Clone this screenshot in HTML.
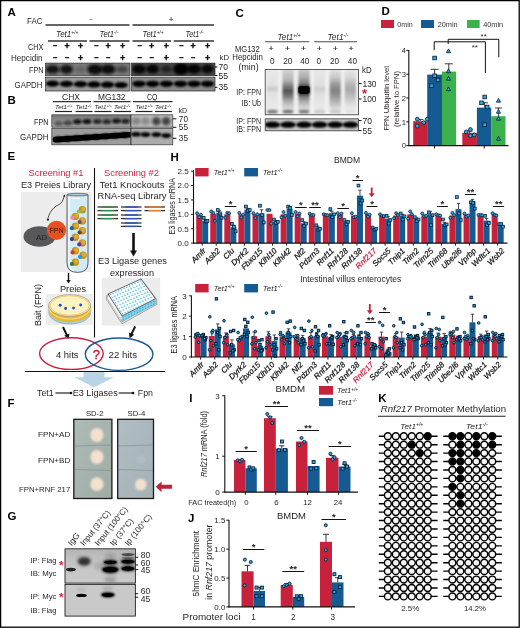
<!DOCTYPE html>
<html lang="en"><head><meta charset="utf-8"><title>Figure</title>
<style>
html,body{margin:0;padding:0;background:#fff;}
body{width:520px;height:628px;overflow:hidden;font-family:"Liberation Sans",sans-serif;}
svg{display:block;font-family:"Liberation Sans",sans-serif;fill:#231f20;}
</style></head><body>
<svg width="520" height="628" viewBox="0 0 520 628">
<defs>
<filter id="bl1" x="-30%" y="-60%" width="160%" height="220%"><feGaussianBlur stdDeviation="0.6"/></filter>
<filter id="bl15" x="-40%" y="-80%" width="180%" height="260%"><feGaussianBlur stdDeviation="1.0"/></filter>
<filter id="bl2" x="-40%" y="-80%" width="180%" height="260%"><feGaussianBlur stdDeviation="1.4"/></filter>
<filter id="bl3" x="-50%" y="-80%" width="200%" height="260%"><feGaussianBlur stdDeviation="2.4"/></filter>
<filter id="bl4" x="-50%" y="-50%" width="200%" height="200%"><feGaussianBlur stdDeviation="3.5"/></filter>
</defs>
<rect x="0" y="0" width="520" height="628" fill="#fff"/>
<text x="7.50" y="16.30" font-size="11.5" font-weight="bold" fill="#000">A</text>
<text x="27.00" y="23.60" font-size="8.4" textLength="15.50" lengthAdjust="spacingAndGlyphs">FAC</text>
<text x="91.00" y="21.84" font-size="6.4" text-anchor="middle" fill="#333" stroke="#333" stroke-width="0.15">−</text>
<text x="171.00" y="21.80" font-size="8" text-anchor="middle" fill="#333" stroke="#333" stroke-width="0.15">+</text>
<line x1="45.50" y1="25.00" x2="129.50" y2="25.00" stroke="#333" stroke-width="1.3" />
<line x1="132.50" y1="25.00" x2="214.00" y2="25.00" stroke="#333" stroke-width="1.3" />
<text x="56.00" y="37.00" font-size="8.2" font-style="italic" textLength="22.50" lengthAdjust="spacingAndGlyphs">Tet1<tspan font-size="5.08" dy="-2.95">+/+</tspan></text>
<text x="99.50" y="37.00" font-size="8.2" font-style="italic" textLength="19.00" lengthAdjust="spacingAndGlyphs">Tet1<tspan font-size="5.08" dy="-2.95">-/-</tspan></text>
<text x="142.50" y="37.00" font-size="8.2" font-style="italic" textLength="21.00" lengthAdjust="spacingAndGlyphs">Tet1<tspan font-size="5.08" dy="-2.95">+/+</tspan></text>
<text x="185.50" y="37.00" font-size="8.2" font-style="italic" textLength="18.00" lengthAdjust="spacingAndGlyphs">Tet1<tspan font-size="5.08" dy="-2.95">-/-</tspan></text>
<line x1="48.00" y1="41.00" x2="87.00" y2="41.00" stroke="#333" stroke-width="1.3" />
<line x1="89.50" y1="41.00" x2="129.50" y2="41.00" stroke="#333" stroke-width="1.3" />
<line x1="132.50" y1="41.00" x2="171.00" y2="41.00" stroke="#333" stroke-width="1.3" />
<line x1="173.80" y1="41.00" x2="214.00" y2="41.00" stroke="#333" stroke-width="1.3" />
<text x="28.00" y="49.60" font-size="8.4" textLength="15.50" lengthAdjust="spacingAndGlyphs">CHX</text>
<text x="11.00" y="61.00" font-size="8.4" textLength="31.50" lengthAdjust="spacingAndGlyphs">Hepcidin</text>
<text x="55.00" y="48.25" font-size="7" text-anchor="middle" font-weight="bold" fill="#111" stroke="#111" stroke-width="0.5">−</text>
<text x="55.00" y="60.45" font-size="7" text-anchor="middle" font-weight="bold" fill="#111" stroke="#111" stroke-width="0.5">−</text>
<text x="67.00" y="48.88" font-size="8.8" text-anchor="middle" font-weight="bold" fill="#111" stroke="#111" stroke-width="0.4">+</text>
<text x="67.00" y="60.45" font-size="7" text-anchor="middle" font-weight="bold" fill="#111" stroke="#111" stroke-width="0.5">−</text>
<text x="80.50" y="48.88" font-size="8.8" text-anchor="middle" font-weight="bold" fill="#111" stroke="#111" stroke-width="0.4">+</text>
<text x="80.50" y="61.08" font-size="8.8" text-anchor="middle" font-weight="bold" fill="#111" stroke="#111" stroke-width="0.4">+</text>
<text x="96.20" y="48.25" font-size="7" text-anchor="middle" font-weight="bold" fill="#111" stroke="#111" stroke-width="0.5">−</text>
<text x="96.20" y="60.45" font-size="7" text-anchor="middle" font-weight="bold" fill="#111" stroke="#111" stroke-width="0.5">−</text>
<text x="108.00" y="48.88" font-size="8.8" text-anchor="middle" font-weight="bold" fill="#111" stroke="#111" stroke-width="0.4">+</text>
<text x="108.00" y="60.45" font-size="7" text-anchor="middle" font-weight="bold" fill="#111" stroke="#111" stroke-width="0.5">−</text>
<text x="122.50" y="48.88" font-size="8.8" text-anchor="middle" font-weight="bold" fill="#111" stroke="#111" stroke-width="0.4">+</text>
<text x="122.50" y="61.08" font-size="8.8" text-anchor="middle" font-weight="bold" fill="#111" stroke="#111" stroke-width="0.4">+</text>
<text x="139.50" y="48.25" font-size="7" text-anchor="middle" font-weight="bold" fill="#111" stroke="#111" stroke-width="0.5">−</text>
<text x="139.50" y="60.45" font-size="7" text-anchor="middle" font-weight="bold" fill="#111" stroke="#111" stroke-width="0.5">−</text>
<text x="151.50" y="48.88" font-size="8.8" text-anchor="middle" font-weight="bold" fill="#111" stroke="#111" stroke-width="0.4">+</text>
<text x="151.50" y="60.45" font-size="7" text-anchor="middle" font-weight="bold" fill="#111" stroke="#111" stroke-width="0.5">−</text>
<text x="166.20" y="48.88" font-size="8.8" text-anchor="middle" font-weight="bold" fill="#111" stroke="#111" stroke-width="0.4">+</text>
<text x="166.20" y="61.08" font-size="8.8" text-anchor="middle" font-weight="bold" fill="#111" stroke="#111" stroke-width="0.4">+</text>
<text x="181.20" y="48.25" font-size="7" text-anchor="middle" font-weight="bold" fill="#111" stroke="#111" stroke-width="0.5">−</text>
<text x="181.20" y="60.45" font-size="7" text-anchor="middle" font-weight="bold" fill="#111" stroke="#111" stroke-width="0.5">−</text>
<text x="193.00" y="48.88" font-size="8.8" text-anchor="middle" font-weight="bold" fill="#111" stroke="#111" stroke-width="0.4">+</text>
<text x="193.00" y="60.45" font-size="7" text-anchor="middle" font-weight="bold" fill="#111" stroke="#111" stroke-width="0.5">−</text>
<text x="207.50" y="48.88" font-size="8.8" text-anchor="middle" font-weight="bold" fill="#111" stroke="#111" stroke-width="0.4">+</text>
<text x="207.50" y="61.08" font-size="8.8" text-anchor="middle" font-weight="bold" fill="#111" stroke="#111" stroke-width="0.4">+</text>
<text x="29.00" y="73.00" font-size="8.4" textLength="14.50" lengthAdjust="spacingAndGlyphs">FPN</text>
<text x="14.60" y="88.00" font-size="8.4" textLength="27.80" lengthAdjust="spacingAndGlyphs">GAPDH</text>
<clipPath id="cp1"><rect x="45.40" y="63.10" width="84.60" height="12.80"/></clipPath>
<g clip-path="url(#cp1)">
<rect x="45.40" y="63.10" width="84.60" height="12.80" fill="#7b7b7b" />
<ellipse cx="52.50" cy="69.30" rx="7.00" ry="4.40" fill="#0c0c0c" opacity="0.95" filter="url(#bl2)"/>
<ellipse cx="66.50" cy="69.30" rx="6.50" ry="4.60" fill="#0c0c0c" opacity="0.95" filter="url(#bl2)"/>
<ellipse cx="80.00" cy="69.30" rx="5.00" ry="3.00" fill="#0c0c0c" opacity="0.2" filter="url(#bl2)"/>
<ellipse cx="95.00" cy="69.30" rx="8.00" ry="5.40" fill="#0c0c0c" opacity="1" filter="url(#bl2)"/>
<ellipse cx="108.00" cy="69.30" rx="7.40" ry="5.00" fill="#0c0c0c" opacity="1" filter="url(#bl2)"/>
<ellipse cx="122.00" cy="69.30" rx="6.00" ry="3.60" fill="#0c0c0c" opacity="0.5" filter="url(#bl2)"/>
</g>
<rect x="45.40" y="63.10" width="84.60" height="12.80" fill="none" stroke="#2a2a2a" stroke-width="0.7" />
<clipPath id="cp2"><rect x="45.40" y="77.60" width="84.60" height="13.40"/></clipPath>
<g clip-path="url(#cp2)">
<rect x="45.40" y="77.60" width="84.60" height="13.40" fill="#9a9a9a" />
<ellipse cx="52.50" cy="83.61" rx="6.80" ry="3.10" fill="#000" opacity="1" filter="url(#bl15)"/>
<ellipse cx="66.50" cy="83.89" rx="6.80" ry="3.10" fill="#000" opacity="1" filter="url(#bl15)"/>
<ellipse cx="80.50" cy="84.17" rx="6.80" ry="3.10" fill="#000" opacity="1" filter="url(#bl15)"/>
<ellipse cx="94.00" cy="84.44" rx="6.80" ry="3.10" fill="#000" opacity="1" filter="url(#bl15)"/>
<ellipse cx="107.50" cy="84.71" rx="6.80" ry="3.10" fill="#000" opacity="1" filter="url(#bl15)"/>
<ellipse cx="121.00" cy="84.98" rx="6.80" ry="3.10" fill="#000" opacity="1" filter="url(#bl15)"/>
</g>
<rect x="45.40" y="77.60" width="84.60" height="13.40" fill="none" stroke="#2a2a2a" stroke-width="0.7" />
<clipPath id="cp3"><rect x="131.40" y="63.10" width="83.60" height="12.80"/></clipPath>
<g clip-path="url(#cp3)">
<rect x="131.40" y="63.10" width="83.60" height="12.80" fill="#4a4a4a" />
<ellipse cx="139.00" cy="69.00" rx="7.00" ry="4.60" fill="#050505" opacity="0.95" filter="url(#bl2)"/>
<ellipse cx="152.50" cy="69.00" rx="6.50" ry="4.40" fill="#050505" opacity="0.95" filter="url(#bl2)"/>
<ellipse cx="166.50" cy="69.00" rx="5.50" ry="3.60" fill="#050505" opacity="0.55" filter="url(#bl2)"/>
<ellipse cx="181.00" cy="69.00" rx="8.00" ry="6.00" fill="#050505" opacity="1" filter="url(#bl2)"/>
<ellipse cx="194.00" cy="69.00" rx="7.00" ry="5.00" fill="#050505" opacity="0.95" filter="url(#bl2)"/>
<ellipse cx="207.50" cy="69.00" rx="6.50" ry="4.40" fill="#050505" opacity="0.9" filter="url(#bl2)"/>
</g>
<rect x="131.40" y="63.10" width="83.60" height="12.80" fill="none" stroke="#2a2a2a" stroke-width="0.7" />
<clipPath id="cp4"><rect x="131.40" y="77.60" width="83.60" height="13.40"/></clipPath>
<g clip-path="url(#cp4)">
<rect x="131.40" y="77.60" width="83.60" height="13.40" fill="#888" />
<ellipse cx="139.00" cy="83.80" rx="6.80" ry="3.10" fill="#000" opacity="1" filter="url(#bl15)"/>
<ellipse cx="152.50" cy="83.80" rx="6.80" ry="3.10" fill="#000" opacity="1" filter="url(#bl15)"/>
<ellipse cx="166.50" cy="83.80" rx="6.80" ry="3.10" fill="#000" opacity="1" filter="url(#bl15)"/>
<ellipse cx="180.50" cy="83.80" rx="6.80" ry="3.10" fill="#000" opacity="1" filter="url(#bl15)"/>
<ellipse cx="194.00" cy="83.80" rx="6.80" ry="3.10" fill="#000" opacity="1" filter="url(#bl15)"/>
<ellipse cx="207.50" cy="83.80" rx="6.80" ry="3.10" fill="#000" opacity="1" filter="url(#bl15)"/>
</g>
<rect x="131.40" y="77.60" width="83.60" height="13.40" fill="none" stroke="#2a2a2a" stroke-width="0.7" />
<text x="219.50" y="60.30" font-size="8" textLength="9.50" lengthAdjust="spacingAndGlyphs">kD</text>
<line x1="215.00" y1="67.00" x2="217.50" y2="67.00" stroke="#111" stroke-width="1" />
<text x="218.50" y="70.00" font-size="8.4" textLength="9.50" lengthAdjust="spacingAndGlyphs">70</text>
<line x1="215.00" y1="75.50" x2="217.50" y2="75.50" stroke="#111" stroke-width="1" />
<text x="218.50" y="78.50" font-size="8.4" textLength="9.50" lengthAdjust="spacingAndGlyphs">55</text>
<line x1="215.00" y1="87.30" x2="217.50" y2="87.30" stroke="#111" stroke-width="1" />
<text x="218.50" y="90.30" font-size="8.4" textLength="9.50" lengthAdjust="spacingAndGlyphs">35</text>
<text x="7.50" y="104.30" font-size="11.5" font-weight="bold" fill="#000">B</text>
<text x="62.00" y="99.60" font-size="8.6" textLength="18.00" lengthAdjust="spacingAndGlyphs">CHX</text>
<text x="98.00" y="99.60" font-size="8.6" textLength="27.50" lengthAdjust="spacingAndGlyphs">MG132</text>
<text x="147.00" y="99.60" font-size="8.6" textLength="10.50" lengthAdjust="spacingAndGlyphs">CQ</text>
<line x1="53.00" y1="101.60" x2="91.00" y2="101.60" stroke="#333" stroke-width="1.3" />
<line x1="93.50" y1="101.60" x2="130.50" y2="101.60" stroke="#333" stroke-width="1.3" />
<line x1="133.00" y1="101.60" x2="172.50" y2="101.60" stroke="#333" stroke-width="1.3" />
<text x="55.00" y="109.20" font-size="5.8" font-style="italic" textLength="17.50" lengthAdjust="spacingAndGlyphs">Tet1<tspan font-size="3.60" dy="-2.09">+/+</tspan></text>
<line x1="55.00" y1="111.50" x2="72.00" y2="111.50" stroke="#222" stroke-width="1.2" />
<text x="75.50" y="109.20" font-size="5.8" font-style="italic" textLength="16.00" lengthAdjust="spacingAndGlyphs">Tet1<tspan font-size="3.60" dy="-2.09">-/-</tspan></text>
<line x1="75.50" y1="111.50" x2="92.50" y2="111.50" stroke="#222" stroke-width="1.2" />
<text x="94.50" y="109.20" font-size="5.8" font-style="italic" textLength="17.50" lengthAdjust="spacingAndGlyphs">Tet1<tspan font-size="3.60" dy="-2.09">+/+</tspan></text>
<line x1="94.50" y1="111.50" x2="111.50" y2="111.50" stroke="#222" stroke-width="1.2" />
<text x="114.00" y="109.20" font-size="5.8" font-style="italic" textLength="16.00" lengthAdjust="spacingAndGlyphs">Tet1<tspan font-size="3.60" dy="-2.09">-/-</tspan></text>
<line x1="114.00" y1="111.50" x2="131.00" y2="111.50" stroke="#222" stroke-width="1.2" />
<text x="135.50" y="109.20" font-size="5.8" font-style="italic" textLength="17.50" lengthAdjust="spacingAndGlyphs">Tet1<tspan font-size="3.60" dy="-2.09">+/+</tspan></text>
<line x1="135.50" y1="111.50" x2="152.50" y2="111.50" stroke="#222" stroke-width="1.2" />
<text x="155.00" y="109.20" font-size="5.8" font-style="italic" textLength="16.00" lengthAdjust="spacingAndGlyphs">Tet1<tspan font-size="3.60" dy="-2.09">-/-</tspan></text>
<line x1="155.00" y1="111.50" x2="172.00" y2="111.50" stroke="#222" stroke-width="1.2" />
<text x="34.00" y="125.00" font-size="8.4" textLength="14.50" lengthAdjust="spacingAndGlyphs">FPN</text>
<text x="20.00" y="140.00" font-size="8.4" textLength="28.50" lengthAdjust="spacingAndGlyphs">GAPDH</text>
<linearGradient id="bfg" x1="0" y1="0" x2="0" y2="1"><stop offset="0" stop-color="#747474"/><stop offset="0.5" stop-color="#8e8e8e"/><stop offset="1" stop-color="#a0a0a0"/></linearGradient>
<clipPath id="cp5"><rect x="51.80" y="114.80" width="79.20" height="12.40"/></clipPath>
<g clip-path="url(#cp5)">
<rect x="51.80" y="114.80" width="79.20" height="12.40" fill="url(#bfg)" />
<ellipse cx="58.70" cy="123.50" rx="4.40" ry="2.50" fill="#0a0a0a" opacity="0.45" filter="url(#bl15)"/>
<ellipse cx="67.90" cy="123.00" rx="4.40" ry="2.50" fill="#0a0a0a" opacity="0.6" filter="url(#bl15)"/>
<ellipse cx="77.40" cy="121.80" rx="4.40" ry="2.50" fill="#0a0a0a" opacity="0.95" filter="url(#bl15)"/>
<ellipse cx="87.00" cy="121.50" rx="4.40" ry="2.50" fill="#0a0a0a" opacity="1" filter="url(#bl15)"/>
<ellipse cx="97.30" cy="121.60" rx="4.40" ry="2.50" fill="#0a0a0a" opacity="0.8" filter="url(#bl15)"/>
<ellipse cx="106.80" cy="121.80" rx="4.40" ry="2.50" fill="#0a0a0a" opacity="0.8" filter="url(#bl15)"/>
<ellipse cx="116.40" cy="121.10" rx="4.40" ry="2.50" fill="#0a0a0a" opacity="0.95" filter="url(#bl15)"/>
<ellipse cx="125.40" cy="121.30" rx="4.40" ry="2.50" fill="#0a0a0a" opacity="0.85" filter="url(#bl15)"/>
</g>
<rect x="51.80" y="114.80" width="79.20" height="12.40" fill="none" stroke="#2a2a2a" stroke-width="0.7" />
<clipPath id="cp6"><rect x="131.00" y="114.80" width="41.80" height="12.40"/></clipPath>
<g clip-path="url(#cp6)">
<rect x="131.00" y="114.80" width="41.80" height="12.40" fill="#bcbcbc" />
<ellipse cx="136.00" cy="121.20" rx="4.30" ry="4.00" fill="#222" opacity="0.35" filter="url(#bl2)"/>
<ellipse cx="145.50" cy="121.20" rx="4.30" ry="4.00" fill="#222" opacity="0.3" filter="url(#bl2)"/>
<ellipse cx="156.40" cy="121.20" rx="4.30" ry="4.20" fill="#222" opacity="0.8" filter="url(#bl2)"/>
<ellipse cx="166.20" cy="121.20" rx="4.30" ry="4.20" fill="#222" opacity="0.8" filter="url(#bl2)"/>
</g>
<rect x="131.00" y="114.80" width="41.80" height="12.40" fill="none" stroke="#2a2a2a" stroke-width="0.7" />
<clipPath id="cp7"><rect x="51.80" y="128.40" width="79.20" height="16.40"/></clipPath>
<g clip-path="url(#cp7)">
<rect x="51.80" y="128.40" width="79.20" height="16.40" fill="#9c9c9c" />
<polyline points="55.5,139.6 129.5,134.8" fill="none" stroke="#000" stroke-width="5.6" stroke-linecap="round" filter="url(#bl1)"/>
<ellipse cx="58.50" cy="139.31" rx="5.20" ry="2.90" fill="#000" opacity="1" filter="url(#bl15)"/>
<ellipse cx="67.50" cy="138.73" rx="5.20" ry="2.90" fill="#000" opacity="1" filter="url(#bl15)"/>
<ellipse cx="77.00" cy="138.12" rx="5.20" ry="2.90" fill="#000" opacity="1" filter="url(#bl15)"/>
<ellipse cx="86.50" cy="137.52" rx="5.20" ry="2.90" fill="#000" opacity="1" filter="url(#bl15)"/>
<ellipse cx="96.00" cy="136.91" rx="5.20" ry="2.90" fill="#000" opacity="1" filter="url(#bl15)"/>
<ellipse cx="105.50" cy="136.30" rx="5.20" ry="2.90" fill="#000" opacity="1" filter="url(#bl15)"/>
<ellipse cx="115.00" cy="135.69" rx="5.20" ry="2.90" fill="#000" opacity="1" filter="url(#bl15)"/>
<ellipse cx="124.50" cy="135.08" rx="5.20" ry="2.90" fill="#000" opacity="1" filter="url(#bl15)"/>
</g>
<rect x="51.80" y="128.40" width="79.20" height="16.40" fill="none" stroke="#2a2a2a" stroke-width="0.7" />
<clipPath id="cp8"><rect x="131.00" y="128.40" width="41.80" height="16.40"/></clipPath>
<g clip-path="url(#cp8)">
<rect x="131.00" y="128.40" width="41.80" height="16.40" fill="#ababab" />
<ellipse cx="136.00" cy="134.20" rx="4.90" ry="2.30" fill="#000" opacity="1" filter="url(#bl15)"/>
<ellipse cx="145.50" cy="134.60" rx="4.90" ry="2.30" fill="#000" opacity="1" filter="url(#bl15)"/>
<ellipse cx="156.40" cy="134.60" rx="4.90" ry="2.30" fill="#000" opacity="1" filter="url(#bl15)"/>
<ellipse cx="166.20" cy="135.60" rx="4.90" ry="2.30" fill="#000" opacity="1" filter="url(#bl15)"/>
</g>
<rect x="131.00" y="128.40" width="41.80" height="16.40" fill="none" stroke="#2a2a2a" stroke-width="0.7" />
<text x="178.40" y="113.00" font-size="8" textLength="8.60" lengthAdjust="spacingAndGlyphs">kD</text>
<line x1="172.80" y1="118.80" x2="176.40" y2="118.80" stroke="#111" stroke-width="1" />
<text x="178.80" y="121.80" font-size="8.4" textLength="9.20" lengthAdjust="spacingAndGlyphs">70</text>
<line x1="172.80" y1="127.30" x2="176.40" y2="127.30" stroke="#111" stroke-width="1" />
<text x="178.80" y="130.30" font-size="8.4" textLength="9.20" lengthAdjust="spacingAndGlyphs">55</text>
<line x1="172.80" y1="138.30" x2="176.40" y2="138.30" stroke="#111" stroke-width="1" />
<text x="178.80" y="141.30" font-size="8.4" textLength="9.20" lengthAdjust="spacingAndGlyphs">35</text>
<text x="235.50" y="16.80" font-size="11.5" font-weight="bold" fill="#000">C</text>
<text x="277.60" y="39.60" font-size="8.2" font-style="italic" textLength="23.00" lengthAdjust="spacingAndGlyphs">Tet1<tspan font-size="5.08" dy="-2.95">+/+</tspan></text>
<text x="327.50" y="39.60" font-size="8.2" font-style="italic" textLength="21.00" lengthAdjust="spacingAndGlyphs">Tet1<tspan font-size="5.08" dy="-2.95">-/-</tspan></text>
<line x1="265.20" y1="41.70" x2="309.30" y2="41.70" stroke="#4a4a4a" stroke-width="1.1" />
<line x1="314.20" y1="41.70" x2="357.00" y2="41.70" stroke="#4a4a4a" stroke-width="1.1" />
<text x="235.00" y="51.80" font-size="8.2" textLength="24.70" lengthAdjust="spacingAndGlyphs">MG132</text>
<text x="232.30" y="60.40" font-size="8.2" textLength="30.50" lengthAdjust="spacingAndGlyphs">Hepcidin</text>
<text x="238.60" y="69.60" font-size="8.2" textLength="20.00" lengthAdjust="spacingAndGlyphs">(min)</text>
<text x="271.20" y="51.20" font-size="8" text-anchor="middle" fill="#222" stroke="#222" stroke-width="0.2">+</text>
<text x="287.70" y="51.20" font-size="8" text-anchor="middle" fill="#222" stroke="#222" stroke-width="0.2">+</text>
<text x="303.50" y="51.20" font-size="8" text-anchor="middle" fill="#222" stroke="#222" stroke-width="0.2">+</text>
<text x="319.40" y="51.20" font-size="8" text-anchor="middle" fill="#222" stroke="#222" stroke-width="0.2">+</text>
<text x="335.30" y="51.20" font-size="8" text-anchor="middle" fill="#222" stroke="#222" stroke-width="0.2">+</text>
<text x="351.00" y="51.20" font-size="8" text-anchor="middle" fill="#222" stroke="#222" stroke-width="0.2">+</text>
<text x="272.40" y="64.40" font-size="8.2" text-anchor="middle">0</text>
<text x="287.70" y="64.40" font-size="8.2" text-anchor="middle">20</text>
<text x="304.80" y="64.40" font-size="8.2" text-anchor="middle">40</text>
<text x="318.80" y="64.40" font-size="8.2" text-anchor="middle">0</text>
<text x="334.60" y="64.40" font-size="8.2" text-anchor="middle">20</text>
<text x="352.40" y="64.40" font-size="8.2" text-anchor="middle">40</text>
<text x="362.00" y="72.60" font-size="8.2" textLength="9.50" lengthAdjust="spacingAndGlyphs">kD</text>
<clipPath id="cp9"><rect x="265.20" y="69.50" width="93.20" height="45.30"/></clipPath>
<g clip-path="url(#cp9)">
<rect x="265.20" y="69.50" width="93.20" height="45.30" fill="#f0f0f0" />
<linearGradient id="lg0" gradientUnits="userSpaceOnUse" x1="0" y1="69.5" x2="0" y2="114.8"><stop offset="0.011" stop-color="#000" stop-opacity="0.03"/><stop offset="0.342" stop-color="#000" stop-opacity="0.06"/><stop offset="0.430" stop-color="#000" stop-opacity="0.17"/><stop offset="0.519" stop-color="#000" stop-opacity="0.06"/><stop offset="0.850" stop-color="#000" stop-opacity="0.03"/></linearGradient><rect x="266.80" y="69" width="11.2" height="44" fill="url(#lg0)" filter="url(#bl15)"/><linearGradient id="lg1" gradientUnits="userSpaceOnUse" x1="0" y1="69.5" x2="0" y2="114.8"><stop offset="0.011" stop-color="#000" stop-opacity="0.13"/><stop offset="0.232" stop-color="#000" stop-opacity="0.24"/><stop offset="0.364" stop-color="#000" stop-opacity="0.48"/><stop offset="0.475" stop-color="#000" stop-opacity="0.66"/><stop offset="0.585" stop-color="#000" stop-opacity="0.5"/><stop offset="0.717" stop-color="#000" stop-opacity="0.25"/><stop offset="0.850" stop-color="#000" stop-opacity="0.1"/></linearGradient><rect x="282.40" y="69" width="11.2" height="44" fill="url(#lg1)" filter="url(#bl15)"/><linearGradient id="lg2" gradientUnits="userSpaceOnUse" x1="0" y1="69.5" x2="0" y2="114.8"><stop offset="0.011" stop-color="#000" stop-opacity="0.16"/><stop offset="0.188" stop-color="#000" stop-opacity="0.3"/><stop offset="0.320" stop-color="#000" stop-opacity="0.5"/><stop offset="0.408" stop-color="#000" stop-opacity="0.62"/><stop offset="0.585" stop-color="#000" stop-opacity="0.55"/><stop offset="0.695" stop-color="#000" stop-opacity="0.3"/><stop offset="0.850" stop-color="#000" stop-opacity="0.1"/></linearGradient><rect x="298.40" y="69" width="11.2" height="44" fill="url(#lg2)" filter="url(#bl15)"/><linearGradient id="lg3" gradientUnits="userSpaceOnUse" x1="0" y1="69.5" x2="0" y2="114.8"><stop offset="0.011" stop-color="#000" stop-opacity="0.04"/><stop offset="0.342" stop-color="#000" stop-opacity="0.07"/><stop offset="0.430" stop-color="#000" stop-opacity="0.15"/><stop offset="0.541" stop-color="#000" stop-opacity="0.07"/><stop offset="0.850" stop-color="#000" stop-opacity="0.03"/></linearGradient><rect x="314.00" y="69" width="11.2" height="44" fill="url(#lg3)" filter="url(#bl15)"/><linearGradient id="lg4" gradientUnits="userSpaceOnUse" x1="0" y1="69.5" x2="0" y2="114.8"><stop offset="0.011" stop-color="#000" stop-opacity="0.06"/><stop offset="0.188" stop-color="#000" stop-opacity="0.18"/><stop offset="0.342" stop-color="#000" stop-opacity="0.38"/><stop offset="0.475" stop-color="#000" stop-opacity="0.46"/><stop offset="0.607" stop-color="#000" stop-opacity="0.36"/><stop offset="0.762" stop-color="#000" stop-opacity="0.2"/><stop offset="0.894" stop-color="#000" stop-opacity="0.05"/></linearGradient><rect x="329.60" y="69" width="11.2" height="44" fill="url(#lg4)" filter="url(#bl15)"/><linearGradient id="lg5" gradientUnits="userSpaceOnUse" x1="0" y1="69.5" x2="0" y2="114.8"><stop offset="0.011" stop-color="#000" stop-opacity="0.04"/><stop offset="0.188" stop-color="#000" stop-opacity="0.12"/><stop offset="0.342" stop-color="#000" stop-opacity="0.25"/><stop offset="0.453" stop-color="#000" stop-opacity="0.3"/><stop offset="0.607" stop-color="#000" stop-opacity="0.2"/><stop offset="0.762" stop-color="#000" stop-opacity="0.08"/><stop offset="0.894" stop-color="#000" stop-opacity="0.02"/></linearGradient><rect x="344.80" y="69" width="11.2" height="44" fill="url(#lg5)" filter="url(#bl15)"/><rect x="298.4" y="86.3" width="11.2" height="7.4" rx="2" fill="#000" filter="url(#bl1)"/><rect x="297.8" y="85.4" width="12.4" height="9.4" rx="2" fill="#000" opacity="0.55" filter="url(#bl15)"/>
<ellipse cx="272.40" cy="111.70" rx="5.40" ry="1.90" fill="#333" opacity="0.6" filter="url(#bl15)"/>
<ellipse cx="288.00" cy="111.70" rx="5.40" ry="1.90" fill="#333" opacity="0.6" filter="url(#bl15)"/>
<ellipse cx="304.00" cy="111.70" rx="5.40" ry="1.90" fill="#333" opacity="0.55" filter="url(#bl15)"/>
<ellipse cx="319.60" cy="111.70" rx="5.40" ry="1.90" fill="#333" opacity="0.16" filter="url(#bl15)"/>
<ellipse cx="335.20" cy="111.70" rx="5.40" ry="1.90" fill="#333" opacity="0.16" filter="url(#bl15)"/>
<ellipse cx="350.40" cy="111.70" rx="5.40" ry="1.90" fill="#333" opacity="0.04" filter="url(#bl15)"/>
</g>
<rect x="265.20" y="69.50" width="93.20" height="45.30" fill="none" stroke="#333" stroke-width="0.8" />
<clipPath id="cp10"><rect x="265.20" y="118.80" width="93.20" height="12.00"/></clipPath>
<g clip-path="url(#cp10)">
<rect x="265.20" y="118.80" width="93.20" height="12.00" fill="#c4c4c4" />
<ellipse cx="272.40" cy="124.70" rx="7.90" ry="3.10" fill="#000" opacity="1" filter="url(#bl15)"/>
<ellipse cx="288.00" cy="124.70" rx="7.90" ry="3.10" fill="#000" opacity="1" filter="url(#bl15)"/>
<ellipse cx="304.00" cy="124.70" rx="7.90" ry="3.10" fill="#000" opacity="1" filter="url(#bl15)"/>
<ellipse cx="319.60" cy="124.70" rx="7.90" ry="3.10" fill="#000" opacity="1" filter="url(#bl15)"/>
<ellipse cx="335.20" cy="124.70" rx="7.90" ry="3.10" fill="#000" opacity="1" filter="url(#bl15)"/>
<ellipse cx="350.40" cy="124.70" rx="7.90" ry="3.10" fill="#000" opacity="1" filter="url(#bl15)"/>
</g>
<rect x="265.20" y="118.80" width="93.20" height="12.00" fill="none" stroke="#333" stroke-width="0.8" />
<text x="236.30" y="94.60" font-size="8.2" textLength="24.70" lengthAdjust="spacingAndGlyphs">IP: FPN</text>
<text x="241.50" y="106.00" font-size="8.2" textLength="19.50" lengthAdjust="spacingAndGlyphs">IB: Ub</text>
<text x="236.30" y="124.30" font-size="8.2" textLength="24.70" lengthAdjust="spacingAndGlyphs">IP: FPN</text>
<text x="236.30" y="131.60" font-size="8.2" textLength="24.70" lengthAdjust="spacingAndGlyphs">IB: FPN</text>
<line x1="358.60" y1="83.60" x2="361.60" y2="83.60" stroke="#111" stroke-width="1" />
<text x="362.50" y="86.60" font-size="8.4" textLength="14.00" lengthAdjust="spacingAndGlyphs">130</text>
<line x1="358.60" y1="99.00" x2="361.60" y2="99.00" stroke="#111" stroke-width="1" />
<text x="362.50" y="102.00" font-size="8.4" textLength="14.00" lengthAdjust="spacingAndGlyphs">100</text>
<line x1="358.60" y1="120.60" x2="361.60" y2="120.60" stroke="#111" stroke-width="1" />
<text x="362.50" y="123.60" font-size="8.4" textLength="9.50" lengthAdjust="spacingAndGlyphs">70</text>
<line x1="358.60" y1="130.60" x2="361.60" y2="130.60" stroke="#111" stroke-width="1" />
<text x="362.50" y="133.60" font-size="8.4" textLength="9.50" lengthAdjust="spacingAndGlyphs">55</text>
<text x="364.60" y="97.50" font-size="13" text-anchor="middle" font-weight="bold" fill="#c8213c">*</text>
<text x="381.50" y="15.20" font-size="11.5" font-weight="bold" fill="#000">D</text>
<rect x="381.00" y="20.00" width="13.00" height="8.00" fill="#c8213c" />
<text x="397.30" y="27.20" font-size="7.6" fill="#333" textLength="15.50" lengthAdjust="spacingAndGlyphs">0min</text>
<rect x="421.00" y="20.00" width="13.00" height="8.00" fill="#165a92" />
<text x="437.70" y="27.20" font-size="7.6" fill="#333" textLength="20.00" lengthAdjust="spacingAndGlyphs">20min</text>
<rect x="467.00" y="20.00" width="12.60" height="8.00" fill="#3cb04a" />
<text x="483.20" y="27.20" font-size="7.6" fill="#333" textLength="20.00" lengthAdjust="spacingAndGlyphs">40min</text>
<rect x="413.20" y="121.20" width="14.00" height="24.40" fill="#c8213c" />
<rect x="427.20" y="74.60" width="14.80" height="71.00" fill="#165a92" />
<rect x="442.00" y="71.60" width="14.10" height="74.00" fill="#3cb04a" />
<rect x="462.30" y="132.80" width="14.60" height="12.80" fill="#c8213c" />
<rect x="476.90" y="107.60" width="14.30" height="38.00" fill="#165a92" />
<rect x="491.20" y="116.20" width="14.30" height="29.40" fill="#3cb04a" />
<line x1="434.60" y1="69.30" x2="434.60" y2="74.60" stroke="#231f20" stroke-width="0.9" />
<line x1="430.60" y1="69.30" x2="438.60" y2="69.30" stroke="#231f20" stroke-width="0.9" />
<line x1="448.80" y1="63.80" x2="448.80" y2="71.60" stroke="#231f20" stroke-width="0.9" />
<line x1="444.80" y1="63.80" x2="452.80" y2="63.80" stroke="#231f20" stroke-width="0.9" />
<line x1="484.40" y1="102.80" x2="484.40" y2="107.60" stroke="#231f20" stroke-width="0.9" />
<line x1="480.90" y1="102.80" x2="487.90" y2="102.80" stroke="#231f20" stroke-width="0.9" />
<line x1="498.40" y1="108.00" x2="498.40" y2="116.20" stroke="#231f20" stroke-width="0.9" />
<line x1="494.90" y1="108.00" x2="501.90" y2="108.00" stroke="#231f20" stroke-width="0.9" />
<line x1="420.30" y1="119.60" x2="420.30" y2="121.20" stroke="#231f20" stroke-width="0.9" />
<line x1="417.30" y1="119.60" x2="423.30" y2="119.60" stroke="#231f20" stroke-width="0.9" />
<line x1="469.60" y1="131.00" x2="469.60" y2="132.80" stroke="#231f20" stroke-width="0.9" />
<line x1="466.60" y1="131.00" x2="472.60" y2="131.00" stroke="#231f20" stroke-width="0.9" />
<line x1="408.80" y1="50.00" x2="408.80" y2="146.10" stroke="#111" stroke-width="1.1" />
<line x1="408.30" y1="145.60" x2="508.50" y2="145.60" stroke="#111" stroke-width="1.1" />
<line x1="406.30" y1="145.60" x2="408.80" y2="145.60" stroke="#111" stroke-width="1" />
<text x="406.00" y="148.40" font-size="7.6" text-anchor="end">0</text>
<line x1="406.30" y1="121.80" x2="408.80" y2="121.80" stroke="#111" stroke-width="1" />
<text x="406.00" y="124.60" font-size="7.6" text-anchor="end">1</text>
<line x1="406.30" y1="98.00" x2="408.80" y2="98.00" stroke="#111" stroke-width="1" />
<text x="406.00" y="100.80" font-size="7.6" text-anchor="end">2</text>
<line x1="406.30" y1="74.20" x2="408.80" y2="74.20" stroke="#111" stroke-width="1" />
<text x="406.00" y="77.00" font-size="7.6" text-anchor="end">3</text>
<line x1="406.30" y1="50.40" x2="408.80" y2="50.40" stroke="#111" stroke-width="1" />
<text x="406.00" y="53.20" font-size="7.6" text-anchor="end">4</text>
<line x1="434.60" y1="145.60" x2="434.60" y2="148.40" stroke="#111" stroke-width="1" />
<line x1="484.20" y1="145.60" x2="484.20" y2="148.40" stroke="#111" stroke-width="1" />
<text x="388.60" y="130.60" font-size="7.6" textLength="64.60" lengthAdjust="spacingAndGlyphs" transform="rotate(-90 388.60 130.60)">FPN Ubiquitin level</text>
<text x="399.30" y="127.00" font-size="7.2" textLength="56.00" lengthAdjust="spacingAndGlyphs" transform="rotate(-90 399.30 127.00)">(relative to FPN)</text>
<circle cx="417.30" cy="119.20" r="1.90" fill="#2aace2" stroke="#071a33" stroke-width="0.8" />
<circle cx="417.30" cy="126.00" r="1.90" fill="#2aace2" stroke="#071a33" stroke-width="0.8" />
<circle cx="423.80" cy="122.60" r="1.90" fill="#2aace2" stroke="#071a33" stroke-width="0.8" />
<circle cx="427.20" cy="119.20" r="1.90" fill="#2aace2" stroke="#071a33" stroke-width="0.8" />
<rect x="432.80" y="56.20" width="3.60" height="3.60" fill="#2aace2" stroke="#071a33" stroke-width="0.8" />
<rect x="432.80" y="74.00" width="3.60" height="3.60" fill="#2aace2" stroke="#071a33" stroke-width="0.8" />
<rect x="436.20" y="78.20" width="3.60" height="3.60" fill="#2aace2" stroke="#071a33" stroke-width="0.8" />
<rect x="429.80" y="83.90" width="3.60" height="3.60" fill="#2aace2" stroke="#071a33" stroke-width="0.8" />
<polygon points="448.50,48.90 446.40,52.68 450.60,52.68" fill="#2aace2" stroke="#071a33" stroke-width="0.8"/>
<polygon points="448.50,68.90 446.40,72.68 450.60,72.68" fill="#2aace2" stroke="#071a33" stroke-width="0.8"/>
<polygon points="448.50,76.40 446.40,80.18 450.60,80.18" fill="#2aace2" stroke="#071a33" stroke-width="0.8"/>
<polygon points="448.50,86.90 446.40,90.68 450.60,90.68" fill="#2aace2" stroke="#071a33" stroke-width="0.8"/>
<circle cx="466.20" cy="131.90" r="1.90" fill="#2aace2" stroke="#071a33" stroke-width="0.8" />
<circle cx="470.40" cy="129.50" r="1.90" fill="#2aace2" stroke="#071a33" stroke-width="0.8" />
<circle cx="470.40" cy="135.80" r="1.90" fill="#2aace2" stroke="#071a33" stroke-width="0.8" />
<circle cx="474.30" cy="135.00" r="1.90" fill="#2aace2" stroke="#071a33" stroke-width="0.8" />
<rect x="482.90" y="95.20" width="3.60" height="3.60" fill="#2aace2" stroke="#071a33" stroke-width="0.8" />
<rect x="479.70" y="101.00" width="3.60" height="3.60" fill="#2aace2" stroke="#071a33" stroke-width="0.8" />
<rect x="485.40" y="105.20" width="3.60" height="3.60" fill="#2aace2" stroke="#071a33" stroke-width="0.8" />
<rect x="482.90" y="122.90" width="3.60" height="3.60" fill="#2aace2" stroke="#071a33" stroke-width="0.8" />
<polygon points="498.50,98.40 496.40,102.18 500.60,102.18" fill="#2aace2" stroke="#071a33" stroke-width="0.8"/>
<polygon points="498.50,109.40 496.40,113.18 500.60,113.18" fill="#2aace2" stroke="#071a33" stroke-width="0.8"/>
<polygon points="498.50,116.40 496.40,120.18 500.60,120.18" fill="#2aace2" stroke="#071a33" stroke-width="0.8"/>
<polygon points="498.50,136.40 496.40,140.18 500.60,140.18" fill="#2aace2" stroke="#071a33" stroke-width="0.8"/>
<polyline points="434.2,50.2 434.2,41.8 485.4,41.8 485.4,73" fill="none" stroke="#111" stroke-width="1"/>
<polyline points="448.2,44 448.2,39.3 498.8,39.3 498.8,57.3" fill="none" stroke="#111" stroke-width="1"/>
<text x="483.70" y="38.60" font-size="8" text-anchor="middle">**</text>
<text x="474.80" y="50.20" font-size="8" text-anchor="middle">**</text>
<text x="7.50" y="160.30" font-size="11.5" font-weight="bold" fill="#000">E</text>
<text x="28.50" y="176.10" font-size="9.2" fill="#c9234b" textLength="55.00" lengthAdjust="spacingAndGlyphs">Screening #1</text>
<text x="21.00" y="187.80" font-size="9.2" textLength="70.00" lengthAdjust="spacingAndGlyphs">E3 Preies Library</text>
<text x="104.00" y="176.10" font-size="9.2" fill="#c9234b" textLength="55.00" lengthAdjust="spacingAndGlyphs">Screening #2</text>
<text x="99.50" y="188.20" font-size="9.2" textLength="65.00" lengthAdjust="spacingAndGlyphs">Tet1 Knockouts</text>
<text x="97.50" y="199.30" font-size="9.2" textLength="69.00" lengthAdjust="spacingAndGlyphs">RNA-seq Library</text>
<line x1="94.50" y1="168.00" x2="94.50" y2="337.50" stroke="#111" stroke-width="1.1" />
<rect x="21.00" y="192.00" width="70.50" height="80.00" fill="#ececec" />
<ellipse cx="39.50" cy="236.50" rx="16.00" ry="10.30" fill="#58585a" />
<circle cx="56.50" cy="230.30" r="9.60" fill="#e8501f" />
<text x="41.50" y="240.00" font-size="8" text-anchor="middle" fill="#222">AD</text>
<text x="56.60" y="233.30" font-size="8" text-anchor="middle" fill="#3a1408" textLength="14.00" lengthAdjust="spacingAndGlyphs">FPN</text>
<path d="M64.3,195.5 C62,207 57,203 52,210 C49,214 48,217 47.8,220" fill="none" stroke="#222" stroke-width="0.8"/>
<polygon points="46.6,218.8 49.2,219 47.9,221.6" fill="#222"/>
<polygon points="63.3,196.6 64.6,194.2 65.4,196.9" fill="#222"/>
<path d="M67,194.6 L67,263 Q67,272.4 77.5,272.4 Q88,272.4 88,263 L88,194.6" fill="#d3ebf5" stroke="#4a4a4a" stroke-width="0.9"/>
<path d="M69,197 L69,262 Q69,269 74,270.5" fill="none" stroke="#eef8fc" stroke-width="1.6"/>
<ellipse cx="77.50" cy="194.60" rx="10.50" ry="1.30" fill="#9fcfe3" stroke="#4a4a4a" stroke-width="0.7"/>
<line x1="72.00" y1="198.20" x2="80.00" y2="198.20" stroke="#fff" stroke-width="1" />
<circle cx="82.40" cy="209.70" r="3.70" fill="#c4931f" />
<circle cx="83.20" cy="209.10" r="2.20" fill="#d9ab3a" />
<circle cx="78.90" cy="211.50" r="2.10" fill="#8cc63f" />
<circle cx="75.40" cy="216.40" r="3.70" fill="#c4931f" />
<circle cx="76.20" cy="215.80" r="2.20" fill="#d9ab3a" />
<circle cx="72.30" cy="217.80" r="2.10" fill="#f08c9a" />
<circle cx="82.40" cy="220.90" r="3.70" fill="#c4931f" />
<circle cx="83.20" cy="220.30" r="2.20" fill="#d9ab3a" />
<circle cx="79.60" cy="222.00" r="2.10" fill="#6a4a6a" />
<circle cx="75.40" cy="226.10" r="3.70" fill="#c4931f" />
<circle cx="76.20" cy="225.50" r="2.20" fill="#d9ab3a" />
<circle cx="71.90" cy="228.20" r="2.10" fill="#1a6a8a" />
<circle cx="82.40" cy="230.70" r="3.70" fill="#c4931f" />
<circle cx="83.20" cy="230.10" r="2.20" fill="#d9ab3a" />
<circle cx="79.60" cy="232.50" r="2.10" fill="#6a3a3a" />
<circle cx="75.40" cy="237.30" r="3.70" fill="#c4931f" />
<circle cx="76.20" cy="236.70" r="2.20" fill="#d9ab3a" />
<circle cx="71.90" cy="239.10" r="2.10" fill="#2a3aaa" />
<circle cx="82.40" cy="242.90" r="3.70" fill="#c4931f" />
<circle cx="83.20" cy="242.30" r="2.20" fill="#d9ab3a" />
<circle cx="79.30" cy="244.40" r="2.10" fill="#7a2a9a" />
<circle cx="75.40" cy="250.70" r="3.70" fill="#c4931f" />
<circle cx="76.20" cy="250.10" r="2.20" fill="#d9ab3a" />
<circle cx="72.60" cy="252.40" r="2.10" fill="#c8401a" />
<circle cx="83.10" cy="255.20" r="3.70" fill="#c4931f" />
<circle cx="83.90" cy="254.60" r="2.20" fill="#d9ab3a" />
<circle cx="80.00" cy="256.90" r="2.10" fill="#1aa0d8" />
<circle cx="75.40" cy="262.20" r="3.70" fill="#c4931f" />
<circle cx="76.20" cy="261.60" r="2.20" fill="#d9ab3a" />
<circle cx="71.90" cy="264.00" r="2.10" fill="#2a7a3a" />
<line x1="68.50" y1="272.80" x2="68.50" y2="281.00" stroke="#111" stroke-width="1.4" />
<polygon points="66.3,280 70.7,280 68.5,283.6" fill="#111"/>
<text x="60.00" y="292.00" font-size="9.2" textLength="26.00" lengthAdjust="spacingAndGlyphs">Preies</text>
<text x="41.20" y="326.00" font-size="9.2" textLength="42.00" lengthAdjust="spacingAndGlyphs" transform="rotate(-90 41.20 326.00)">Bait (FPN)</text>
<rect x="45.80" y="294.00" width="46.70" height="31.20" fill="#ececec" />
<path d="M48.8,306 L48.8,312.5 A20.9,11.6 0 0 0 90.6,312.5 L90.6,306 Z" fill="#9fd0e2" stroke="#7a9aa8" stroke-width="0.5"/>
<path d="M48.8,305.5 L48.8,310.8 A20.9,11.4 0 0 0 90.6,310.8 L90.6,305.5 Z" fill="#e9b935"/>
<path d="M49.2,307.8 A20.5,11.2 0 0 0 90.2,307.8" fill="none" stroke="#f8e08c" stroke-width="1"/>
<ellipse cx="69.70" cy="305.50" rx="20.90" ry="10.90" fill="#fdf3c2" stroke="#8a8a8a" stroke-width="0.7"/>
<ellipse cx="69.70" cy="305.50" rx="19.60" ry="9.80" fill="none" stroke="#ecc45a" stroke-width="0.9"/>
<circle cx="60.20" cy="305.20" r="1.45" fill="#1f4fc0" />
<circle cx="65.60" cy="308.50" r="1.45" fill="#1f4fc0" />
<circle cx="73.50" cy="308.10" r="1.45" fill="#1f4fc0" />
<circle cx="80.70" cy="305.00" r="1.45" fill="#1f4fc0" />
<line x1="63.00" y1="327.00" x2="67.00" y2="335.50" stroke="#111" stroke-width="1.9" />
<polygon points="64.2,335.8 69.4,333.4 68.8,338.8" fill="#111"/>
<line x1="135.20" y1="326.50" x2="131.50" y2="334.00" stroke="#111" stroke-width="1.9" />
<polygon points="128.9,332.4 134.2,334.8 129.6,338.2" fill="#111"/>
<ellipse cx="71.40" cy="353.60" rx="31.80" ry="15.80" fill="none" stroke="#c6203c" stroke-width="1.4"/>
<ellipse cx="119.10" cy="354.20" rx="33.80" ry="16.20" fill="none" stroke="#1c5a9a" stroke-width="1.4"/>
<text x="56.00" y="358.30" font-size="9.2" textLength="22.50" lengthAdjust="spacingAndGlyphs">4 hits</text>
<text x="108.50" y="358.30" font-size="9.2" textLength="28.50" lengthAdjust="spacingAndGlyphs">22 hits</text>
<text x="96.40" y="358.80" font-size="13" text-anchor="middle" fill="#c41230" stroke="#c41230" stroke-width="0.3">?</text>
<line x1="25.00" y1="371.50" x2="165.00" y2="371.50" stroke="#111" stroke-width="1.1" />
<line x1="97.50" y1="207.00" x2="118.00" y2="207.00" stroke="#333" stroke-width="1.3" />
<line x1="101.50" y1="207.00" x2="114.00" y2="207.00" stroke="#2f8f4a" stroke-width="1.3" />
<line x1="97.50" y1="210.60" x2="118.00" y2="210.60" stroke="#333" stroke-width="1.3" />
<line x1="101.50" y1="210.60" x2="114.00" y2="210.60" stroke="#2f8f4a" stroke-width="1.3" />
<line x1="97.50" y1="215.00" x2="118.00" y2="215.00" stroke="#333" stroke-width="1.3" />
<line x1="101.50" y1="215.00" x2="114.00" y2="215.00" stroke="#2f8f4a" stroke-width="1.3" />
<line x1="97.50" y1="218.60" x2="118.00" y2="218.60" stroke="#333" stroke-width="1.3" />
<line x1="101.50" y1="218.60" x2="114.00" y2="218.60" stroke="#2f8f4a" stroke-width="1.3" />
<line x1="121.00" y1="207.00" x2="141.50" y2="207.00" stroke="#333" stroke-width="1.3" />
<line x1="125.00" y1="207.00" x2="137.50" y2="207.00" stroke="#2b4fc0" stroke-width="1.3" />
<line x1="121.00" y1="210.60" x2="141.50" y2="210.60" stroke="#333" stroke-width="1.3" />
<line x1="125.00" y1="210.60" x2="137.50" y2="210.60" stroke="#2b4fc0" stroke-width="1.3" />
<line x1="121.00" y1="215.00" x2="141.50" y2="215.00" stroke="#333" stroke-width="1.3" />
<line x1="125.00" y1="215.00" x2="137.50" y2="215.00" stroke="#2b4fc0" stroke-width="1.3" />
<line x1="121.00" y1="218.60" x2="141.50" y2="218.60" stroke="#333" stroke-width="1.3" />
<line x1="125.00" y1="218.60" x2="137.50" y2="218.60" stroke="#2b4fc0" stroke-width="1.3" />
<line x1="121.00" y1="223.00" x2="141.50" y2="223.00" stroke="#333" stroke-width="1.3" />
<line x1="125.00" y1="223.00" x2="137.50" y2="223.00" stroke="#2b4fc0" stroke-width="1.3" />
<line x1="121.00" y1="226.40" x2="141.50" y2="226.40" stroke="#333" stroke-width="1.3" />
<line x1="125.00" y1="226.40" x2="137.50" y2="226.40" stroke="#2b4fc0" stroke-width="1.3" />
<line x1="144.50" y1="207.00" x2="165.00" y2="207.00" stroke="#333" stroke-width="1.3" />
<line x1="148.50" y1="207.00" x2="161.00" y2="207.00" stroke="#f08428" stroke-width="1.3" />
<line x1="144.50" y1="210.60" x2="165.00" y2="210.60" stroke="#333" stroke-width="1.3" />
<line x1="148.50" y1="210.60" x2="161.00" y2="210.60" stroke="#f08428" stroke-width="1.3" />
<line x1="133.50" y1="233.00" x2="133.50" y2="252.00" stroke="#111" stroke-width="2.6" />
<polygon points="130,250.5 137,250.5 133.5,256.5" fill="#111"/>
<text x="98.00" y="264.20" font-size="9.2" textLength="69.00" lengthAdjust="spacingAndGlyphs">E3 Ligase genes</text>
<text x="110.00" y="275.60" font-size="9.2" textLength="44.00" lengthAdjust="spacingAndGlyphs">expression</text>
<rect x="101.80" y="277.80" width="58.40" height="47.70" fill="#ececec" />
<pattern id="dots" width="1" height="1" patternUnits="userSpaceOnUse" patternTransform="matrix(2.75 -1.24 1.75 2.75 108.1 293.9)"><circle cx="0.5" cy="0.5" r="0.26" fill="#4cc0ea"/></pattern>
<pattern id="dots2" width="1" height="1" patternUnits="userSpaceOnUse" patternTransform="matrix(2.75 -1.43 0 2.6 122.1 316.6)"><rect width="1" height="1" fill="#8ad6f0"/><circle cx="0.5" cy="0.5" r="0.3" fill="#35b2e4"/></pattern>
<polygon points="106.6,295.5 106.6,299.6 122,323.8 156.7,304.4 156.7,299.2 141.1,279 " fill="#e2e2e2" stroke="#666" stroke-width="0.5"/>
<polygon points="108.1,294.2 122.1,316.2 122.1,321.6 107.2,298.4" fill="#f6f6f6" stroke="#777" stroke-width="0.4"/>
<polygon points="122.1,316.2 155.4,298.9 155.4,304 122.1,321.6" fill="url(#dots2)" stroke="#5a8aa0" stroke-width="0.4"/>
<polygon points="108.1,293.9 141.1,279 155.4,298.7 122.1,315.9" fill="#fdfeff" stroke="#333" stroke-width="0.7"/>
<polygon points="109.3,293.9 140.8,279.9 154.4,298.6 122.4,315" fill="url(#dots)"/>
<polygon points="83.5,372 104.5,372 104.5,377.2 114,377.2 94,387.3 74.4,377.2 83.5,377.2" fill="#b9d3e7"/>
<text x="37.00" y="396.30" font-size="9.2" textLength="16.70" lengthAdjust="spacingAndGlyphs">Tet1</text>
<text x="72.70" y="396.30" font-size="9.2" textLength="45.00" lengthAdjust="spacingAndGlyphs">E3 Ligases</text>
<text x="137.80" y="396.30" font-size="9.2" textLength="15.20" lengthAdjust="spacingAndGlyphs">Fpn</text>
<line x1="55.40" y1="393.00" x2="70.50" y2="393.00" stroke="#111" stroke-width="1.1" />
<circle cx="71.00" cy="393.00" r="1.30" fill="#111" />
<line x1="118.60" y1="393.00" x2="132.50" y2="393.00" stroke="#111" stroke-width="1.1" />
<circle cx="133.00" cy="393.00" r="1.30" fill="#111" />
<text x="7.50" y="407.00" font-size="11.5" font-weight="bold" fill="#000">F</text>
<text x="86.00" y="416.00" font-size="7.8" textLength="17.40" lengthAdjust="spacingAndGlyphs">SD-2</text>
<text x="127.60" y="416.00" font-size="7.8" textLength="17.80" lengthAdjust="spacingAndGlyphs">SD-4</text>
<linearGradient id="pl1" x1="0" y1="0" x2="1" y2="1"><stop offset="0" stop-color="#aebab5"/><stop offset="1" stop-color="#9faba5"/></linearGradient>
<linearGradient id="pl2" x1="0" y1="0" x2="1" y2="1"><stop offset="0" stop-color="#b0bec3"/><stop offset="1" stop-color="#a4b2b7"/></linearGradient>
<rect x="73.80" y="419.30" width="38.10" height="79.20" fill="url(#pl1)" stroke="#1a1a1a" stroke-width="1.3" />
<rect x="117.70" y="419.30" width="35.80" height="79.20" fill="url(#pl2)" stroke="#1a1a1a" stroke-width="1.3" />
<line x1="74.50" y1="446.00" x2="111.30" y2="445.00" stroke="#7d8a88" stroke-width="0.6" />
<line x1="74.50" y1="469.50" x2="111.30" y2="470.50" stroke="#7d8a88" stroke-width="0.6" />
<line x1="118.40" y1="446.00" x2="152.90" y2="445.00" stroke="#7d8a88" stroke-width="0.6" />
<line x1="118.40" y1="469.50" x2="152.90" y2="470.50" stroke="#7d8a88" stroke-width="0.6" />
<ellipse cx="96.90" cy="435.00" rx="6.60" ry="6.90" fill="#f4e1cd" filter="url(#bl15)"/>
<ellipse cx="96.90" cy="457.00" rx="6.60" ry="6.90" fill="#f4e1cd" filter="url(#bl15)"/>
<ellipse cx="96.90" cy="484.20" rx="6.60" ry="6.90" fill="#f4e1cd" filter="url(#bl15)"/>
<ellipse cx="140.80" cy="484.60" rx="5.80" ry="5.80" fill="#f4e1cd" filter="url(#bl15)"/>
<ellipse cx="141.50" cy="459.50" rx="4.50" ry="4.00" fill="#b8c5c9" opacity="0.5" filter="url(#bl15)"/>
<text x="38.00" y="437.20" font-size="7.8" textLength="32.30" lengthAdjust="spacingAndGlyphs">FPN+AD</text>
<text x="38.00" y="462.80" font-size="7.8" textLength="32.30" lengthAdjust="spacingAndGlyphs">FPN+BD</text>
<text x="19.00" y="491.80" font-size="7.8" textLength="51.30" lengthAdjust="spacingAndGlyphs">FPN+RNF 217</text>
<polygon points="155.8,486.8 161.6,481.4 161.6,484.8 172,484.8 172,488.8 161.6,488.8 161.6,492.2" fill="#c0203a"/>
<text x="7.50" y="520.30" font-size="11.5" font-weight="bold" fill="#000">G</text>
<text x="71.50" y="546.30" font-size="8.2" textLength="14.00" lengthAdjust="spacingAndGlyphs" transform="rotate(-51 71.50 546.30)">IgG</text>
<text x="84.00" y="546.30" font-size="8.2" textLength="42.60" lengthAdjust="spacingAndGlyphs" transform="rotate(-51 84.00 546.30)">Input (37°C)</text>
<text x="98.50" y="546.30" font-size="8.2" textLength="47.00" lengthAdjust="spacingAndGlyphs" transform="rotate(-51 98.50 546.30)">Input (100°C)</text>
<text x="113.50" y="546.30" font-size="8.2" textLength="32.50" lengthAdjust="spacingAndGlyphs" transform="rotate(-51 113.50 546.30)">Ip (37°C)</text>
<text x="128.40" y="546.30" font-size="8.2" textLength="38.00" lengthAdjust="spacingAndGlyphs" transform="rotate(-51 128.40 546.30)">Ip (100°C)</text>
<linearGradient id="gbg" x1="0" y1="0" x2="0" y2="1"><stop offset="0" stop-color="#b4b4b4"/><stop offset="0.4" stop-color="#c4c4c4"/><stop offset="1" stop-color="#cacaca"/></linearGradient>
<clipPath id="cp11"><rect x="65.00" y="548.80" width="70.40" height="34.30"/></clipPath>
<g clip-path="url(#cp11)">
<rect x="65.00" y="548.80" width="70.40" height="34.30" fill="url(#gbg)" />
<ellipse cx="70.90" cy="569.60" rx="5.00" ry="1.80" fill="#1a1a1a" opacity="0.95" filter="url(#bl1)"/>
<ellipse cx="84.20" cy="561.30" rx="6.80" ry="4.60" fill="#2a2a2a" opacity="0.8" filter="url(#bl2)"/>
<ellipse cx="84.20" cy="561.60" rx="4.50" ry="2.60" fill="#222" opacity="0.6" filter="url(#bl15)"/>
<ellipse cx="98.40" cy="566.00" rx="5.00" ry="4.00" fill="#888" opacity="0.3" filter="url(#bl2)"/>
<ellipse cx="110.40" cy="566.00" rx="8.00" ry="9.00" fill="#555" opacity="0.45" filter="url(#bl3)"/>
<ellipse cx="110.40" cy="562.20" rx="7.00" ry="2.20" fill="#0a0a0a" opacity="1" filter="url(#bl15)"/>
<ellipse cx="110.40" cy="562.20" rx="6.40" ry="1.70" fill="#000" opacity="1" filter="url(#bl1)"/>
<ellipse cx="110.40" cy="569.60" rx="8.60" ry="3.40" fill="#000" opacity="1" filter="url(#bl15)"/>
<ellipse cx="110.40" cy="569.60" rx="7.50" ry="2.60" fill="#000" opacity="1" filter="url(#bl1)"/>
<ellipse cx="110.40" cy="579.80" rx="6.00" ry="2.40" fill="#555" opacity="0.4" filter="url(#bl2)"/>
<ellipse cx="110.40" cy="555.00" rx="5.50" ry="2.20" fill="#777" opacity="0.3" filter="url(#bl2)"/>
<ellipse cx="128.00" cy="562.00" rx="7.50" ry="8.00" fill="#555" opacity="0.4" filter="url(#bl3)"/>
<ellipse cx="128.00" cy="554.60" rx="6.50" ry="1.40" fill="#333" opacity="0.85" filter="url(#bl1)"/>
<ellipse cx="128.00" cy="557.80" rx="6.50" ry="1.20" fill="#555" opacity="0.55" filter="url(#bl1)"/>
<ellipse cx="128.00" cy="561.60" rx="7.20" ry="2.40" fill="#0a0a0a" opacity="1" filter="url(#bl15)"/>
<ellipse cx="128.00" cy="561.60" rx="6.60" ry="1.80" fill="#000" opacity="1" filter="url(#bl1)"/>
<ellipse cx="128.00" cy="568.60" rx="7.20" ry="2.70" fill="#000" opacity="1" filter="url(#bl15)"/>
<ellipse cx="128.00" cy="568.60" rx="6.40" ry="2.00" fill="#000" opacity="1" filter="url(#bl1)"/>
</g>
<rect x="65.00" y="548.80" width="70.40" height="34.30" fill="none" stroke="#222" stroke-width="0.9" />
<clipPath id="cp12"><rect x="65.00" y="584.40" width="70.40" height="31.70"/></clipPath>
<g clip-path="url(#cp12)">
<rect x="65.00" y="584.40" width="70.40" height="31.70" fill="#c9c9c9" />
<ellipse cx="81.40" cy="595.40" rx="5.40" ry="1.70" fill="#000" opacity="1" filter="url(#bl1)"/>
<ellipse cx="107.90" cy="594.80" rx="7.00" ry="2.60" fill="#000" opacity="1" filter="url(#bl15)"/>
<ellipse cx="107.90" cy="594.80" rx="6.00" ry="1.90" fill="#000" opacity="1" filter="url(#bl1)"/>
<ellipse cx="107.90" cy="588.50" rx="5.00" ry="2.50" fill="#777" opacity="0.3" filter="url(#bl2)"/>
<ellipse cx="81.40" cy="590.00" rx="4.00" ry="2.50" fill="#888" opacity="0.25" filter="url(#bl2)"/>
</g>
<rect x="65.00" y="584.40" width="70.40" height="31.70" fill="none" stroke="#222" stroke-width="0.9" />
<line x1="135.40" y1="557.30" x2="138.20" y2="557.30" stroke="#111" stroke-width="1" />
<text x="140.70" y="558.20" font-size="8.4" textLength="9.50" lengthAdjust="spacingAndGlyphs">80</text>
<line x1="135.40" y1="565.00" x2="138.20" y2="565.00" stroke="#111" stroke-width="1" />
<text x="140.70" y="566.20" font-size="8.4" textLength="9.50" lengthAdjust="spacingAndGlyphs">60</text>
<line x1="135.40" y1="569.60" x2="138.20" y2="569.60" stroke="#111" stroke-width="1" />
<text x="140.70" y="573.40" font-size="8.4" textLength="9.50" lengthAdjust="spacingAndGlyphs">45</text>
<line x1="135.40" y1="593.70" x2="138.20" y2="593.70" stroke="#111" stroke-width="1" />
<text x="140.70" y="593.50" font-size="8.4" textLength="9.50" lengthAdjust="spacingAndGlyphs">60</text>
<line x1="135.40" y1="597.20" x2="138.20" y2="597.20" stroke="#111" stroke-width="1" />
<text x="140.70" y="602.00" font-size="8.4" textLength="9.50" lengthAdjust="spacingAndGlyphs">45</text>
<text x="30.50" y="562.50" font-size="8" textLength="26.00" lengthAdjust="spacingAndGlyphs">IP: Flag</text>
<text x="30.50" y="575.70" font-size="8" textLength="26.00" lengthAdjust="spacingAndGlyphs">IB: Myc</text>
<text x="30.50" y="599.00" font-size="8" textLength="26.00" lengthAdjust="spacingAndGlyphs">IP: Myc</text>
<text x="30.50" y="612.60" font-size="8" textLength="26.00" lengthAdjust="spacingAndGlyphs">IB: Flag</text>
<text x="61.20" y="568.80" font-size="11.5" text-anchor="middle" font-weight="bold" fill="#c8213c">*</text>
<text x="61.20" y="601.20" font-size="11.5" text-anchor="middle" font-weight="bold" fill="#c8213c">*</text>
<text x="170.50" y="160.90" font-size="11.5" font-weight="bold" fill="#000">H</text>
<text x="334.00" y="163.00" font-size="8.2" textLength="26.00" lengthAdjust="spacingAndGlyphs">BMDM</text>
<rect x="196.20" y="214.92" width="6.00" height="28.18" fill="#c8213c" />
<rect x="202.20" y="220.67" width="6.00" height="22.43" fill="#165a92" />
<line x1="205.20" y1="219.52" x2="205.20" y2="220.67" stroke="#231f20" stroke-width="0.8" />
<line x1="203.50" y1="219.52" x2="206.90" y2="219.52" stroke="#231f20" stroke-width="0.8" />
<circle cx="197.10" cy="213.19" r="1.50" fill="#2aace2" stroke="#071a33" stroke-width="0.75" />
<circle cx="199.17" cy="217.22" r="1.50" fill="#2aace2" stroke="#071a33" stroke-width="0.75" />
<circle cx="200.88" cy="214.63" r="1.50" fill="#2aace2" stroke="#071a33" stroke-width="0.75" />
<rect x="202.30" y="216.39" width="2.80" height="2.80" fill="#2aace2" stroke="#071a33" stroke-width="0.75" />
<rect x="204.37" y="220.13" width="2.80" height="2.80" fill="#2aace2" stroke="#071a33" stroke-width="0.75" />
<rect x="206.08" y="219.55" width="2.80" height="2.80" fill="#2aace2" stroke="#071a33" stroke-width="0.75" />
<line x1="202.20" y1="243.10" x2="202.20" y2="245.70" stroke="#111" stroke-width="0.9" />
<text x="206.40" y="251.30" font-size="8" text-anchor="end" font-style="italic" fill="#111" transform="rotate(-45 206.40 251.30)" stroke="#111" stroke-width="0.22">Amfr</text>
<rect x="210.27" y="213.76" width="6.00" height="29.34" fill="#c8213c" />
<rect x="216.27" y="212.90" width="6.00" height="30.20" fill="#165a92" />
<line x1="219.27" y1="210.60" x2="219.27" y2="212.90" stroke="#231f20" stroke-width="0.8" />
<line x1="217.57" y1="210.60" x2="220.97" y2="210.60" stroke="#231f20" stroke-width="0.8" />
<circle cx="211.17" cy="211.46" r="1.50" fill="#2aace2" stroke="#071a33" stroke-width="0.75" />
<circle cx="213.24" cy="212.90" r="1.50" fill="#2aace2" stroke="#071a33" stroke-width="0.75" />
<circle cx="214.95" cy="220.95" r="1.50" fill="#2aace2" stroke="#071a33" stroke-width="0.75" />
<rect x="216.37" y="208.63" width="2.80" height="2.80" fill="#2aace2" stroke="#071a33" stroke-width="0.75" />
<rect x="218.44" y="212.08" width="2.80" height="2.80" fill="#2aace2" stroke="#071a33" stroke-width="0.75" />
<rect x="220.15" y="216.39" width="2.80" height="2.80" fill="#2aace2" stroke="#071a33" stroke-width="0.75" />
<line x1="216.27" y1="243.10" x2="216.27" y2="245.70" stroke="#111" stroke-width="0.9" />
<text x="220.62" y="251.30" font-size="8" text-anchor="end" font-style="italic" fill="#111" transform="rotate(-45 220.62 251.30)" stroke="#111" stroke-width="0.22">Asb2</text>
<rect x="224.34" y="214.34" width="6.00" height="28.76" fill="#c8213c" />
<rect x="230.34" y="227.28" width="6.00" height="15.82" fill="#165a92" />
<line x1="233.34" y1="225.27" x2="233.34" y2="227.28" stroke="#231f20" stroke-width="0.8" />
<line x1="231.64" y1="225.27" x2="235.04" y2="225.27" stroke="#231f20" stroke-width="0.8" />
<circle cx="225.24" cy="217.50" r="1.50" fill="#2aace2" stroke="#071a33" stroke-width="0.75" />
<circle cx="227.31" cy="212.90" r="1.50" fill="#2aace2" stroke="#071a33" stroke-width="0.75" />
<circle cx="229.02" cy="213.19" r="1.50" fill="#2aace2" stroke="#071a33" stroke-width="0.75" />
<rect x="230.44" y="222.43" width="2.80" height="2.80" fill="#2aace2" stroke="#071a33" stroke-width="0.75" />
<rect x="232.51" y="225.59" width="2.80" height="2.80" fill="#2aace2" stroke="#071a33" stroke-width="0.75" />
<rect x="234.22" y="229.91" width="2.80" height="2.80" fill="#2aace2" stroke="#071a33" stroke-width="0.75" />
<line x1="230.34" y1="243.10" x2="230.34" y2="245.70" stroke="#111" stroke-width="0.9" />
<text x="234.84" y="251.30" font-size="8" text-anchor="end" font-style="italic" fill="#111" transform="rotate(-45 234.84 251.30)" stroke="#111" stroke-width="0.22">Clu</text>
<rect x="238.41" y="214.34" width="6.00" height="28.76" fill="#c8213c" />
<rect x="244.41" y="209.74" width="6.00" height="33.36" fill="#165a92" />
<line x1="247.41" y1="208.30" x2="247.41" y2="209.74" stroke="#231f20" stroke-width="0.8" />
<line x1="245.71" y1="208.30" x2="249.11" y2="208.30" stroke="#231f20" stroke-width="0.8" />
<circle cx="239.31" cy="212.90" r="1.50" fill="#2aace2" stroke="#071a33" stroke-width="0.75" />
<circle cx="241.38" cy="217.50" r="1.50" fill="#2aace2" stroke="#071a33" stroke-width="0.75" />
<circle cx="243.09" cy="214.63" r="1.50" fill="#2aace2" stroke="#071a33" stroke-width="0.75" />
<rect x="244.51" y="205.17" width="2.80" height="2.80" fill="#2aace2" stroke="#071a33" stroke-width="0.75" />
<rect x="246.58" y="209.49" width="2.80" height="2.80" fill="#2aace2" stroke="#071a33" stroke-width="0.75" />
<rect x="248.29" y="208.63" width="2.80" height="2.80" fill="#2aace2" stroke="#071a33" stroke-width="0.75" />
<line x1="244.41" y1="243.10" x2="244.41" y2="245.70" stroke="#111" stroke-width="0.9" />
<text x="249.06" y="251.30" font-size="8" text-anchor="end" font-style="italic" fill="#111" transform="rotate(-45 249.06 251.30)" stroke="#111" stroke-width="0.22">Dyrk2</text>
<rect x="252.48" y="214.34" width="6.00" height="28.76" fill="#c8213c" />
<rect x="258.48" y="213.48" width="6.00" height="29.62" fill="#165a92" />
<line x1="261.48" y1="209.74" x2="261.48" y2="213.48" stroke="#231f20" stroke-width="0.8" />
<line x1="259.78" y1="209.74" x2="263.18" y2="209.74" stroke="#231f20" stroke-width="0.8" />
<circle cx="253.38" cy="213.19" r="1.50" fill="#2aace2" stroke="#071a33" stroke-width="0.75" />
<circle cx="255.45" cy="218.08" r="1.50" fill="#2aace2" stroke="#071a33" stroke-width="0.75" />
<circle cx="257.16" cy="214.34" r="1.50" fill="#2aace2" stroke="#071a33" stroke-width="0.75" />
<rect x="258.58" y="204.31" width="2.80" height="2.80" fill="#2aace2" stroke="#071a33" stroke-width="0.75" />
<rect x="260.65" y="213.80" width="2.80" height="2.80" fill="#2aace2" stroke="#071a33" stroke-width="0.75" />
<rect x="262.36" y="220.99" width="2.80" height="2.80" fill="#2aace2" stroke="#071a33" stroke-width="0.75" />
<line x1="258.48" y1="243.10" x2="258.48" y2="245.70" stroke="#111" stroke-width="0.9" />
<text x="263.28" y="251.30" font-size="8" text-anchor="end" font-style="italic" fill="#111" transform="rotate(-45 263.28 251.30)" stroke="#111" stroke-width="0.22">Fbxo15</text>
<rect x="266.55" y="213.76" width="6.00" height="29.34" fill="#c8213c" />
<rect x="272.55" y="221.82" width="6.00" height="21.28" fill="#165a92" />
<line x1="275.55" y1="220.67" x2="275.55" y2="221.82" stroke="#231f20" stroke-width="0.8" />
<line x1="273.85" y1="220.67" x2="277.25" y2="220.67" stroke="#231f20" stroke-width="0.8" />
<circle cx="267.45" cy="210.03" r="1.50" fill="#2aace2" stroke="#071a33" stroke-width="0.75" />
<circle cx="269.52" cy="210.03" r="1.50" fill="#2aace2" stroke="#071a33" stroke-width="0.75" />
<circle cx="271.23" cy="223.54" r="1.50" fill="#2aace2" stroke="#071a33" stroke-width="0.75" />
<rect x="272.65" y="218.12" width="2.80" height="2.80" fill="#2aace2" stroke="#071a33" stroke-width="0.75" />
<rect x="274.72" y="221.57" width="2.80" height="2.80" fill="#2aace2" stroke="#071a33" stroke-width="0.75" />
<rect x="276.43" y="220.42" width="2.80" height="2.80" fill="#2aace2" stroke="#071a33" stroke-width="0.75" />
<line x1="272.55" y1="243.10" x2="272.55" y2="245.70" stroke="#111" stroke-width="0.9" />
<text x="277.50" y="251.30" font-size="8" text-anchor="end" font-style="italic" fill="#111" transform="rotate(-45 277.50 251.30)" stroke="#111" stroke-width="0.22">Klhl10</text>
<rect x="280.62" y="214.34" width="6.00" height="28.76" fill="#c8213c" />
<rect x="286.62" y="208.59" width="6.00" height="34.51" fill="#165a92" />
<line x1="289.62" y1="206.29" x2="289.62" y2="208.59" stroke="#231f20" stroke-width="0.8" />
<line x1="287.92" y1="206.29" x2="291.32" y2="206.29" stroke="#231f20" stroke-width="0.8" />
<circle cx="281.52" cy="217.22" r="1.50" fill="#2aace2" stroke="#071a33" stroke-width="0.75" />
<circle cx="283.59" cy="212.04" r="1.50" fill="#2aace2" stroke="#071a33" stroke-width="0.75" />
<circle cx="285.30" cy="215.78" r="1.50" fill="#2aace2" stroke="#071a33" stroke-width="0.75" />
<rect x="286.72" y="205.17" width="2.80" height="2.80" fill="#2aace2" stroke="#071a33" stroke-width="0.75" />
<rect x="288.79" y="206.61" width="2.80" height="2.80" fill="#2aace2" stroke="#071a33" stroke-width="0.75" />
<rect x="290.50" y="213.52" width="2.80" height="2.80" fill="#2aace2" stroke="#071a33" stroke-width="0.75" />
<line x1="286.62" y1="243.10" x2="286.62" y2="245.70" stroke="#111" stroke-width="0.9" />
<text x="291.72" y="251.30" font-size="8" text-anchor="end" font-style="italic" fill="#111" transform="rotate(-45 291.72 251.30)" stroke="#111" stroke-width="0.22">Klhl42</text>
<rect x="294.69" y="213.76" width="6.00" height="29.34" fill="#c8213c" />
<rect x="300.69" y="223.26" width="6.00" height="19.84" fill="#165a92" />
<line x1="303.69" y1="221.82" x2="303.69" y2="223.26" stroke="#231f20" stroke-width="0.8" />
<line x1="301.99" y1="221.82" x2="305.39" y2="221.82" stroke="#231f20" stroke-width="0.8" />
<circle cx="295.59" cy="212.04" r="1.50" fill="#2aace2" stroke="#071a33" stroke-width="0.75" />
<circle cx="297.66" cy="216.35" r="1.50" fill="#2aace2" stroke="#071a33" stroke-width="0.75" />
<circle cx="299.37" cy="213.48" r="1.50" fill="#2aace2" stroke="#071a33" stroke-width="0.75" />
<rect x="300.79" y="218.69" width="2.80" height="2.80" fill="#2aace2" stroke="#071a33" stroke-width="0.75" />
<rect x="302.86" y="224.44" width="2.80" height="2.80" fill="#2aace2" stroke="#071a33" stroke-width="0.75" />
<rect x="304.57" y="222.14" width="2.80" height="2.80" fill="#2aace2" stroke="#071a33" stroke-width="0.75" />
<line x1="300.69" y1="243.10" x2="300.69" y2="245.70" stroke="#111" stroke-width="0.9" />
<text x="305.94" y="251.30" font-size="8" text-anchor="end" font-style="italic" fill="#111" transform="rotate(-45 305.94 251.30)" stroke="#111" stroke-width="0.22">Nf2</text>
<rect x="308.76" y="214.92" width="6.00" height="28.18" fill="#c8213c" />
<rect x="314.76" y="227.28" width="6.00" height="15.82" fill="#165a92" />
<line x1="317.76" y1="226.13" x2="317.76" y2="227.28" stroke="#231f20" stroke-width="0.8" />
<line x1="316.06" y1="226.13" x2="319.46" y2="226.13" stroke="#231f20" stroke-width="0.8" />
<circle cx="309.66" cy="213.76" r="1.50" fill="#2aace2" stroke="#071a33" stroke-width="0.75" />
<circle cx="311.73" cy="215.20" r="1.50" fill="#2aace2" stroke="#071a33" stroke-width="0.75" />
<circle cx="313.44" cy="214.92" r="1.50" fill="#2aace2" stroke="#071a33" stroke-width="0.75" />
<rect x="314.86" y="223.87" width="2.80" height="2.80" fill="#2aace2" stroke="#071a33" stroke-width="0.75" />
<rect x="316.93" y="228.18" width="2.80" height="2.80" fill="#2aace2" stroke="#071a33" stroke-width="0.75" />
<rect x="318.64" y="227.32" width="2.80" height="2.80" fill="#2aace2" stroke="#071a33" stroke-width="0.75" />
<line x1="314.76" y1="243.10" x2="314.76" y2="245.70" stroke="#111" stroke-width="0.9" />
<text x="320.16" y="251.30" font-size="8" text-anchor="end" font-style="italic" fill="#111" transform="rotate(-45 320.16 251.30)" stroke="#111" stroke-width="0.22">Pdzrn3</text>
<rect x="322.83" y="214.92" width="6.00" height="28.18" fill="#c8213c" />
<rect x="328.83" y="213.19" width="6.00" height="29.91" fill="#165a92" />
<line x1="331.83" y1="211.18" x2="331.83" y2="213.19" stroke="#231f20" stroke-width="0.8" />
<line x1="330.13" y1="211.18" x2="333.53" y2="211.18" stroke="#231f20" stroke-width="0.8" />
<circle cx="323.73" cy="214.34" r="1.50" fill="#2aace2" stroke="#071a33" stroke-width="0.75" />
<circle cx="325.80" cy="214.92" r="1.50" fill="#2aace2" stroke="#071a33" stroke-width="0.75" />
<circle cx="327.51" cy="215.20" r="1.50" fill="#2aace2" stroke="#071a33" stroke-width="0.75" />
<rect x="328.93" y="207.76" width="2.80" height="2.80" fill="#2aace2" stroke="#071a33" stroke-width="0.75" />
<rect x="331.00" y="215.82" width="2.80" height="2.80" fill="#2aace2" stroke="#071a33" stroke-width="0.75" />
<rect x="332.71" y="212.94" width="2.80" height="2.80" fill="#2aace2" stroke="#071a33" stroke-width="0.75" />
<line x1="328.83" y1="243.10" x2="328.83" y2="245.70" stroke="#111" stroke-width="0.9" />
<text x="334.38" y="251.30" font-size="8" text-anchor="end" font-style="italic" fill="#111" transform="rotate(-45 334.38 251.30)" stroke="#111" stroke-width="0.22">Rnf11</text>
<rect x="336.90" y="214.34" width="6.00" height="28.76" fill="#c8213c" />
<rect x="342.90" y="222.11" width="6.00" height="20.99" fill="#165a92" />
<line x1="345.90" y1="220.95" x2="345.90" y2="222.11" stroke="#231f20" stroke-width="0.8" />
<line x1="344.20" y1="220.95" x2="347.60" y2="220.95" stroke="#231f20" stroke-width="0.8" />
<circle cx="337.80" cy="213.19" r="1.50" fill="#2aace2" stroke="#071a33" stroke-width="0.75" />
<circle cx="339.87" cy="217.22" r="1.50" fill="#2aace2" stroke="#071a33" stroke-width="0.75" />
<circle cx="341.58" cy="213.48" r="1.50" fill="#2aace2" stroke="#071a33" stroke-width="0.75" />
<rect x="343.00" y="218.69" width="2.80" height="2.80" fill="#2aace2" stroke="#071a33" stroke-width="0.75" />
<rect x="345.07" y="223.01" width="2.80" height="2.80" fill="#2aace2" stroke="#071a33" stroke-width="0.75" />
<rect x="346.78" y="220.42" width="2.80" height="2.80" fill="#2aace2" stroke="#071a33" stroke-width="0.75" />
<line x1="342.90" y1="243.10" x2="342.90" y2="245.70" stroke="#111" stroke-width="0.9" />
<text x="348.60" y="251.30" font-size="8" text-anchor="end" font-style="italic" fill="#111" transform="rotate(-45 348.60 251.30)" stroke="#111" stroke-width="0.22">Rnf128</text>
<rect x="350.97" y="215.49" width="6.00" height="27.61" fill="#c8213c" />
<rect x="356.97" y="195.65" width="6.00" height="47.45" fill="#165a92" />
<line x1="359.97" y1="190.18" x2="359.97" y2="195.65" stroke="#231f20" stroke-width="0.8" />
<line x1="358.27" y1="190.18" x2="361.67" y2="190.18" stroke="#231f20" stroke-width="0.8" />
<circle cx="351.87" cy="213.19" r="1.50" fill="#2aace2" stroke="#071a33" stroke-width="0.75" />
<circle cx="353.94" cy="217.22" r="1.50" fill="#2aace2" stroke="#071a33" stroke-width="0.75" />
<circle cx="355.65" cy="216.64" r="1.50" fill="#2aace2" stroke="#071a33" stroke-width="0.75" />
<rect x="357.07" y="184.18" width="2.80" height="2.80" fill="#2aace2" stroke="#071a33" stroke-width="0.75" />
<rect x="359.14" y="202.01" width="2.80" height="2.80" fill="#2aace2" stroke="#071a33" stroke-width="0.75" />
<rect x="360.85" y="199.14" width="2.80" height="2.80" fill="#2aace2" stroke="#071a33" stroke-width="0.75" />
<line x1="356.97" y1="243.10" x2="356.97" y2="245.70" stroke="#111" stroke-width="0.9" />
<text x="362.82" y="251.30" font-size="8" text-anchor="end" font-style="italic" fill="#111" transform="rotate(-45 362.82 251.30)" stroke="#111" stroke-width="0.22">Rnf138</text>
<rect x="365.04" y="214.05" width="6.00" height="29.05" fill="#c8213c" />
<rect x="371.04" y="228.43" width="6.00" height="14.67" fill="#165a92" />
<circle cx="365.94" cy="212.90" r="1.50" fill="#2aace2" stroke="#071a33" stroke-width="0.75" />
<circle cx="368.01" cy="216.64" r="1.50" fill="#2aace2" stroke="#071a33" stroke-width="0.75" />
<circle cx="369.72" cy="214.63" r="1.50" fill="#2aace2" stroke="#071a33" stroke-width="0.75" />
<rect x="371.14" y="226.17" width="2.80" height="2.80" fill="#2aace2" stroke="#071a33" stroke-width="0.75" />
<rect x="373.21" y="228.18" width="2.80" height="2.80" fill="#2aace2" stroke="#071a33" stroke-width="0.75" />
<rect x="374.92" y="227.32" width="2.80" height="2.80" fill="#2aace2" stroke="#071a33" stroke-width="0.75" />
<line x1="371.04" y1="243.10" x2="371.04" y2="245.70" stroke="#111" stroke-width="0.9" />
<text x="377.04" y="251.30" font-size="8" text-anchor="end" font-style="italic" fill="#c8213c" transform="rotate(-45 377.04 251.30)" stroke="#c8213c" stroke-width="0.22">Rnf217</text>
<rect x="379.11" y="215.49" width="6.00" height="27.61" fill="#c8213c" />
<rect x="385.11" y="218.65" width="6.00" height="24.45" fill="#165a92" />
<line x1="388.11" y1="216.64" x2="388.11" y2="218.65" stroke="#231f20" stroke-width="0.8" />
<line x1="386.41" y1="216.64" x2="389.81" y2="216.64" stroke="#231f20" stroke-width="0.8" />
<circle cx="380.01" cy="214.34" r="1.50" fill="#2aace2" stroke="#071a33" stroke-width="0.75" />
<circle cx="382.08" cy="215.78" r="1.50" fill="#2aace2" stroke="#071a33" stroke-width="0.75" />
<circle cx="383.79" cy="216.07" r="1.50" fill="#2aace2" stroke="#071a33" stroke-width="0.75" />
<rect x="385.21" y="214.38" width="2.80" height="2.80" fill="#2aace2" stroke="#071a33" stroke-width="0.75" />
<rect x="387.28" y="222.14" width="2.80" height="2.80" fill="#2aace2" stroke="#071a33" stroke-width="0.75" />
<rect x="388.99" y="218.69" width="2.80" height="2.80" fill="#2aace2" stroke="#071a33" stroke-width="0.75" />
<line x1="385.11" y1="243.10" x2="385.11" y2="245.70" stroke="#111" stroke-width="0.9" />
<text x="391.26" y="251.30" font-size="8" text-anchor="end" font-style="italic" fill="#111" transform="rotate(-45 391.26 251.30)" stroke="#111" stroke-width="0.22">Socs5</text>
<rect x="393.18" y="215.49" width="6.00" height="27.61" fill="#c8213c" />
<rect x="399.18" y="215.78" width="6.00" height="27.32" fill="#165a92" />
<line x1="402.18" y1="214.34" x2="402.18" y2="215.78" stroke="#231f20" stroke-width="0.8" />
<line x1="400.48" y1="214.34" x2="403.88" y2="214.34" stroke="#231f20" stroke-width="0.8" />
<circle cx="394.08" cy="218.08" r="1.50" fill="#2aace2" stroke="#071a33" stroke-width="0.75" />
<circle cx="396.15" cy="213.19" r="1.50" fill="#2aace2" stroke="#071a33" stroke-width="0.75" />
<circle cx="397.86" cy="214.92" r="1.50" fill="#2aace2" stroke="#071a33" stroke-width="0.75" />
<rect x="399.28" y="212.08" width="2.80" height="2.80" fill="#2aace2" stroke="#071a33" stroke-width="0.75" />
<rect x="401.35" y="218.12" width="2.80" height="2.80" fill="#2aace2" stroke="#071a33" stroke-width="0.75" />
<rect x="403.06" y="214.95" width="2.80" height="2.80" fill="#2aace2" stroke="#071a33" stroke-width="0.75" />
<line x1="399.18" y1="243.10" x2="399.18" y2="245.70" stroke="#111" stroke-width="0.9" />
<text x="405.48" y="251.30" font-size="8" text-anchor="end" font-style="italic" fill="#111" transform="rotate(-45 405.48 251.30)" stroke="#111" stroke-width="0.22">Tnip1</text>
<rect x="407.25" y="214.34" width="6.00" height="28.76" fill="#c8213c" />
<rect x="413.25" y="218.94" width="6.00" height="24.16" fill="#165a92" />
<line x1="416.25" y1="217.79" x2="416.25" y2="218.94" stroke="#231f20" stroke-width="0.8" />
<line x1="414.55" y1="217.79" x2="417.95" y2="217.79" stroke="#231f20" stroke-width="0.8" />
<circle cx="408.15" cy="218.65" r="1.50" fill="#2aace2" stroke="#071a33" stroke-width="0.75" />
<circle cx="410.22" cy="211.46" r="1.50" fill="#2aace2" stroke="#071a33" stroke-width="0.75" />
<circle cx="411.93" cy="214.34" r="1.50" fill="#2aace2" stroke="#071a33" stroke-width="0.75" />
<rect x="413.35" y="215.82" width="2.80" height="2.80" fill="#2aace2" stroke="#071a33" stroke-width="0.75" />
<rect x="415.42" y="219.55" width="2.80" height="2.80" fill="#2aace2" stroke="#071a33" stroke-width="0.75" />
<rect x="417.13" y="218.12" width="2.80" height="2.80" fill="#2aace2" stroke="#071a33" stroke-width="0.75" />
<line x1="413.25" y1="243.10" x2="413.25" y2="245.70" stroke="#111" stroke-width="0.9" />
<text x="419.70" y="251.30" font-size="8" text-anchor="end" font-style="italic" fill="#111" transform="rotate(-45 419.70 251.30)" stroke="#111" stroke-width="0.22">Trim2</text>
<rect x="421.32" y="215.49" width="6.00" height="27.61" fill="#c8213c" />
<rect x="427.32" y="214.34" width="6.00" height="28.76" fill="#165a92" />
<line x1="430.32" y1="211.46" x2="430.32" y2="214.34" stroke="#231f20" stroke-width="0.8" />
<line x1="428.62" y1="211.46" x2="432.02" y2="211.46" stroke="#231f20" stroke-width="0.8" />
<circle cx="422.22" cy="213.48" r="1.50" fill="#2aace2" stroke="#071a33" stroke-width="0.75" />
<circle cx="424.29" cy="216.35" r="1.50" fill="#2aace2" stroke="#071a33" stroke-width="0.75" />
<circle cx="426.00" cy="215.78" r="1.50" fill="#2aace2" stroke="#071a33" stroke-width="0.75" />
<rect x="427.42" y="210.93" width="2.80" height="2.80" fill="#2aace2" stroke="#071a33" stroke-width="0.75" />
<rect x="429.49" y="223.87" width="2.80" height="2.80" fill="#2aace2" stroke="#071a33" stroke-width="0.75" />
<rect x="431.20" y="213.80" width="2.80" height="2.80" fill="#2aace2" stroke="#071a33" stroke-width="0.75" />
<line x1="427.32" y1="243.10" x2="427.32" y2="245.70" stroke="#111" stroke-width="0.9" />
<text x="433.92" y="251.30" font-size="8" text-anchor="end" font-style="italic" fill="#111" transform="rotate(-45 433.92 251.30)" stroke="#111" stroke-width="0.22">Trim25</text>
<rect x="435.39" y="215.20" width="6.00" height="27.90" fill="#c8213c" />
<rect x="441.39" y="223.83" width="6.00" height="19.27" fill="#165a92" />
<line x1="444.39" y1="222.39" x2="444.39" y2="223.83" stroke="#231f20" stroke-width="0.8" />
<line x1="442.69" y1="222.39" x2="446.09" y2="222.39" stroke="#231f20" stroke-width="0.8" />
<circle cx="436.29" cy="214.34" r="1.50" fill="#2aace2" stroke="#071a33" stroke-width="0.75" />
<circle cx="438.36" cy="215.20" r="1.50" fill="#2aace2" stroke="#071a33" stroke-width="0.75" />
<circle cx="440.07" cy="215.49" r="1.50" fill="#2aace2" stroke="#071a33" stroke-width="0.75" />
<rect x="441.49" y="218.12" width="2.80" height="2.80" fill="#2aace2" stroke="#071a33" stroke-width="0.75" />
<rect x="443.56" y="223.87" width="2.80" height="2.80" fill="#2aace2" stroke="#071a33" stroke-width="0.75" />
<rect x="445.27" y="223.01" width="2.80" height="2.80" fill="#2aace2" stroke="#071a33" stroke-width="0.75" />
<line x1="441.39" y1="243.10" x2="441.39" y2="245.70" stroke="#111" stroke-width="0.9" />
<text x="448.14" y="251.30" font-size="8" text-anchor="end" font-style="italic" fill="#111" transform="rotate(-45 448.14 251.30)" stroke="#111" stroke-width="0.22">Trim68</text>
<rect x="449.46" y="215.49" width="6.00" height="27.61" fill="#c8213c" />
<rect x="455.46" y="209.16" width="6.00" height="33.94" fill="#165a92" />
<line x1="458.46" y1="203.41" x2="458.46" y2="209.16" stroke="#231f20" stroke-width="0.8" />
<line x1="456.76" y1="203.41" x2="460.16" y2="203.41" stroke="#231f20" stroke-width="0.8" />
<circle cx="450.36" cy="217.79" r="1.50" fill="#2aace2" stroke="#071a33" stroke-width="0.75" />
<circle cx="452.43" cy="212.90" r="1.50" fill="#2aace2" stroke="#071a33" stroke-width="0.75" />
<circle cx="454.14" cy="215.20" r="1.50" fill="#2aace2" stroke="#071a33" stroke-width="0.75" />
<rect x="455.56" y="195.68" width="2.80" height="2.80" fill="#2aace2" stroke="#071a33" stroke-width="0.75" />
<rect x="457.63" y="212.08" width="2.80" height="2.80" fill="#2aace2" stroke="#071a33" stroke-width="0.75" />
<rect x="459.34" y="218.69" width="2.80" height="2.80" fill="#2aace2" stroke="#071a33" stroke-width="0.75" />
<line x1="455.46" y1="243.10" x2="455.46" y2="245.70" stroke="#111" stroke-width="0.9" />
<text x="462.36" y="251.30" font-size="8" text-anchor="end" font-style="italic" fill="#111" transform="rotate(-45 462.36 251.30)" stroke="#111" stroke-width="0.22">Ube2l6</text>
<rect x="463.53" y="214.34" width="6.00" height="28.76" fill="#c8213c" />
<rect x="469.53" y="201.11" width="6.00" height="41.99" fill="#165a92" />
<line x1="472.53" y1="199.38" x2="472.53" y2="201.11" stroke="#231f20" stroke-width="0.8" />
<line x1="470.83" y1="199.38" x2="474.23" y2="199.38" stroke="#231f20" stroke-width="0.8" />
<circle cx="464.43" cy="213.48" r="1.50" fill="#2aace2" stroke="#071a33" stroke-width="0.75" />
<circle cx="466.50" cy="216.64" r="1.50" fill="#2aace2" stroke="#071a33" stroke-width="0.75" />
<circle cx="468.21" cy="215.49" r="1.50" fill="#2aace2" stroke="#071a33" stroke-width="0.75" />
<rect x="469.63" y="200.86" width="2.80" height="2.80" fill="#2aace2" stroke="#071a33" stroke-width="0.75" />
<rect x="471.70" y="201.44" width="2.80" height="2.80" fill="#2aace2" stroke="#071a33" stroke-width="0.75" />
<rect x="473.41" y="207.19" width="2.80" height="2.80" fill="#2aace2" stroke="#071a33" stroke-width="0.75" />
<line x1="469.53" y1="243.10" x2="469.53" y2="245.70" stroke="#111" stroke-width="0.9" />
<text x="476.58" y="251.30" font-size="8" text-anchor="end" font-style="italic" fill="#111" transform="rotate(-45 476.58 251.30)" stroke="#111" stroke-width="0.22">Vprbp</text>
<rect x="477.60" y="214.92" width="6.00" height="28.18" fill="#c8213c" />
<rect x="483.60" y="220.67" width="6.00" height="22.43" fill="#165a92" />
<line x1="486.60" y1="218.37" x2="486.60" y2="220.67" stroke="#231f20" stroke-width="0.8" />
<line x1="484.90" y1="218.37" x2="488.30" y2="218.37" stroke="#231f20" stroke-width="0.8" />
<circle cx="478.50" cy="214.92" r="1.50" fill="#2aace2" stroke="#071a33" stroke-width="0.75" />
<circle cx="480.57" cy="214.92" r="1.50" fill="#2aace2" stroke="#071a33" stroke-width="0.75" />
<circle cx="482.28" cy="215.20" r="1.50" fill="#2aace2" stroke="#071a33" stroke-width="0.75" />
<rect x="483.70" y="214.38" width="2.80" height="2.80" fill="#2aace2" stroke="#071a33" stroke-width="0.75" />
<rect x="485.77" y="223.87" width="2.80" height="2.80" fill="#2aace2" stroke="#071a33" stroke-width="0.75" />
<rect x="487.48" y="221.57" width="2.80" height="2.80" fill="#2aace2" stroke="#071a33" stroke-width="0.75" />
<line x1="483.60" y1="243.10" x2="483.60" y2="245.70" stroke="#111" stroke-width="0.9" />
<text x="490.80" y="251.30" font-size="8" text-anchor="end" font-style="italic" fill="#111" transform="rotate(-45 490.80 251.30)" stroke="#111" stroke-width="0.22">Wdtc1</text>
<rect x="491.67" y="213.76" width="6.00" height="29.34" fill="#c8213c" />
<rect x="497.67" y="224.69" width="6.00" height="18.41" fill="#165a92" />
<circle cx="492.57" cy="213.19" r="1.50" fill="#2aace2" stroke="#071a33" stroke-width="0.75" />
<circle cx="494.64" cy="214.92" r="1.50" fill="#2aace2" stroke="#071a33" stroke-width="0.75" />
<circle cx="496.35" cy="215.49" r="1.50" fill="#2aace2" stroke="#071a33" stroke-width="0.75" />
<rect x="497.77" y="222.72" width="2.80" height="2.80" fill="#2aace2" stroke="#071a33" stroke-width="0.75" />
<rect x="499.84" y="222.72" width="2.80" height="2.80" fill="#2aace2" stroke="#071a33" stroke-width="0.75" />
<rect x="501.55" y="225.31" width="2.80" height="2.80" fill="#2aace2" stroke="#071a33" stroke-width="0.75" />
<line x1="497.67" y1="243.10" x2="497.67" y2="245.70" stroke="#111" stroke-width="0.9" />
<text x="505.02" y="251.30" font-size="8" text-anchor="end" font-style="italic" fill="#111" transform="rotate(-45 505.02 251.30)" stroke="#111" stroke-width="0.22">Wsb2</text>
<line x1="193.50" y1="170.00" x2="193.50" y2="243.60" stroke="#111" stroke-width="1.1" />
<line x1="193.00" y1="243.10" x2="507.50" y2="243.10" stroke="#111" stroke-width="1.1" />
<line x1="191.00" y1="243.10" x2="193.50" y2="243.10" stroke="#111" stroke-width="0.9" />
<text x="188.70" y="246.00" font-size="8" text-anchor="end">0.0</text>
<line x1="191.00" y1="228.72" x2="193.50" y2="228.72" stroke="#111" stroke-width="0.9" />
<text x="188.70" y="231.62" font-size="8" text-anchor="end">0.5</text>
<line x1="191.00" y1="214.34" x2="193.50" y2="214.34" stroke="#111" stroke-width="0.9" />
<text x="188.70" y="217.24" font-size="8" text-anchor="end">1.0</text>
<line x1="191.00" y1="199.96" x2="193.50" y2="199.96" stroke="#111" stroke-width="0.9" />
<text x="188.70" y="202.86" font-size="8" text-anchor="end">1.5</text>
<line x1="191.00" y1="185.58" x2="193.50" y2="185.58" stroke="#111" stroke-width="0.9" />
<text x="188.70" y="188.48" font-size="8" text-anchor="end">2.0</text>
<line x1="191.00" y1="171.20" x2="193.50" y2="171.20" stroke="#111" stroke-width="0.9" />
<text x="188.70" y="174.10" font-size="8" text-anchor="end">2.5</text>
<rect x="195.20" y="168.00" width="13.40" height="8.40" fill="#c8213c" />
<text x="213.80" y="175.00" font-size="7.4" font-style="italic" textLength="20.50" lengthAdjust="spacingAndGlyphs">Tet1<tspan font-size="4.59" dy="-2.66">+/+</tspan></text>
<rect x="244.20" y="168.00" width="13.80" height="8.40" fill="#165a92" />
<text x="262.80" y="175.00" font-size="7.4" font-style="italic" textLength="19.50" lengthAdjust="spacingAndGlyphs">Tet1<tspan font-size="4.59" dy="-2.66">-/-</tspan></text>
<text x="175.00" y="234.50" font-size="9" textLength="56.50" lengthAdjust="spacingAndGlyphs" transform="rotate(-90 175.00 234.50)">E3 ligases mRNA</text>
<line x1="224.84" y1="206.50" x2="236.34" y2="206.50" stroke="#111" stroke-width="1" />
<text x="230.59" y="207.10" font-size="9.5" text-anchor="middle" font-weight="bold">*</text>
<line x1="295.19" y1="207.50" x2="306.69" y2="207.50" stroke="#111" stroke-width="1" />
<text x="300.94" y="208.10" font-size="9.5" text-anchor="middle" font-weight="bold">*</text>
<line x1="309.26" y1="207.50" x2="320.76" y2="207.50" stroke="#111" stroke-width="1" />
<text x="315.01" y="208.10" font-size="9.5" text-anchor="middle" font-weight="bold">**</text>
<line x1="337.40" y1="208.50" x2="348.90" y2="208.50" stroke="#111" stroke-width="1" />
<text x="343.15" y="209.10" font-size="9.5" text-anchor="middle" font-weight="bold">*</text>
<line x1="352.47" y1="180.50" x2="362.97" y2="180.50" stroke="#111" stroke-width="1" />
<text x="357.72" y="181.10" font-size="9.5" text-anchor="middle" font-weight="bold">*</text>
<line x1="366.54" y1="206.50" x2="377.54" y2="206.50" stroke="#111" stroke-width="1" />
<text x="372.04" y="207.10" font-size="9.5" text-anchor="middle" font-weight="bold">*</text>
<line x1="436.89" y1="206.50" x2="447.89" y2="206.50" stroke="#111" stroke-width="1" />
<text x="442.39" y="207.10" font-size="9.5" text-anchor="middle" font-weight="bold">*</text>
<line x1="465.03" y1="194.50" x2="476.03" y2="194.50" stroke="#111" stroke-width="1" />
<text x="470.53" y="195.10" font-size="9.5" text-anchor="middle" font-weight="bold">**</text>
<line x1="493.17" y1="206.50" x2="504.17" y2="206.50" stroke="#111" stroke-width="1" />
<text x="498.67" y="207.10" font-size="9.5" text-anchor="middle" font-weight="bold">**</text>
<line x1="371.70" y1="187.50" x2="371.70" y2="194.20" stroke="#c8213c" stroke-width="1.8" />
<polygon points="368.70,193.20 374.70,193.20 371.70,197.20" fill="#c8213c"/>
<text x="300.20" y="282.00" font-size="8.2" textLength="101.00" lengthAdjust="spacingAndGlyphs">Intestinal villus enterocytes</text>
<rect x="194.60" y="335.99" width="6.00" height="21.01" fill="#c8213c" />
<rect x="200.60" y="336.60" width="6.00" height="20.40" fill="#165a92" />
<circle cx="195.68" cy="334.56" r="1.30" fill="#2aace2" stroke="#071a33" stroke-width="0.95" />
<circle cx="198.74" cy="342.31" r="1.30" fill="#2aace2" stroke="#071a33" stroke-width="0.95" />
<circle cx="196.76" cy="334.15" r="1.30" fill="#2aace2" stroke="#071a33" stroke-width="0.95" />
<circle cx="199.28" cy="335.58" r="1.30" fill="#2aace2" stroke="#071a33" stroke-width="0.95" />
<circle cx="195.32" cy="337.01" r="1.30" fill="#2aace2" stroke="#071a33" stroke-width="0.95" />
<circle cx="198.02" cy="333.54" r="1.30" fill="#2aace2" stroke="#071a33" stroke-width="0.95" />
<rect x="201.08" y="335.40" width="2.40" height="2.40" fill="#2aace2" stroke="#071a33" stroke-width="0.95" />
<rect x="204.14" y="338.46" width="2.40" height="2.40" fill="#2aace2" stroke="#071a33" stroke-width="0.95" />
<rect x="202.16" y="333.36" width="2.40" height="2.40" fill="#2aace2" stroke="#071a33" stroke-width="0.95" />
<rect x="204.68" y="336.42" width="2.40" height="2.40" fill="#2aace2" stroke="#071a33" stroke-width="0.95" />
<rect x="200.72" y="334.38" width="2.40" height="2.40" fill="#2aace2" stroke="#071a33" stroke-width="0.95" />
<rect x="203.42" y="337.44" width="2.40" height="2.40" fill="#2aace2" stroke="#071a33" stroke-width="0.95" />
<line x1="200.60" y1="357.00" x2="200.60" y2="359.60" stroke="#111" stroke-width="0.9" />
<text x="204.40" y="365.20" font-size="8" text-anchor="end" font-style="italic" fill="#111" transform="rotate(-45 204.40 365.20)" stroke="#111" stroke-width="0.22">Amfr</text>
<rect x="208.75" y="335.99" width="6.00" height="21.01" fill="#c8213c" />
<rect x="214.75" y="329.46" width="6.00" height="27.54" fill="#165a92" />
<line x1="211.75" y1="331.50" x2="211.75" y2="335.99" stroke="#231f20" stroke-width="0.8" />
<line x1="210.05" y1="331.50" x2="213.45" y2="331.50" stroke="#231f20" stroke-width="0.8" />
<line x1="217.75" y1="323.95" x2="217.75" y2="329.46" stroke="#231f20" stroke-width="0.8" />
<line x1="216.05" y1="323.95" x2="219.45" y2="323.95" stroke="#231f20" stroke-width="0.8" />
<circle cx="209.83" cy="316.81" r="1.30" fill="#2aace2" stroke="#071a33" stroke-width="0.95" />
<circle cx="212.89" cy="330.48" r="1.30" fill="#2aace2" stroke="#071a33" stroke-width="0.95" />
<circle cx="210.91" cy="340.68" r="1.30" fill="#2aace2" stroke="#071a33" stroke-width="0.95" />
<circle cx="213.43" cy="345.78" r="1.30" fill="#2aace2" stroke="#071a33" stroke-width="0.95" />
<circle cx="209.47" cy="349.86" r="1.30" fill="#2aace2" stroke="#071a33" stroke-width="0.95" />
<circle cx="212.17" cy="332.52" r="1.30" fill="#2aace2" stroke="#071a33" stroke-width="0.95" />
<rect x="215.23" y="297.66" width="2.40" height="2.40" fill="#2aace2" stroke="#071a33" stroke-width="0.95" />
<rect x="218.29" y="327.24" width="2.40" height="2.40" fill="#2aace2" stroke="#071a33" stroke-width="0.95" />
<rect x="216.31" y="331.32" width="2.40" height="2.40" fill="#2aace2" stroke="#071a33" stroke-width="0.95" />
<rect x="218.83" y="335.40" width="2.40" height="2.40" fill="#2aace2" stroke="#071a33" stroke-width="0.95" />
<rect x="214.87" y="342.54" width="2.40" height="2.40" fill="#2aace2" stroke="#071a33" stroke-width="0.95" />
<rect x="217.57" y="348.66" width="2.40" height="2.40" fill="#2aace2" stroke="#071a33" stroke-width="0.95" />
<line x1="214.75" y1="357.00" x2="214.75" y2="359.60" stroke="#111" stroke-width="0.9" />
<text x="218.55" y="365.20" font-size="8" text-anchor="end" font-style="italic" fill="#111" transform="rotate(-45 218.55 365.20)" stroke="#111" stroke-width="0.22">Asb2</text>
<rect x="222.90" y="335.99" width="6.00" height="21.01" fill="#c8213c" />
<rect x="228.90" y="344.35" width="6.00" height="12.65" fill="#165a92" />
<line x1="225.90" y1="332.93" x2="225.90" y2="335.99" stroke="#231f20" stroke-width="0.8" />
<line x1="224.20" y1="332.93" x2="227.60" y2="332.93" stroke="#231f20" stroke-width="0.8" />
<line x1="231.90" y1="339.86" x2="231.90" y2="344.35" stroke="#231f20" stroke-width="0.8" />
<line x1="230.20" y1="339.86" x2="233.60" y2="339.86" stroke="#231f20" stroke-width="0.8" />
<circle cx="223.98" cy="320.69" r="1.30" fill="#2aace2" stroke="#071a33" stroke-width="0.95" />
<circle cx="227.04" cy="334.56" r="1.30" fill="#2aace2" stroke="#071a33" stroke-width="0.95" />
<circle cx="225.06" cy="337.62" r="1.30" fill="#2aace2" stroke="#071a33" stroke-width="0.95" />
<circle cx="227.58" cy="344.76" r="1.30" fill="#2aace2" stroke="#071a33" stroke-width="0.95" />
<circle cx="223.62" cy="342.72" r="1.30" fill="#2aace2" stroke="#071a33" stroke-width="0.95" />
<circle cx="226.32" cy="335.58" r="1.30" fill="#2aace2" stroke="#071a33" stroke-width="0.95" />
<rect x="229.38" y="330.30" width="2.40" height="2.40" fill="#2aace2" stroke="#071a33" stroke-width="0.95" />
<rect x="232.44" y="329.28" width="2.40" height="2.40" fill="#2aace2" stroke="#071a33" stroke-width="0.95" />
<rect x="230.46" y="343.56" width="2.40" height="2.40" fill="#2aace2" stroke="#071a33" stroke-width="0.95" />
<rect x="232.98" y="348.66" width="2.40" height="2.40" fill="#2aace2" stroke="#071a33" stroke-width="0.95" />
<rect x="229.02" y="351.72" width="2.40" height="2.40" fill="#2aace2" stroke="#071a33" stroke-width="0.95" />
<rect x="231.72" y="349.68" width="2.40" height="2.40" fill="#2aace2" stroke="#071a33" stroke-width="0.95" />
<line x1="228.90" y1="357.00" x2="228.90" y2="359.60" stroke="#111" stroke-width="0.9" />
<text x="232.70" y="365.20" font-size="8" text-anchor="end" font-style="italic" fill="#111" transform="rotate(-45 232.70 365.20)" stroke="#111" stroke-width="0.22">Clu</text>
<rect x="237.05" y="338.03" width="6.00" height="18.97" fill="#c8213c" />
<rect x="243.05" y="328.44" width="6.00" height="28.56" fill="#165a92" />
<line x1="240.05" y1="336.80" x2="240.05" y2="338.03" stroke="#231f20" stroke-width="0.8" />
<line x1="238.35" y1="336.80" x2="241.75" y2="336.80" stroke="#231f20" stroke-width="0.8" />
<line x1="246.05" y1="325.79" x2="246.05" y2="328.44" stroke="#231f20" stroke-width="0.8" />
<line x1="244.35" y1="325.79" x2="247.75" y2="325.79" stroke="#231f20" stroke-width="0.8" />
<circle cx="238.13" cy="332.52" r="1.30" fill="#2aace2" stroke="#071a33" stroke-width="0.95" />
<circle cx="241.19" cy="338.64" r="1.30" fill="#2aace2" stroke="#071a33" stroke-width="0.95" />
<circle cx="239.21" cy="340.68" r="1.30" fill="#2aace2" stroke="#071a33" stroke-width="0.95" />
<circle cx="241.73" cy="336.60" r="1.30" fill="#2aace2" stroke="#071a33" stroke-width="0.95" />
<circle cx="237.77" cy="339.66" r="1.30" fill="#2aace2" stroke="#071a33" stroke-width="0.95" />
<circle cx="240.47" cy="337.62" r="1.30" fill="#2aace2" stroke="#071a33" stroke-width="0.95" />
<rect x="243.53" y="318.26" width="2.40" height="2.40" fill="#2aace2" stroke="#071a33" stroke-width="0.95" />
<rect x="246.59" y="321.12" width="2.40" height="2.40" fill="#2aace2" stroke="#071a33" stroke-width="0.95" />
<rect x="244.61" y="325.20" width="2.40" height="2.40" fill="#2aace2" stroke="#071a33" stroke-width="0.95" />
<rect x="247.13" y="331.32" width="2.40" height="2.40" fill="#2aace2" stroke="#071a33" stroke-width="0.95" />
<rect x="243.17" y="333.36" width="2.40" height="2.40" fill="#2aace2" stroke="#071a33" stroke-width="0.95" />
<rect x="245.87" y="335.40" width="2.40" height="2.40" fill="#2aace2" stroke="#071a33" stroke-width="0.95" />
<line x1="243.05" y1="357.00" x2="243.05" y2="359.60" stroke="#111" stroke-width="0.9" />
<text x="246.85" y="365.20" font-size="8" text-anchor="end" font-style="italic" fill="#111" transform="rotate(-45 246.85 365.20)" stroke="#111" stroke-width="0.22">Dyrk2</text>
<rect x="251.20" y="336.19" width="6.00" height="20.81" fill="#c8213c" />
<rect x="257.20" y="345.78" width="6.00" height="11.22" fill="#165a92" />
<line x1="254.20" y1="332.11" x2="254.20" y2="336.19" stroke="#231f20" stroke-width="0.8" />
<line x1="252.50" y1="332.11" x2="255.90" y2="332.11" stroke="#231f20" stroke-width="0.8" />
<line x1="260.20" y1="343.74" x2="260.20" y2="345.78" stroke="#231f20" stroke-width="0.8" />
<line x1="258.50" y1="343.74" x2="261.90" y2="343.74" stroke="#231f20" stroke-width="0.8" />
<circle cx="252.28" cy="317.22" r="1.30" fill="#2aace2" stroke="#071a33" stroke-width="0.95" />
<circle cx="255.34" cy="331.50" r="1.30" fill="#2aace2" stroke="#071a33" stroke-width="0.95" />
<circle cx="253.36" cy="337.62" r="1.30" fill="#2aace2" stroke="#071a33" stroke-width="0.95" />
<circle cx="255.88" cy="342.72" r="1.30" fill="#2aace2" stroke="#071a33" stroke-width="0.95" />
<circle cx="251.92" cy="343.74" r="1.30" fill="#2aace2" stroke="#071a33" stroke-width="0.95" />
<circle cx="254.62" cy="348.84" r="1.30" fill="#2aace2" stroke="#071a33" stroke-width="0.95" />
<rect x="257.68" y="339.48" width="2.40" height="2.40" fill="#2aace2" stroke="#071a33" stroke-width="0.95" />
<rect x="260.74" y="338.46" width="2.40" height="2.40" fill="#2aace2" stroke="#071a33" stroke-width="0.95" />
<rect x="258.76" y="343.56" width="2.40" height="2.40" fill="#2aace2" stroke="#071a33" stroke-width="0.95" />
<rect x="261.28" y="348.66" width="2.40" height="2.40" fill="#2aace2" stroke="#071a33" stroke-width="0.95" />
<rect x="257.32" y="348.66" width="2.40" height="2.40" fill="#2aace2" stroke="#071a33" stroke-width="0.95" />
<rect x="260.02" y="349.68" width="2.40" height="2.40" fill="#2aace2" stroke="#071a33" stroke-width="0.95" />
<line x1="257.20" y1="357.00" x2="257.20" y2="359.60" stroke="#111" stroke-width="0.9" />
<text x="261.00" y="365.20" font-size="8" text-anchor="end" font-style="italic" fill="#111" transform="rotate(-45 261.00 365.20)" stroke="#111" stroke-width="0.22">Fbxo15</text>
<rect x="265.35" y="336.19" width="6.00" height="20.81" fill="#c8213c" />
<rect x="271.35" y="341.09" width="6.00" height="15.91" fill="#165a92" />
<line x1="268.35" y1="331.70" x2="268.35" y2="336.19" stroke="#231f20" stroke-width="0.8" />
<line x1="266.65" y1="331.70" x2="270.05" y2="331.70" stroke="#231f20" stroke-width="0.8" />
<line x1="274.35" y1="334.97" x2="274.35" y2="341.09" stroke="#231f20" stroke-width="0.8" />
<line x1="272.65" y1="334.97" x2="276.05" y2="334.97" stroke="#231f20" stroke-width="0.8" />
<circle cx="266.43" cy="313.14" r="1.30" fill="#2aace2" stroke="#071a33" stroke-width="0.95" />
<circle cx="269.49" cy="337.62" r="1.30" fill="#2aace2" stroke="#071a33" stroke-width="0.95" />
<circle cx="267.51" cy="341.70" r="1.30" fill="#2aace2" stroke="#071a33" stroke-width="0.95" />
<circle cx="270.03" cy="344.76" r="1.30" fill="#2aace2" stroke="#071a33" stroke-width="0.95" />
<circle cx="266.07" cy="347.82" r="1.30" fill="#2aace2" stroke="#071a33" stroke-width="0.95" />
<circle cx="268.77" cy="334.56" r="1.30" fill="#2aace2" stroke="#071a33" stroke-width="0.95" />
<rect x="271.83" y="310.92" width="2.40" height="2.40" fill="#2aace2" stroke="#071a33" stroke-width="0.95" />
<rect x="274.89" y="337.44" width="2.40" height="2.40" fill="#2aace2" stroke="#071a33" stroke-width="0.95" />
<rect x="272.91" y="343.56" width="2.40" height="2.40" fill="#2aace2" stroke="#071a33" stroke-width="0.95" />
<rect x="275.43" y="347.64" width="2.40" height="2.40" fill="#2aace2" stroke="#071a33" stroke-width="0.95" />
<rect x="271.47" y="348.66" width="2.40" height="2.40" fill="#2aace2" stroke="#071a33" stroke-width="0.95" />
<rect x="274.17" y="354.78" width="2.40" height="2.40" fill="#2aace2" stroke="#071a33" stroke-width="0.95" />
<line x1="271.35" y1="357.00" x2="271.35" y2="359.60" stroke="#111" stroke-width="0.9" />
<text x="275.15" y="365.20" font-size="8" text-anchor="end" font-style="italic" fill="#111" transform="rotate(-45 275.15 365.20)" stroke="#111" stroke-width="0.22">Klhl10</text>
<rect x="279.50" y="336.60" width="6.00" height="20.40" fill="#c8213c" />
<rect x="285.50" y="332.32" width="6.00" height="24.68" fill="#165a92" />
<line x1="282.50" y1="334.97" x2="282.50" y2="336.60" stroke="#231f20" stroke-width="0.8" />
<line x1="280.80" y1="334.97" x2="284.20" y2="334.97" stroke="#231f20" stroke-width="0.8" />
<line x1="288.50" y1="328.85" x2="288.50" y2="332.32" stroke="#231f20" stroke-width="0.8" />
<line x1="286.80" y1="328.85" x2="290.20" y2="328.85" stroke="#231f20" stroke-width="0.8" />
<circle cx="280.58" cy="332.52" r="1.30" fill="#2aace2" stroke="#071a33" stroke-width="0.95" />
<circle cx="283.64" cy="336.60" r="1.30" fill="#2aace2" stroke="#071a33" stroke-width="0.95" />
<circle cx="281.66" cy="339.66" r="1.30" fill="#2aace2" stroke="#071a33" stroke-width="0.95" />
<circle cx="284.18" cy="343.74" r="1.30" fill="#2aace2" stroke="#071a33" stroke-width="0.95" />
<circle cx="280.22" cy="334.56" r="1.30" fill="#2aace2" stroke="#071a33" stroke-width="0.95" />
<circle cx="282.92" cy="335.58" r="1.30" fill="#2aace2" stroke="#071a33" stroke-width="0.95" />
<rect x="285.98" y="321.12" width="2.40" height="2.40" fill="#2aace2" stroke="#071a33" stroke-width="0.95" />
<rect x="289.04" y="319.90" width="2.40" height="2.40" fill="#2aace2" stroke="#071a33" stroke-width="0.95" />
<rect x="287.06" y="331.32" width="2.40" height="2.40" fill="#2aace2" stroke="#071a33" stroke-width="0.95" />
<rect x="289.58" y="335.40" width="2.40" height="2.40" fill="#2aace2" stroke="#071a33" stroke-width="0.95" />
<rect x="285.62" y="338.46" width="2.40" height="2.40" fill="#2aace2" stroke="#071a33" stroke-width="0.95" />
<rect x="288.32" y="341.52" width="2.40" height="2.40" fill="#2aace2" stroke="#071a33" stroke-width="0.95" />
<line x1="285.50" y1="357.00" x2="285.50" y2="359.60" stroke="#111" stroke-width="0.9" />
<text x="289.30" y="365.20" font-size="8" text-anchor="end" font-style="italic" fill="#111" transform="rotate(-45 289.30 365.20)" stroke="#111" stroke-width="0.22">Klhl42</text>
<rect x="293.65" y="336.60" width="6.00" height="20.40" fill="#c8213c" />
<rect x="299.65" y="338.03" width="6.00" height="18.97" fill="#165a92" />
<line x1="296.65" y1="334.56" x2="296.65" y2="336.60" stroke="#231f20" stroke-width="0.8" />
<line x1="294.95" y1="334.56" x2="298.35" y2="334.56" stroke="#231f20" stroke-width="0.8" />
<line x1="302.65" y1="335.38" x2="302.65" y2="338.03" stroke="#231f20" stroke-width="0.8" />
<line x1="300.95" y1="335.38" x2="304.35" y2="335.38" stroke="#231f20" stroke-width="0.8" />
<circle cx="294.73" cy="327.42" r="1.30" fill="#2aace2" stroke="#071a33" stroke-width="0.95" />
<circle cx="297.79" cy="335.58" r="1.30" fill="#2aace2" stroke="#071a33" stroke-width="0.95" />
<circle cx="295.81" cy="338.64" r="1.30" fill="#2aace2" stroke="#071a33" stroke-width="0.95" />
<circle cx="298.33" cy="342.72" r="1.30" fill="#2aace2" stroke="#071a33" stroke-width="0.95" />
<circle cx="294.37" cy="336.60" r="1.30" fill="#2aace2" stroke="#071a33" stroke-width="0.95" />
<circle cx="297.07" cy="339.66" r="1.30" fill="#2aace2" stroke="#071a33" stroke-width="0.95" />
<rect x="300.13" y="327.24" width="2.40" height="2.40" fill="#2aace2" stroke="#071a33" stroke-width="0.95" />
<rect x="303.19" y="329.28" width="2.40" height="2.40" fill="#2aace2" stroke="#071a33" stroke-width="0.95" />
<rect x="301.21" y="337.44" width="2.40" height="2.40" fill="#2aace2" stroke="#071a33" stroke-width="0.95" />
<rect x="303.73" y="342.54" width="2.40" height="2.40" fill="#2aace2" stroke="#071a33" stroke-width="0.95" />
<rect x="299.77" y="343.56" width="2.40" height="2.40" fill="#2aace2" stroke="#071a33" stroke-width="0.95" />
<rect x="302.47" y="339.48" width="2.40" height="2.40" fill="#2aace2" stroke="#071a33" stroke-width="0.95" />
<line x1="299.65" y1="357.00" x2="299.65" y2="359.60" stroke="#111" stroke-width="0.9" />
<text x="303.45" y="365.20" font-size="8" text-anchor="end" font-style="italic" fill="#111" transform="rotate(-45 303.45 365.20)" stroke="#111" stroke-width="0.22">Nf2</text>
<rect x="307.80" y="336.60" width="6.00" height="20.40" fill="#c8213c" />
<rect x="313.80" y="335.99" width="6.00" height="21.01" fill="#165a92" />
<line x1="310.80" y1="332.52" x2="310.80" y2="336.60" stroke="#231f20" stroke-width="0.8" />
<line x1="309.10" y1="332.52" x2="312.50" y2="332.52" stroke="#231f20" stroke-width="0.8" />
<line x1="316.80" y1="332.52" x2="316.80" y2="335.99" stroke="#231f20" stroke-width="0.8" />
<line x1="315.10" y1="332.52" x2="318.50" y2="332.52" stroke="#231f20" stroke-width="0.8" />
<circle cx="308.88" cy="321.10" r="1.30" fill="#2aace2" stroke="#071a33" stroke-width="0.95" />
<circle cx="311.94" cy="330.48" r="1.30" fill="#2aace2" stroke="#071a33" stroke-width="0.95" />
<circle cx="309.96" cy="337.62" r="1.30" fill="#2aace2" stroke="#071a33" stroke-width="0.95" />
<circle cx="312.48" cy="346.80" r="1.30" fill="#2aace2" stroke="#071a33" stroke-width="0.95" />
<circle cx="308.52" cy="347.82" r="1.30" fill="#2aace2" stroke="#071a33" stroke-width="0.95" />
<circle cx="311.22" cy="336.60" r="1.30" fill="#2aace2" stroke="#071a33" stroke-width="0.95" />
<rect x="314.28" y="325.61" width="2.40" height="2.40" fill="#2aace2" stroke="#071a33" stroke-width="0.95" />
<rect x="317.34" y="329.28" width="2.40" height="2.40" fill="#2aace2" stroke="#071a33" stroke-width="0.95" />
<rect x="315.36" y="333.36" width="2.40" height="2.40" fill="#2aace2" stroke="#071a33" stroke-width="0.95" />
<rect x="317.88" y="343.56" width="2.40" height="2.40" fill="#2aace2" stroke="#071a33" stroke-width="0.95" />
<rect x="313.92" y="349.68" width="2.40" height="2.40" fill="#2aace2" stroke="#071a33" stroke-width="0.95" />
<rect x="316.62" y="335.40" width="2.40" height="2.40" fill="#2aace2" stroke="#071a33" stroke-width="0.95" />
<line x1="313.80" y1="357.00" x2="313.80" y2="359.60" stroke="#111" stroke-width="0.9" />
<text x="317.60" y="365.20" font-size="8" text-anchor="end" font-style="italic" fill="#111" transform="rotate(-45 317.60 365.20)" stroke="#111" stroke-width="0.22">Pdzrn3</text>
<rect x="321.95" y="336.19" width="6.00" height="20.81" fill="#c8213c" />
<rect x="327.95" y="337.21" width="6.00" height="19.79" fill="#165a92" />
<line x1="324.95" y1="334.76" x2="324.95" y2="336.19" stroke="#231f20" stroke-width="0.8" />
<line x1="323.25" y1="334.76" x2="326.65" y2="334.76" stroke="#231f20" stroke-width="0.8" />
<line x1="330.95" y1="334.56" x2="330.95" y2="337.21" stroke="#231f20" stroke-width="0.8" />
<line x1="329.25" y1="334.56" x2="332.65" y2="334.56" stroke="#231f20" stroke-width="0.8" />
<circle cx="323.03" cy="334.56" r="1.30" fill="#2aace2" stroke="#071a33" stroke-width="0.95" />
<circle cx="326.09" cy="333.54" r="1.30" fill="#2aace2" stroke="#071a33" stroke-width="0.95" />
<circle cx="324.11" cy="336.60" r="1.30" fill="#2aace2" stroke="#071a33" stroke-width="0.95" />
<circle cx="326.63" cy="343.74" r="1.30" fill="#2aace2" stroke="#071a33" stroke-width="0.95" />
<circle cx="322.67" cy="335.58" r="1.30" fill="#2aace2" stroke="#071a33" stroke-width="0.95" />
<circle cx="325.37" cy="334.56" r="1.30" fill="#2aace2" stroke="#071a33" stroke-width="0.95" />
<rect x="328.43" y="324.59" width="2.40" height="2.40" fill="#2aace2" stroke="#071a33" stroke-width="0.95" />
<rect x="331.49" y="335.40" width="2.40" height="2.40" fill="#2aace2" stroke="#071a33" stroke-width="0.95" />
<rect x="329.51" y="337.44" width="2.40" height="2.40" fill="#2aace2" stroke="#071a33" stroke-width="0.95" />
<rect x="332.03" y="343.15" width="2.40" height="2.40" fill="#2aace2" stroke="#071a33" stroke-width="0.95" />
<rect x="328.07" y="342.54" width="2.40" height="2.40" fill="#2aace2" stroke="#071a33" stroke-width="0.95" />
<rect x="330.77" y="336.42" width="2.40" height="2.40" fill="#2aace2" stroke="#071a33" stroke-width="0.95" />
<line x1="327.95" y1="357.00" x2="327.95" y2="359.60" stroke="#111" stroke-width="0.9" />
<text x="331.75" y="365.20" font-size="8" text-anchor="end" font-style="italic" fill="#111" transform="rotate(-45 331.75 365.20)" stroke="#111" stroke-width="0.22">Rnf11</text>
<rect x="336.10" y="336.60" width="6.00" height="20.40" fill="#c8213c" />
<rect x="342.10" y="335.58" width="6.00" height="21.42" fill="#165a92" />
<line x1="339.10" y1="334.56" x2="339.10" y2="336.60" stroke="#231f20" stroke-width="0.8" />
<line x1="337.40" y1="334.56" x2="340.80" y2="334.56" stroke="#231f20" stroke-width="0.8" />
<line x1="345.10" y1="332.52" x2="345.10" y2="335.58" stroke="#231f20" stroke-width="0.8" />
<line x1="343.40" y1="332.52" x2="346.80" y2="332.52" stroke="#231f20" stroke-width="0.8" />
<circle cx="337.18" cy="332.52" r="1.30" fill="#2aace2" stroke="#071a33" stroke-width="0.95" />
<circle cx="340.24" cy="333.54" r="1.30" fill="#2aace2" stroke="#071a33" stroke-width="0.95" />
<circle cx="338.26" cy="336.60" r="1.30" fill="#2aace2" stroke="#071a33" stroke-width="0.95" />
<circle cx="340.78" cy="346.80" r="1.30" fill="#2aace2" stroke="#071a33" stroke-width="0.95" />
<circle cx="336.82" cy="337.62" r="1.30" fill="#2aace2" stroke="#071a33" stroke-width="0.95" />
<circle cx="339.52" cy="334.56" r="1.30" fill="#2aace2" stroke="#071a33" stroke-width="0.95" />
<rect x="342.58" y="320.51" width="2.40" height="2.40" fill="#2aace2" stroke="#071a33" stroke-width="0.95" />
<rect x="345.64" y="331.32" width="2.40" height="2.40" fill="#2aace2" stroke="#071a33" stroke-width="0.95" />
<rect x="343.66" y="335.40" width="2.40" height="2.40" fill="#2aace2" stroke="#071a33" stroke-width="0.95" />
<rect x="346.18" y="339.48" width="2.40" height="2.40" fill="#2aace2" stroke="#071a33" stroke-width="0.95" />
<rect x="342.22" y="343.56" width="2.40" height="2.40" fill="#2aace2" stroke="#071a33" stroke-width="0.95" />
<rect x="344.92" y="336.42" width="2.40" height="2.40" fill="#2aace2" stroke="#071a33" stroke-width="0.95" />
<line x1="342.10" y1="357.00" x2="342.10" y2="359.60" stroke="#111" stroke-width="0.9" />
<text x="345.90" y="365.20" font-size="8" text-anchor="end" font-style="italic" fill="#111" transform="rotate(-45 345.90 365.20)" stroke="#111" stroke-width="0.22">Rnf128</text>
<rect x="350.25" y="336.60" width="6.00" height="20.40" fill="#c8213c" />
<rect x="356.25" y="337.01" width="6.00" height="19.99" fill="#165a92" />
<line x1="353.25" y1="334.56" x2="353.25" y2="336.60" stroke="#231f20" stroke-width="0.8" />
<line x1="351.55" y1="334.56" x2="354.95" y2="334.56" stroke="#231f20" stroke-width="0.8" />
<line x1="359.25" y1="334.36" x2="359.25" y2="337.01" stroke="#231f20" stroke-width="0.8" />
<line x1="357.55" y1="334.36" x2="360.95" y2="334.36" stroke="#231f20" stroke-width="0.8" />
<circle cx="351.33" cy="330.48" r="1.30" fill="#2aace2" stroke="#071a33" stroke-width="0.95" />
<circle cx="354.39" cy="336.60" r="1.30" fill="#2aace2" stroke="#071a33" stroke-width="0.95" />
<circle cx="352.41" cy="337.62" r="1.30" fill="#2aace2" stroke="#071a33" stroke-width="0.95" />
<circle cx="354.93" cy="345.78" r="1.30" fill="#2aace2" stroke="#071a33" stroke-width="0.95" />
<circle cx="350.97" cy="338.64" r="1.30" fill="#2aace2" stroke="#071a33" stroke-width="0.95" />
<circle cx="353.67" cy="332.52" r="1.30" fill="#2aace2" stroke="#071a33" stroke-width="0.95" />
<rect x="356.73" y="324.59" width="2.40" height="2.40" fill="#2aace2" stroke="#071a33" stroke-width="0.95" />
<rect x="359.79" y="331.32" width="2.40" height="2.40" fill="#2aace2" stroke="#071a33" stroke-width="0.95" />
<rect x="357.81" y="335.40" width="2.40" height="2.40" fill="#2aace2" stroke="#071a33" stroke-width="0.95" />
<rect x="360.33" y="337.44" width="2.40" height="2.40" fill="#2aace2" stroke="#071a33" stroke-width="0.95" />
<rect x="356.37" y="342.54" width="2.40" height="2.40" fill="#2aace2" stroke="#071a33" stroke-width="0.95" />
<rect x="359.07" y="343.56" width="2.40" height="2.40" fill="#2aace2" stroke="#071a33" stroke-width="0.95" />
<line x1="356.25" y1="357.00" x2="356.25" y2="359.60" stroke="#111" stroke-width="0.9" />
<text x="360.05" y="365.20" font-size="8" text-anchor="end" font-style="italic" fill="#111" transform="rotate(-45 360.05 365.20)" stroke="#111" stroke-width="0.22">Rnf138</text>
<rect x="364.40" y="336.19" width="6.00" height="20.81" fill="#c8213c" />
<rect x="370.40" y="346.39" width="6.00" height="10.61" fill="#165a92" />
<line x1="367.40" y1="334.56" x2="367.40" y2="336.19" stroke="#231f20" stroke-width="0.8" />
<line x1="365.70" y1="334.56" x2="369.10" y2="334.56" stroke="#231f20" stroke-width="0.8" />
<circle cx="365.48" cy="332.52" r="1.30" fill="#2aace2" stroke="#071a33" stroke-width="0.95" />
<circle cx="368.54" cy="334.56" r="1.30" fill="#2aace2" stroke="#071a33" stroke-width="0.95" />
<circle cx="366.56" cy="336.60" r="1.30" fill="#2aace2" stroke="#071a33" stroke-width="0.95" />
<circle cx="369.08" cy="337.62" r="1.30" fill="#2aace2" stroke="#071a33" stroke-width="0.95" />
<circle cx="365.12" cy="343.74" r="1.30" fill="#2aace2" stroke="#071a33" stroke-width="0.95" />
<circle cx="367.82" cy="333.54" r="1.30" fill="#2aace2" stroke="#071a33" stroke-width="0.95" />
<rect x="370.88" y="342.54" width="2.40" height="2.40" fill="#2aace2" stroke="#071a33" stroke-width="0.95" />
<rect x="373.94" y="344.58" width="2.40" height="2.40" fill="#2aace2" stroke="#071a33" stroke-width="0.95" />
<rect x="371.96" y="345.60" width="2.40" height="2.40" fill="#2aace2" stroke="#071a33" stroke-width="0.95" />
<rect x="374.48" y="346.62" width="2.40" height="2.40" fill="#2aace2" stroke="#071a33" stroke-width="0.95" />
<rect x="370.52" y="347.64" width="2.40" height="2.40" fill="#2aace2" stroke="#071a33" stroke-width="0.95" />
<rect x="373.22" y="343.56" width="2.40" height="2.40" fill="#2aace2" stroke="#071a33" stroke-width="0.95" />
<line x1="370.40" y1="357.00" x2="370.40" y2="359.60" stroke="#111" stroke-width="0.9" />
<text x="374.20" y="365.20" font-size="8" text-anchor="end" font-style="italic" fill="#c8213c" transform="rotate(-45 374.20 365.20)" stroke="#c8213c" stroke-width="0.22">Rnf217</text>
<rect x="378.55" y="336.60" width="6.00" height="20.40" fill="#c8213c" />
<rect x="384.55" y="351.70" width="6.00" height="5.30" fill="#165a92" />
<line x1="381.55" y1="332.11" x2="381.55" y2="336.60" stroke="#231f20" stroke-width="0.8" />
<line x1="379.85" y1="332.11" x2="383.25" y2="332.11" stroke="#231f20" stroke-width="0.8" />
<line x1="387.55" y1="349.25" x2="387.55" y2="351.70" stroke="#231f20" stroke-width="0.8" />
<line x1="385.85" y1="349.25" x2="389.25" y2="349.25" stroke="#231f20" stroke-width="0.8" />
<circle cx="379.63" cy="322.32" r="1.30" fill="#2aace2" stroke="#071a33" stroke-width="0.95" />
<circle cx="382.69" cy="325.38" r="1.30" fill="#2aace2" stroke="#071a33" stroke-width="0.95" />
<circle cx="380.71" cy="338.64" r="1.30" fill="#2aace2" stroke="#071a33" stroke-width="0.95" />
<circle cx="383.23" cy="341.70" r="1.30" fill="#2aace2" stroke="#071a33" stroke-width="0.95" />
<circle cx="379.27" cy="346.80" r="1.30" fill="#2aace2" stroke="#071a33" stroke-width="0.95" />
<circle cx="381.97" cy="348.84" r="1.30" fill="#2aace2" stroke="#071a33" stroke-width="0.95" />
<rect x="385.03" y="337.44" width="2.40" height="2.40" fill="#2aace2" stroke="#071a33" stroke-width="0.95" />
<rect x="388.09" y="347.64" width="2.40" height="2.40" fill="#2aace2" stroke="#071a33" stroke-width="0.95" />
<rect x="386.11" y="350.70" width="2.40" height="2.40" fill="#2aace2" stroke="#071a33" stroke-width="0.95" />
<rect x="388.63" y="352.74" width="2.40" height="2.40" fill="#2aace2" stroke="#071a33" stroke-width="0.95" />
<rect x="384.67" y="353.76" width="2.40" height="2.40" fill="#2aace2" stroke="#071a33" stroke-width="0.95" />
<rect x="387.37" y="351.72" width="2.40" height="2.40" fill="#2aace2" stroke="#071a33" stroke-width="0.95" />
<line x1="384.55" y1="357.00" x2="384.55" y2="359.60" stroke="#111" stroke-width="0.9" />
<text x="388.35" y="365.20" font-size="8" text-anchor="end" font-style="italic" fill="#111" transform="rotate(-45 388.35 365.20)" stroke="#111" stroke-width="0.22">Socs5</text>
<rect x="392.70" y="336.60" width="6.00" height="20.40" fill="#c8213c" />
<rect x="398.70" y="337.62" width="6.00" height="19.38" fill="#165a92" />
<line x1="395.70" y1="333.54" x2="395.70" y2="336.60" stroke="#231f20" stroke-width="0.8" />
<line x1="394.00" y1="333.54" x2="397.40" y2="333.54" stroke="#231f20" stroke-width="0.8" />
<line x1="401.70" y1="332.11" x2="401.70" y2="337.62" stroke="#231f20" stroke-width="0.8" />
<line x1="400.00" y1="332.11" x2="403.40" y2="332.11" stroke="#231f20" stroke-width="0.8" />
<circle cx="393.78" cy="325.79" r="1.30" fill="#2aace2" stroke="#071a33" stroke-width="0.95" />
<circle cx="396.84" cy="332.52" r="1.30" fill="#2aace2" stroke="#071a33" stroke-width="0.95" />
<circle cx="394.86" cy="336.60" r="1.30" fill="#2aace2" stroke="#071a33" stroke-width="0.95" />
<circle cx="397.38" cy="342.72" r="1.30" fill="#2aace2" stroke="#071a33" stroke-width="0.95" />
<circle cx="393.42" cy="347.82" r="1.30" fill="#2aace2" stroke="#071a33" stroke-width="0.95" />
<circle cx="396.12" cy="337.62" r="1.30" fill="#2aace2" stroke="#071a33" stroke-width="0.95" />
<rect x="399.18" y="317.65" width="2.40" height="2.40" fill="#2aace2" stroke="#071a33" stroke-width="0.95" />
<rect x="402.24" y="321.32" width="2.40" height="2.40" fill="#2aace2" stroke="#071a33" stroke-width="0.95" />
<rect x="400.26" y="341.52" width="2.40" height="2.40" fill="#2aace2" stroke="#071a33" stroke-width="0.95" />
<rect x="402.78" y="343.56" width="2.40" height="2.40" fill="#2aace2" stroke="#071a33" stroke-width="0.95" />
<rect x="398.82" y="346.62" width="2.40" height="2.40" fill="#2aace2" stroke="#071a33" stroke-width="0.95" />
<rect x="401.52" y="348.66" width="2.40" height="2.40" fill="#2aace2" stroke="#071a33" stroke-width="0.95" />
<line x1="398.70" y1="357.00" x2="398.70" y2="359.60" stroke="#111" stroke-width="0.9" />
<text x="402.50" y="365.20" font-size="8" text-anchor="end" font-style="italic" fill="#111" transform="rotate(-45 402.50 365.20)" stroke="#111" stroke-width="0.22">Tnip1</text>
<rect x="406.85" y="336.60" width="6.00" height="20.40" fill="#c8213c" />
<rect x="412.85" y="336.60" width="6.00" height="20.40" fill="#165a92" />
<line x1="415.85" y1="334.97" x2="415.85" y2="336.60" stroke="#231f20" stroke-width="0.8" />
<line x1="414.15" y1="334.97" x2="417.55" y2="334.97" stroke="#231f20" stroke-width="0.8" />
<circle cx="407.93" cy="334.56" r="1.30" fill="#2aace2" stroke="#071a33" stroke-width="0.95" />
<circle cx="410.99" cy="335.58" r="1.30" fill="#2aace2" stroke="#071a33" stroke-width="0.95" />
<circle cx="409.01" cy="336.60" r="1.30" fill="#2aace2" stroke="#071a33" stroke-width="0.95" />
<circle cx="411.53" cy="337.62" r="1.30" fill="#2aace2" stroke="#071a33" stroke-width="0.95" />
<circle cx="407.57" cy="338.64" r="1.30" fill="#2aace2" stroke="#071a33" stroke-width="0.95" />
<circle cx="410.27" cy="336.60" r="1.30" fill="#2aace2" stroke="#071a33" stroke-width="0.95" />
<rect x="413.33" y="325.81" width="2.40" height="2.40" fill="#2aace2" stroke="#071a33" stroke-width="0.95" />
<rect x="416.39" y="334.38" width="2.40" height="2.40" fill="#2aace2" stroke="#071a33" stroke-width="0.95" />
<rect x="414.41" y="335.40" width="2.40" height="2.40" fill="#2aace2" stroke="#071a33" stroke-width="0.95" />
<rect x="416.93" y="337.44" width="2.40" height="2.40" fill="#2aace2" stroke="#071a33" stroke-width="0.95" />
<rect x="412.97" y="338.46" width="2.40" height="2.40" fill="#2aace2" stroke="#071a33" stroke-width="0.95" />
<rect x="415.67" y="336.42" width="2.40" height="2.40" fill="#2aace2" stroke="#071a33" stroke-width="0.95" />
<line x1="412.85" y1="357.00" x2="412.85" y2="359.60" stroke="#111" stroke-width="0.9" />
<text x="416.65" y="365.20" font-size="8" text-anchor="end" font-style="italic" fill="#111" transform="rotate(-45 416.65 365.20)" stroke="#111" stroke-width="0.22">Trim2</text>
<rect x="421.00" y="336.60" width="6.00" height="20.40" fill="#c8213c" />
<rect x="427.00" y="332.52" width="6.00" height="24.48" fill="#165a92" />
<line x1="424.00" y1="333.54" x2="424.00" y2="336.60" stroke="#231f20" stroke-width="0.8" />
<line x1="422.30" y1="333.54" x2="425.70" y2="333.54" stroke="#231f20" stroke-width="0.8" />
<line x1="430.00" y1="328.44" x2="430.00" y2="332.52" stroke="#231f20" stroke-width="0.8" />
<line x1="428.30" y1="328.44" x2="431.70" y2="328.44" stroke="#231f20" stroke-width="0.8" />
<circle cx="422.08" cy="324.36" r="1.30" fill="#2aace2" stroke="#071a33" stroke-width="0.95" />
<circle cx="425.14" cy="334.56" r="1.30" fill="#2aace2" stroke="#071a33" stroke-width="0.95" />
<circle cx="423.16" cy="337.62" r="1.30" fill="#2aace2" stroke="#071a33" stroke-width="0.95" />
<circle cx="425.68" cy="344.76" r="1.30" fill="#2aace2" stroke="#071a33" stroke-width="0.95" />
<circle cx="421.72" cy="345.78" r="1.30" fill="#2aace2" stroke="#071a33" stroke-width="0.95" />
<circle cx="424.42" cy="332.52" r="1.30" fill="#2aace2" stroke="#071a33" stroke-width="0.95" />
<rect x="427.48" y="312.55" width="2.40" height="2.40" fill="#2aace2" stroke="#071a33" stroke-width="0.95" />
<rect x="430.54" y="329.28" width="2.40" height="2.40" fill="#2aace2" stroke="#071a33" stroke-width="0.95" />
<rect x="428.56" y="331.32" width="2.40" height="2.40" fill="#2aace2" stroke="#071a33" stroke-width="0.95" />
<rect x="431.08" y="335.40" width="2.40" height="2.40" fill="#2aace2" stroke="#071a33" stroke-width="0.95" />
<rect x="427.12" y="341.52" width="2.40" height="2.40" fill="#2aace2" stroke="#071a33" stroke-width="0.95" />
<rect x="429.82" y="343.56" width="2.40" height="2.40" fill="#2aace2" stroke="#071a33" stroke-width="0.95" />
<line x1="427.00" y1="357.00" x2="427.00" y2="359.60" stroke="#111" stroke-width="0.9" />
<text x="430.80" y="365.20" font-size="8" text-anchor="end" font-style="italic" fill="#111" transform="rotate(-45 430.80 365.20)" stroke="#111" stroke-width="0.22">Trim25</text>
<rect x="435.15" y="336.60" width="6.00" height="20.40" fill="#c8213c" />
<rect x="441.15" y="337.21" width="6.00" height="19.79" fill="#165a92" />
<line x1="438.15" y1="333.13" x2="438.15" y2="336.60" stroke="#231f20" stroke-width="0.8" />
<line x1="436.45" y1="333.13" x2="439.85" y2="333.13" stroke="#231f20" stroke-width="0.8" />
<line x1="444.15" y1="333.54" x2="444.15" y2="337.21" stroke="#231f20" stroke-width="0.8" />
<line x1="442.45" y1="333.54" x2="445.85" y2="333.54" stroke="#231f20" stroke-width="0.8" />
<circle cx="436.23" cy="328.44" r="1.30" fill="#2aace2" stroke="#071a33" stroke-width="0.95" />
<circle cx="439.29" cy="329.46" r="1.30" fill="#2aace2" stroke="#071a33" stroke-width="0.95" />
<circle cx="437.31" cy="337.62" r="1.30" fill="#2aace2" stroke="#071a33" stroke-width="0.95" />
<circle cx="439.83" cy="340.68" r="1.30" fill="#2aace2" stroke="#071a33" stroke-width="0.95" />
<circle cx="435.87" cy="347.82" r="1.30" fill="#2aace2" stroke="#071a33" stroke-width="0.95" />
<circle cx="438.57" cy="334.56" r="1.30" fill="#2aace2" stroke="#071a33" stroke-width="0.95" />
<rect x="441.63" y="316.22" width="2.40" height="2.40" fill="#2aace2" stroke="#071a33" stroke-width="0.95" />
<rect x="444.69" y="335.40" width="2.40" height="2.40" fill="#2aace2" stroke="#071a33" stroke-width="0.95" />
<rect x="442.71" y="337.44" width="2.40" height="2.40" fill="#2aace2" stroke="#071a33" stroke-width="0.95" />
<rect x="445.23" y="341.52" width="2.40" height="2.40" fill="#2aace2" stroke="#071a33" stroke-width="0.95" />
<rect x="441.27" y="344.58" width="2.40" height="2.40" fill="#2aace2" stroke="#071a33" stroke-width="0.95" />
<rect x="443.97" y="343.56" width="2.40" height="2.40" fill="#2aace2" stroke="#071a33" stroke-width="0.95" />
<line x1="441.15" y1="357.00" x2="441.15" y2="359.60" stroke="#111" stroke-width="0.9" />
<text x="444.95" y="365.20" font-size="8" text-anchor="end" font-style="italic" fill="#111" transform="rotate(-45 444.95 365.20)" stroke="#111" stroke-width="0.22">Trim68</text>
<rect x="449.30" y="334.56" width="6.00" height="22.44" fill="#c8213c" />
<rect x="455.30" y="337.62" width="6.00" height="19.38" fill="#165a92" />
<line x1="452.30" y1="333.13" x2="452.30" y2="334.56" stroke="#231f20" stroke-width="0.8" />
<line x1="450.60" y1="333.13" x2="454.00" y2="333.13" stroke="#231f20" stroke-width="0.8" />
<line x1="458.30" y1="335.99" x2="458.30" y2="337.62" stroke="#231f20" stroke-width="0.8" />
<line x1="456.60" y1="335.99" x2="460.00" y2="335.99" stroke="#231f20" stroke-width="0.8" />
<circle cx="450.38" cy="332.52" r="1.30" fill="#2aace2" stroke="#071a33" stroke-width="0.95" />
<circle cx="453.44" cy="331.50" r="1.30" fill="#2aace2" stroke="#071a33" stroke-width="0.95" />
<circle cx="451.46" cy="333.54" r="1.30" fill="#2aace2" stroke="#071a33" stroke-width="0.95" />
<circle cx="453.98" cy="342.72" r="1.30" fill="#2aace2" stroke="#071a33" stroke-width="0.95" />
<circle cx="450.02" cy="334.56" r="1.30" fill="#2aace2" stroke="#071a33" stroke-width="0.95" />
<circle cx="452.72" cy="337.62" r="1.30" fill="#2aace2" stroke="#071a33" stroke-width="0.95" />
<rect x="455.78" y="327.65" width="2.40" height="2.40" fill="#2aace2" stroke="#071a33" stroke-width="0.95" />
<rect x="458.84" y="335.40" width="2.40" height="2.40" fill="#2aace2" stroke="#071a33" stroke-width="0.95" />
<rect x="456.86" y="336.42" width="2.40" height="2.40" fill="#2aace2" stroke="#071a33" stroke-width="0.95" />
<rect x="459.38" y="339.48" width="2.40" height="2.40" fill="#2aace2" stroke="#071a33" stroke-width="0.95" />
<rect x="455.42" y="338.46" width="2.40" height="2.40" fill="#2aace2" stroke="#071a33" stroke-width="0.95" />
<rect x="458.12" y="337.44" width="2.40" height="2.40" fill="#2aace2" stroke="#071a33" stroke-width="0.95" />
<line x1="455.30" y1="357.00" x2="455.30" y2="359.60" stroke="#111" stroke-width="0.9" />
<text x="459.10" y="365.20" font-size="8" text-anchor="end" font-style="italic" fill="#111" transform="rotate(-45 459.10 365.20)" stroke="#111" stroke-width="0.22">Ube2l6</text>
<rect x="463.45" y="336.60" width="6.00" height="20.40" fill="#c8213c" />
<rect x="469.45" y="322.32" width="6.00" height="34.68" fill="#165a92" />
<line x1="466.45" y1="335.58" x2="466.45" y2="336.60" stroke="#231f20" stroke-width="0.8" />
<line x1="464.75" y1="335.58" x2="468.15" y2="335.58" stroke="#231f20" stroke-width="0.8" />
<line x1="472.45" y1="314.16" x2="472.45" y2="322.32" stroke="#231f20" stroke-width="0.8" />
<line x1="470.75" y1="314.16" x2="474.15" y2="314.16" stroke="#231f20" stroke-width="0.8" />
<circle cx="464.53" cy="332.52" r="1.30" fill="#2aace2" stroke="#071a33" stroke-width="0.95" />
<circle cx="467.59" cy="335.58" r="1.30" fill="#2aace2" stroke="#071a33" stroke-width="0.95" />
<circle cx="465.61" cy="336.60" r="1.30" fill="#2aace2" stroke="#071a33" stroke-width="0.95" />
<circle cx="468.13" cy="337.62" r="1.30" fill="#2aace2" stroke="#071a33" stroke-width="0.95" />
<circle cx="464.17" cy="338.64" r="1.30" fill="#2aace2" stroke="#071a33" stroke-width="0.95" />
<circle cx="466.87" cy="339.66" r="1.30" fill="#2aace2" stroke="#071a33" stroke-width="0.95" />
<rect x="469.93" y="296.23" width="2.40" height="2.40" fill="#2aace2" stroke="#071a33" stroke-width="0.95" />
<rect x="472.99" y="304.60" width="2.40" height="2.40" fill="#2aace2" stroke="#071a33" stroke-width="0.95" />
<rect x="471.01" y="329.28" width="2.40" height="2.40" fill="#2aace2" stroke="#071a33" stroke-width="0.95" />
<rect x="473.53" y="338.46" width="2.40" height="2.40" fill="#2aace2" stroke="#071a33" stroke-width="0.95" />
<rect x="469.57" y="342.54" width="2.40" height="2.40" fill="#2aace2" stroke="#071a33" stroke-width="0.95" />
<rect x="472.27" y="337.44" width="2.40" height="2.40" fill="#2aace2" stroke="#071a33" stroke-width="0.95" />
<line x1="469.45" y1="357.00" x2="469.45" y2="359.60" stroke="#111" stroke-width="0.9" />
<text x="473.25" y="365.20" font-size="8" text-anchor="end" font-style="italic" fill="#111" transform="rotate(-45 473.25 365.20)" stroke="#111" stroke-width="0.22">Vprbp</text>
<rect x="477.60" y="336.60" width="6.00" height="20.40" fill="#c8213c" />
<rect x="483.60" y="334.56" width="6.00" height="22.44" fill="#165a92" />
<line x1="480.60" y1="334.15" x2="480.60" y2="336.60" stroke="#231f20" stroke-width="0.8" />
<line x1="478.90" y1="334.15" x2="482.30" y2="334.15" stroke="#231f20" stroke-width="0.8" />
<line x1="486.60" y1="331.09" x2="486.60" y2="334.56" stroke="#231f20" stroke-width="0.8" />
<line x1="484.90" y1="331.09" x2="488.30" y2="331.09" stroke="#231f20" stroke-width="0.8" />
<circle cx="478.68" cy="322.93" r="1.30" fill="#2aace2" stroke="#071a33" stroke-width="0.95" />
<circle cx="481.74" cy="336.60" r="1.30" fill="#2aace2" stroke="#071a33" stroke-width="0.95" />
<circle cx="479.76" cy="337.62" r="1.30" fill="#2aace2" stroke="#071a33" stroke-width="0.95" />
<circle cx="482.28" cy="339.66" r="1.30" fill="#2aace2" stroke="#071a33" stroke-width="0.95" />
<circle cx="478.32" cy="340.68" r="1.30" fill="#2aace2" stroke="#071a33" stroke-width="0.95" />
<circle cx="481.02" cy="337.62" r="1.30" fill="#2aace2" stroke="#071a33" stroke-width="0.95" />
<rect x="484.08" y="315.61" width="2.40" height="2.40" fill="#2aace2" stroke="#071a33" stroke-width="0.95" />
<rect x="487.14" y="333.36" width="2.40" height="2.40" fill="#2aace2" stroke="#071a33" stroke-width="0.95" />
<rect x="485.16" y="335.40" width="2.40" height="2.40" fill="#2aace2" stroke="#071a33" stroke-width="0.95" />
<rect x="487.68" y="337.44" width="2.40" height="2.40" fill="#2aace2" stroke="#071a33" stroke-width="0.95" />
<rect x="483.72" y="340.50" width="2.40" height="2.40" fill="#2aace2" stroke="#071a33" stroke-width="0.95" />
<rect x="486.42" y="338.46" width="2.40" height="2.40" fill="#2aace2" stroke="#071a33" stroke-width="0.95" />
<line x1="483.60" y1="357.00" x2="483.60" y2="359.60" stroke="#111" stroke-width="0.9" />
<text x="487.40" y="365.20" font-size="8" text-anchor="end" font-style="italic" fill="#111" transform="rotate(-45 487.40 365.20)" stroke="#111" stroke-width="0.22">Wdtc1</text>
<rect x="491.75" y="336.19" width="6.00" height="20.81" fill="#c8213c" />
<rect x="497.75" y="336.60" width="6.00" height="20.40" fill="#165a92" />
<line x1="494.75" y1="334.97" x2="494.75" y2="336.19" stroke="#231f20" stroke-width="0.8" />
<line x1="493.05" y1="334.97" x2="496.45" y2="334.97" stroke="#231f20" stroke-width="0.8" />
<line x1="500.75" y1="335.38" x2="500.75" y2="336.60" stroke="#231f20" stroke-width="0.8" />
<line x1="499.05" y1="335.38" x2="502.45" y2="335.38" stroke="#231f20" stroke-width="0.8" />
<circle cx="492.83" cy="332.52" r="1.30" fill="#2aace2" stroke="#071a33" stroke-width="0.95" />
<circle cx="495.89" cy="333.54" r="1.30" fill="#2aace2" stroke="#071a33" stroke-width="0.95" />
<circle cx="493.91" cy="335.58" r="1.30" fill="#2aace2" stroke="#071a33" stroke-width="0.95" />
<circle cx="496.43" cy="338.64" r="1.30" fill="#2aace2" stroke="#071a33" stroke-width="0.95" />
<circle cx="492.47" cy="340.68" r="1.30" fill="#2aace2" stroke="#071a33" stroke-width="0.95" />
<circle cx="495.17" cy="336.60" r="1.30" fill="#2aace2" stroke="#071a33" stroke-width="0.95" />
<rect x="498.23" y="334.38" width="2.40" height="2.40" fill="#2aace2" stroke="#071a33" stroke-width="0.95" />
<rect x="501.29" y="333.36" width="2.40" height="2.40" fill="#2aace2" stroke="#071a33" stroke-width="0.95" />
<rect x="499.31" y="336.42" width="2.40" height="2.40" fill="#2aace2" stroke="#071a33" stroke-width="0.95" />
<rect x="501.83" y="338.46" width="2.40" height="2.40" fill="#2aace2" stroke="#071a33" stroke-width="0.95" />
<rect x="497.87" y="340.50" width="2.40" height="2.40" fill="#2aace2" stroke="#071a33" stroke-width="0.95" />
<rect x="500.57" y="335.40" width="2.40" height="2.40" fill="#2aace2" stroke="#071a33" stroke-width="0.95" />
<line x1="497.75" y1="357.00" x2="497.75" y2="359.60" stroke="#111" stroke-width="0.9" />
<text x="501.55" y="365.20" font-size="8" text-anchor="end" font-style="italic" fill="#111" transform="rotate(-45 501.55 365.20)" stroke="#111" stroke-width="0.22">Wsb2</text>
<line x1="191.40" y1="295.50" x2="191.40" y2="357.50" stroke="#111" stroke-width="1.1" />
<line x1="190.90" y1="357.00" x2="507.50" y2="357.00" stroke="#111" stroke-width="1.1" />
<line x1="188.90" y1="357.00" x2="191.40" y2="357.00" stroke="#111" stroke-width="0.9" />
<text x="186.60" y="359.90" font-size="8" text-anchor="end">0</text>
<line x1="188.90" y1="336.60" x2="191.40" y2="336.60" stroke="#111" stroke-width="0.9" />
<text x="186.60" y="339.50" font-size="8" text-anchor="end">1</text>
<line x1="188.90" y1="316.20" x2="191.40" y2="316.20" stroke="#111" stroke-width="0.9" />
<text x="186.60" y="319.10" font-size="8" text-anchor="end">2</text>
<line x1="188.90" y1="295.80" x2="191.40" y2="295.80" stroke="#111" stroke-width="0.9" />
<text x="186.60" y="298.70" font-size="8" text-anchor="end">3</text>
<rect x="195.20" y="284.00" width="13.40" height="8.40" fill="#c8213c" />
<text x="213.80" y="291.00" font-size="7.4" font-style="italic" textLength="20.50" lengthAdjust="spacingAndGlyphs">Tet1<tspan font-size="4.59" dy="-2.66">+/+</tspan></text>
<rect x="244.20" y="284.00" width="13.80" height="8.40" fill="#165a92" />
<text x="262.80" y="291.00" font-size="7.4" font-style="italic" textLength="19.50" lengthAdjust="spacingAndGlyphs">Tet1<tspan font-size="4.59" dy="-2.66">-/-</tspan></text>
<text x="177.40" y="353.50" font-size="9" textLength="57.50" lengthAdjust="spacingAndGlyphs" transform="rotate(-90 177.40 353.50)">E3 ligases mRNA</text>
<line x1="365.40" y1="322.50" x2="375.90" y2="322.50" stroke="#111" stroke-width="1" />
<text x="370.65" y="323.10" font-size="9.5" text-anchor="middle" font-weight="bold">**</text>
<line x1="379.05" y1="312.50" x2="390.05" y2="312.50" stroke="#111" stroke-width="1" />
<text x="384.55" y="313.10" font-size="9.5" text-anchor="middle" font-weight="bold">*</text>
<line x1="369.80" y1="304.00" x2="369.80" y2="311.20" stroke="#c8213c" stroke-width="1.8" />
<polygon points="366.80,310.20 372.80,310.20 369.80,314.20" fill="#c8213c"/>
<text x="189.30" y="402.20" font-size="11.5" font-weight="bold" fill="#000">I</text>
<text x="275.50" y="392.20" font-size="8.8" textLength="29.70" lengthAdjust="spacingAndGlyphs">BMDM</text>
<rect x="319.00" y="386.00" width="14.00" height="8.70" fill="#c8213c" />
<text x="337.00" y="393.30" font-size="7.6" font-style="italic" textLength="21.00" lengthAdjust="spacingAndGlyphs">Tet1<tspan font-size="4.71" dy="-2.74">+/+</tspan></text>
<rect x="319.00" y="398.00" width="14.00" height="8.20" fill="#165a92" />
<text x="337.00" y="405.20" font-size="7.6" font-style="italic" textLength="20.00" lengthAdjust="spacingAndGlyphs">Tet1<tspan font-size="4.71" dy="-2.74">-/-</tspan></text>
<rect x="234.00" y="460.00" width="11.40" height="32.10" fill="#c8213c" />
<rect x="245.40" y="468.30" width="11.40" height="23.80" fill="#165a92" />
<rect x="264.00" y="418.20" width="11.80" height="73.90" fill="#c8213c" />
<rect x="275.80" y="448.60" width="12.10" height="43.50" fill="#165a92" />
<rect x="296.00" y="441.50" width="11.50" height="50.60" fill="#c8213c" />
<rect x="307.50" y="466.00" width="12.10" height="26.10" fill="#165a92" />
<rect x="326.00" y="457.80" width="12.50" height="34.30" fill="#c8213c" />
<rect x="338.50" y="466.60" width="12.00" height="25.50" fill="#165a92" />
<line x1="281.80" y1="445.80" x2="281.80" y2="448.60" stroke="#231f20" stroke-width="0.9" />
<line x1="279.20" y1="445.80" x2="284.40" y2="445.80" stroke="#231f20" stroke-width="0.9" />
<line x1="269.90" y1="416.60" x2="269.90" y2="418.20" stroke="#231f20" stroke-width="0.9" />
<line x1="267.30" y1="416.60" x2="272.50" y2="416.60" stroke="#231f20" stroke-width="0.9" />
<line x1="332.20" y1="455.60" x2="332.20" y2="457.80" stroke="#231f20" stroke-width="0.9" />
<line x1="329.60" y1="455.60" x2="334.80" y2="455.60" stroke="#231f20" stroke-width="0.9" />
<line x1="344.50" y1="464.20" x2="344.50" y2="466.60" stroke="#231f20" stroke-width="0.9" />
<line x1="341.90" y1="464.20" x2="347.10" y2="464.20" stroke="#231f20" stroke-width="0.9" />
<line x1="224.80" y1="395.50" x2="224.80" y2="492.60" stroke="#111" stroke-width="1.1" />
<line x1="224.30" y1="492.10" x2="358.00" y2="492.10" stroke="#111" stroke-width="1.1" />
<line x1="222.20" y1="395.70" x2="224.80" y2="395.70" stroke="#111" stroke-width="1" />
<text x="219.60" y="398.60" font-size="8" text-anchor="end">3</text>
<line x1="222.20" y1="456.20" x2="224.80" y2="456.20" stroke="#111" stroke-width="1" />
<text x="219.60" y="459.10" font-size="8" text-anchor="end">1</text>
<line x1="222.20" y1="492.10" x2="224.80" y2="492.10" stroke="#111" stroke-width="1" />
<text x="219.60" y="495.00" font-size="8" text-anchor="end">0</text>
<line x1="245.40" y1="492.10" x2="245.40" y2="494.70" stroke="#111" stroke-width="1" />
<line x1="275.80" y1="492.10" x2="275.80" y2="494.70" stroke="#111" stroke-width="1" />
<line x1="307.50" y1="492.10" x2="307.50" y2="494.70" stroke="#111" stroke-width="1" />
<line x1="338.50" y1="492.10" x2="338.50" y2="494.70" stroke="#111" stroke-width="1" />
<line x1="253.60" y1="606.90" x2="253.60" y2="609.50" stroke="#111" stroke-width="1" />
<line x1="292.80" y1="606.90" x2="292.80" y2="609.50" stroke="#111" stroke-width="1" />
<line x1="331.50" y1="606.90" x2="331.50" y2="609.50" stroke="#111" stroke-width="1" />
<text x="206.60" y="477.00" font-size="8.8" textLength="66.00" lengthAdjust="spacingAndGlyphs" transform="rotate(-90 206.60 477.00)"><tspan font-style="italic">Rnf217</tspan> mRNA (fold)</text>
<text x="188.20" y="505.30" font-size="7.6" textLength="48.00" lengthAdjust="spacingAndGlyphs">FAC treated(h)</text>
<text x="246.40" y="505.30" font-size="7.8" text-anchor="middle">0</text>
<text x="276.40" y="505.30" font-size="7.8" text-anchor="middle">6</text>
<text x="307.50" y="505.30" font-size="7.8" text-anchor="middle">12</text>
<text x="338.00" y="505.30" font-size="7.8" text-anchor="middle">24</text>
<circle cx="237.80" cy="460.40" r="1.55" fill="#2aace2" stroke="#071a33" stroke-width="0.85" />
<circle cx="240.00" cy="461.20" r="1.55" fill="#2aace2" stroke="#071a33" stroke-width="0.85" />
<circle cx="242.00" cy="459.80" r="1.55" fill="#2aace2" stroke="#071a33" stroke-width="0.85" />
<rect x="248.00" y="465.90" width="3.00" height="3.00" fill="#2aace2" stroke="#071a33" stroke-width="0.85" />
<rect x="249.70" y="468.10" width="3.00" height="3.00" fill="#2aace2" stroke="#071a33" stroke-width="0.85" />
<rect x="251.80" y="466.90" width="3.00" height="3.00" fill="#2aace2" stroke="#071a33" stroke-width="0.85" />
<circle cx="267.30" cy="414.00" r="1.55" fill="#2aace2" stroke="#071a33" stroke-width="0.85" />
<circle cx="270.20" cy="417.30" r="1.55" fill="#2aace2" stroke="#071a33" stroke-width="0.85" />
<circle cx="272.20" cy="423.00" r="1.55" fill="#2aace2" stroke="#071a33" stroke-width="0.85" />
<rect x="280.50" y="440.00" width="3.00" height="3.00" fill="#2aace2" stroke="#071a33" stroke-width="0.85" />
<rect x="277.50" y="448.80" width="3.00" height="3.00" fill="#2aace2" stroke="#071a33" stroke-width="0.85" />
<rect x="283.50" y="448.50" width="3.00" height="3.00" fill="#2aace2" stroke="#071a33" stroke-width="0.85" />
<circle cx="299.30" cy="445.00" r="1.55" fill="#2aace2" stroke="#071a33" stroke-width="0.85" />
<circle cx="301.50" cy="438.00" r="1.55" fill="#2aace2" stroke="#071a33" stroke-width="0.85" />
<circle cx="304.30" cy="441.80" r="1.55" fill="#2aace2" stroke="#071a33" stroke-width="0.85" />
<rect x="312.10" y="460.50" width="3.00" height="3.00" fill="#2aace2" stroke="#071a33" stroke-width="0.85" />
<rect x="309.30" y="467.10" width="3.00" height="3.00" fill="#2aace2" stroke="#071a33" stroke-width="0.85" />
<rect x="314.70" y="466.70" width="3.00" height="3.00" fill="#2aace2" stroke="#071a33" stroke-width="0.85" />
<circle cx="330.40" cy="453.70" r="1.55" fill="#2aace2" stroke="#071a33" stroke-width="0.85" />
<circle cx="332.60" cy="459.50" r="1.55" fill="#2aace2" stroke="#071a33" stroke-width="0.85" />
<circle cx="334.60" cy="457.40" r="1.55" fill="#2aace2" stroke="#071a33" stroke-width="0.85" />
<rect x="343.10" y="461.80" width="3.00" height="3.00" fill="#2aace2" stroke="#071a33" stroke-width="0.85" />
<rect x="341.10" y="467.20" width="3.00" height="3.00" fill="#2aace2" stroke="#071a33" stroke-width="0.85" />
<rect x="345.50" y="465.00" width="3.00" height="3.00" fill="#2aace2" stroke="#071a33" stroke-width="0.85" />
<line x1="235.60" y1="451.50" x2="256.80" y2="451.50" stroke="#111" stroke-width="1" />
<text x="246.20" y="452.10" font-size="9.5" text-anchor="middle" font-weight="bold">*</text>
<line x1="265.00" y1="406.50" x2="288.00" y2="406.50" stroke="#111" stroke-width="1" />
<text x="276.50" y="407.10" font-size="9.5" text-anchor="middle" font-weight="bold">**</text>
<line x1="297.00" y1="430.50" x2="319.00" y2="430.50" stroke="#111" stroke-width="1" />
<text x="308.00" y="431.10" font-size="9.5" text-anchor="middle" font-weight="bold">**</text>
<line x1="328.60" y1="446.50" x2="351.00" y2="446.50" stroke="#111" stroke-width="1" />
<text x="339.80" y="447.10" font-size="9.5" text-anchor="middle" font-weight="bold">*</text>
<text x="188.00" y="521.60" font-size="11.5" font-weight="bold" fill="#000">J</text>
<text x="277.00" y="518.50" font-size="8.8" textLength="29.00" lengthAdjust="spacingAndGlyphs">BMDM</text>
<rect x="241.50" y="571.30" width="12.10" height="35.60" fill="#c8213c" />
<rect x="253.60" y="590.90" width="11.40" height="16.00" fill="#165a92" />
<rect x="280.70" y="585.00" width="12.10" height="21.90" fill="#c8213c" />
<rect x="292.80" y="597.00" width="11.40" height="9.90" fill="#165a92" />
<rect x="320.00" y="541.80" width="12.00" height="65.10" fill="#c8213c" />
<rect x="332.00" y="582.40" width="11.50" height="24.50" fill="#165a92" />
<line x1="247.50" y1="565.40" x2="247.50" y2="571.30" stroke="#231f20" stroke-width="0.9" />
<line x1="244.70" y1="565.40" x2="250.30" y2="565.40" stroke="#231f20" stroke-width="0.9" />
<line x1="259.30" y1="587.20" x2="259.30" y2="590.90" stroke="#231f20" stroke-width="0.9" />
<line x1="256.70" y1="587.20" x2="261.90" y2="587.20" stroke="#231f20" stroke-width="0.9" />
<line x1="286.70" y1="583.60" x2="286.70" y2="585.00" stroke="#231f20" stroke-width="0.9" />
<line x1="284.10" y1="583.60" x2="289.30" y2="583.60" stroke="#231f20" stroke-width="0.9" />
<line x1="298.50" y1="595.40" x2="298.50" y2="597.00" stroke="#231f20" stroke-width="0.9" />
<line x1="295.90" y1="595.40" x2="301.10" y2="595.40" stroke="#231f20" stroke-width="0.9" />
<line x1="326.00" y1="534.30" x2="326.00" y2="541.80" stroke="#231f20" stroke-width="0.9" />
<line x1="323.00" y1="534.30" x2="329.00" y2="534.30" stroke="#231f20" stroke-width="0.9" />
<line x1="337.80" y1="577.70" x2="337.80" y2="582.40" stroke="#231f20" stroke-width="0.9" />
<line x1="335.00" y1="577.70" x2="340.60" y2="577.70" stroke="#231f20" stroke-width="0.9" />
<line x1="229.00" y1="520.00" x2="229.00" y2="607.40" stroke="#111" stroke-width="1.1" />
<line x1="228.50" y1="606.90" x2="355.00" y2="606.90" stroke="#111" stroke-width="1.1" />
<line x1="226.40" y1="606.90" x2="229.00" y2="606.90" stroke="#111" stroke-width="1" />
<text x="225.30" y="609.80" font-size="8" text-anchor="end" textLength="11.00" lengthAdjust="spacingAndGlyphs">0.0</text>
<line x1="226.40" y1="578.00" x2="229.00" y2="578.00" stroke="#111" stroke-width="1" />
<text x="225.30" y="580.90" font-size="8" text-anchor="end" textLength="11.00" lengthAdjust="spacingAndGlyphs">0.5</text>
<line x1="226.40" y1="549.10" x2="229.00" y2="549.10" stroke="#111" stroke-width="1" />
<text x="225.30" y="552.00" font-size="8" text-anchor="end" textLength="11.00" lengthAdjust="spacingAndGlyphs">1.0</text>
<line x1="226.40" y1="520.20" x2="229.00" y2="520.20" stroke="#111" stroke-width="1" />
<text x="225.30" y="523.10" font-size="8" text-anchor="end" textLength="11.00" lengthAdjust="spacingAndGlyphs">1.5</text>
<text x="198.80" y="596.40" font-size="8.8" textLength="65.40" lengthAdjust="spacingAndGlyphs" transform="rotate(-90 198.80 596.40)">5hmC Enrichment</text>
<text x="211.60" y="599.70" font-size="8.8" textLength="75.20" lengthAdjust="spacingAndGlyphs" transform="rotate(-90 211.60 599.70)">in <tspan font-style="italic">Rnf217</tspan> promoter</text>
<text x="182.60" y="620.20" font-size="9.6" textLength="58.00" lengthAdjust="spacingAndGlyphs">Promoter loci</text>
<text x="253.60" y="620.20" font-size="8.2" text-anchor="middle">1</text>
<text x="293.40" y="620.20" font-size="8.2" text-anchor="middle">2</text>
<text x="332.70" y="620.20" font-size="8.2" text-anchor="middle">3</text>
<circle cx="244.90" cy="559.60" r="1.55" fill="#2aace2" stroke="#071a33" stroke-width="0.85" />
<circle cx="250.80" cy="562.00" r="1.55" fill="#2aace2" stroke="#071a33" stroke-width="0.85" />
<circle cx="244.60" cy="585.40" r="1.55" fill="#2aace2" stroke="#071a33" stroke-width="0.85" />
<rect x="255.00" y="586.10" width="3.00" height="3.00" fill="#2aace2" stroke="#071a33" stroke-width="0.85" />
<rect x="260.50" y="586.10" width="3.00" height="3.00" fill="#2aace2" stroke="#071a33" stroke-width="0.85" />
<rect x="255.00" y="594.70" width="3.00" height="3.00" fill="#2aace2" stroke="#071a33" stroke-width="0.85" />
<rect x="260.50" y="594.70" width="3.00" height="3.00" fill="#2aace2" stroke="#071a33" stroke-width="0.85" />
<circle cx="283.80" cy="586.20" r="1.55" fill="#2aace2" stroke="#071a33" stroke-width="0.85" />
<circle cx="286.70" cy="584.80" r="1.55" fill="#2aace2" stroke="#071a33" stroke-width="0.85" />
<circle cx="289.60" cy="583.60" r="1.55" fill="#2aace2" stroke="#071a33" stroke-width="0.85" />
<rect x="295.30" y="594.80" width="3.00" height="3.00" fill="#2aace2" stroke="#071a33" stroke-width="0.85" />
<rect x="297.20" y="597.30" width="3.00" height="3.00" fill="#2aace2" stroke="#071a33" stroke-width="0.85" />
<rect x="299.50" y="594.70" width="3.00" height="3.00" fill="#2aace2" stroke="#071a33" stroke-width="0.85" />
<circle cx="325.80" cy="525.20" r="1.55" fill="#2aace2" stroke="#071a33" stroke-width="0.85" />
<circle cx="325.80" cy="550.10" r="1.55" fill="#2aace2" stroke="#071a33" stroke-width="0.85" />
<circle cx="325.80" cy="559.60" r="1.55" fill="#2aace2" stroke="#071a33" stroke-width="0.85" />
<rect x="332.90" y="572.70" width="3.00" height="3.00" fill="#2aace2" stroke="#071a33" stroke-width="0.85" />
<rect x="338.50" y="575.60" width="3.00" height="3.00" fill="#2aace2" stroke="#071a33" stroke-width="0.85" />
<rect x="338.50" y="585.60" width="3.00" height="3.00" fill="#2aace2" stroke="#071a33" stroke-width="0.85" />
<rect x="332.90" y="590.50" width="3.00" height="3.00" fill="#2aace2" stroke="#071a33" stroke-width="0.85" />
<line x1="243.00" y1="549.50" x2="264.30" y2="549.50" stroke="#111" stroke-width="1" />
<text x="253.65" y="550.10" font-size="9.5" text-anchor="middle" font-weight="bold">*</text>
<line x1="282.30" y1="571.50" x2="304.20" y2="571.50" stroke="#111" stroke-width="1" />
<text x="293.25" y="572.10" font-size="9.5" text-anchor="middle" font-weight="bold">**</text>
<line x1="321.50" y1="519.50" x2="346.00" y2="519.50" stroke="#111" stroke-width="1" />
<text x="333.75" y="520.10" font-size="9.5" text-anchor="middle" font-weight="bold">*</text>
<text x="378.20" y="401.60" font-size="11.5" font-weight="bold" fill="#000">K</text>
<text x="380.70" y="411.60" font-size="9" textLength="125.30" lengthAdjust="spacingAndGlyphs"><tspan font-style="italic">Rnf217</tspan> Promoter Methylation</text>
<line x1="378.00" y1="416.20" x2="505.60" y2="416.20" stroke="#222" stroke-width="1.1" />
<text x="400.30" y="429.20" font-size="7.8" font-style="italic" textLength="23.00" lengthAdjust="spacingAndGlyphs">Tet1<tspan font-size="4.84" dy="-2.81">+/+</tspan></text>
<text x="465.80" y="429.20" font-size="7.8" font-style="italic" textLength="22.00" lengthAdjust="spacingAndGlyphs">Tet1<tspan font-size="4.84" dy="-2.81">-/-</tspan></text>
<line x1="378.80" y1="436.25" x2="437.60" y2="436.25" stroke="#000" stroke-width="1.4" />
<line x1="443.30" y1="436.25" x2="501.80" y2="436.25" stroke="#000" stroke-width="1.4" />
<circle cx="387.85" cy="436.25" r="3.45" fill="#f5f5f5" stroke="#000" stroke-width="1.45" />
<circle cx="452.40" cy="436.25" r="3.45" fill="#000" stroke="#000" stroke-width="1.45" />
<circle cx="395.82" cy="436.25" r="3.45" fill="#f5f5f5" stroke="#000" stroke-width="1.45" />
<circle cx="460.37" cy="436.25" r="3.45" fill="#000" stroke="#000" stroke-width="1.45" />
<circle cx="403.79" cy="436.25" r="3.45" fill="#f5f5f5" stroke="#000" stroke-width="1.45" />
<circle cx="468.34" cy="436.25" r="3.45" fill="#f5f5f5" stroke="#000" stroke-width="1.45" />
<circle cx="411.76" cy="436.25" r="3.45" fill="#f5f5f5" stroke="#000" stroke-width="1.45" />
<circle cx="476.31" cy="436.25" r="3.45" fill="#000" stroke="#000" stroke-width="1.45" />
<circle cx="419.73" cy="436.25" r="3.45" fill="#f5f5f5" stroke="#000" stroke-width="1.45" />
<circle cx="484.28" cy="436.25" r="3.45" fill="#f5f5f5" stroke="#000" stroke-width="1.45" />
<circle cx="427.70" cy="436.25" r="3.45" fill="#000" stroke="#000" stroke-width="1.45" />
<circle cx="492.25" cy="436.25" r="3.45" fill="#000" stroke="#000" stroke-width="1.45" />
<line x1="378.80" y1="444.68" x2="437.60" y2="444.68" stroke="#000" stroke-width="1.4" />
<line x1="443.30" y1="444.68" x2="501.80" y2="444.68" stroke="#000" stroke-width="1.4" />
<circle cx="387.85" cy="444.68" r="3.45" fill="#f5f5f5" stroke="#000" stroke-width="1.45" />
<circle cx="452.40" cy="444.68" r="3.45" fill="#f5f5f5" stroke="#000" stroke-width="1.45" />
<circle cx="395.82" cy="444.68" r="3.45" fill="#f5f5f5" stroke="#000" stroke-width="1.45" />
<circle cx="460.37" cy="444.68" r="3.45" fill="#000" stroke="#000" stroke-width="1.45" />
<circle cx="403.79" cy="444.68" r="3.45" fill="#f5f5f5" stroke="#000" stroke-width="1.45" />
<circle cx="468.34" cy="444.68" r="3.45" fill="#f5f5f5" stroke="#000" stroke-width="1.45" />
<circle cx="411.76" cy="444.68" r="3.45" fill="#000" stroke="#000" stroke-width="1.45" />
<circle cx="476.31" cy="444.68" r="3.45" fill="#000" stroke="#000" stroke-width="1.45" />
<circle cx="419.73" cy="444.68" r="3.45" fill="#f5f5f5" stroke="#000" stroke-width="1.45" />
<circle cx="484.28" cy="444.68" r="3.45" fill="#f5f5f5" stroke="#000" stroke-width="1.45" />
<circle cx="427.70" cy="444.68" r="3.45" fill="#f5f5f5" stroke="#000" stroke-width="1.45" />
<circle cx="492.25" cy="444.68" r="3.45" fill="#000" stroke="#000" stroke-width="1.45" />
<line x1="378.80" y1="453.11" x2="437.60" y2="453.11" stroke="#000" stroke-width="1.4" />
<line x1="443.30" y1="453.11" x2="501.80" y2="453.11" stroke="#000" stroke-width="1.4" />
<circle cx="387.85" cy="453.11" r="3.45" fill="#f5f5f5" stroke="#000" stroke-width="1.45" />
<circle cx="452.40" cy="453.11" r="3.45" fill="#000" stroke="#000" stroke-width="1.45" />
<circle cx="395.82" cy="453.11" r="3.45" fill="#f5f5f5" stroke="#000" stroke-width="1.45" />
<circle cx="460.37" cy="453.11" r="3.45" fill="#000" stroke="#000" stroke-width="1.45" />
<circle cx="403.79" cy="453.11" r="3.45" fill="#f5f5f5" stroke="#000" stroke-width="1.45" />
<circle cx="468.34" cy="453.11" r="3.45" fill="#f5f5f5" stroke="#000" stroke-width="1.45" />
<circle cx="411.76" cy="453.11" r="3.45" fill="#f5f5f5" stroke="#000" stroke-width="1.45" />
<circle cx="476.31" cy="453.11" r="3.45" fill="#000" stroke="#000" stroke-width="1.45" />
<circle cx="419.73" cy="453.11" r="3.45" fill="#000" stroke="#000" stroke-width="1.45" />
<circle cx="484.28" cy="453.11" r="3.45" fill="#f5f5f5" stroke="#000" stroke-width="1.45" />
<circle cx="427.70" cy="453.11" r="3.45" fill="#f5f5f5" stroke="#000" stroke-width="1.45" />
<circle cx="492.25" cy="453.11" r="3.45" fill="#f5f5f5" stroke="#000" stroke-width="1.45" />
<line x1="378.80" y1="461.54" x2="437.60" y2="461.54" stroke="#000" stroke-width="1.4" />
<line x1="443.30" y1="461.54" x2="501.80" y2="461.54" stroke="#000" stroke-width="1.4" />
<circle cx="387.85" cy="461.54" r="3.45" fill="#f5f5f5" stroke="#000" stroke-width="1.45" />
<circle cx="452.40" cy="461.54" r="3.45" fill="#000" stroke="#000" stroke-width="1.45" />
<circle cx="395.82" cy="461.54" r="3.45" fill="#f5f5f5" stroke="#000" stroke-width="1.45" />
<circle cx="460.37" cy="461.54" r="3.45" fill="#000" stroke="#000" stroke-width="1.45" />
<circle cx="403.79" cy="461.54" r="3.45" fill="#f5f5f5" stroke="#000" stroke-width="1.45" />
<circle cx="468.34" cy="461.54" r="3.45" fill="#f5f5f5" stroke="#000" stroke-width="1.45" />
<circle cx="411.76" cy="461.54" r="3.45" fill="#f5f5f5" stroke="#000" stroke-width="1.45" />
<circle cx="476.31" cy="461.54" r="3.45" fill="#f5f5f5" stroke="#000" stroke-width="1.45" />
<circle cx="419.73" cy="461.54" r="3.45" fill="#f5f5f5" stroke="#000" stroke-width="1.45" />
<circle cx="484.28" cy="461.54" r="3.45" fill="#f5f5f5" stroke="#000" stroke-width="1.45" />
<circle cx="427.70" cy="461.54" r="3.45" fill="#f5f5f5" stroke="#000" stroke-width="1.45" />
<circle cx="492.25" cy="461.54" r="3.45" fill="#f5f5f5" stroke="#000" stroke-width="1.45" />
<line x1="378.80" y1="469.97" x2="437.60" y2="469.97" stroke="#000" stroke-width="1.4" />
<line x1="443.30" y1="469.97" x2="501.80" y2="469.97" stroke="#000" stroke-width="1.4" />
<circle cx="387.85" cy="469.97" r="3.45" fill="#f5f5f5" stroke="#000" stroke-width="1.45" />
<circle cx="452.40" cy="469.97" r="3.45" fill="#f5f5f5" stroke="#000" stroke-width="1.45" />
<circle cx="395.82" cy="469.97" r="3.45" fill="#f5f5f5" stroke="#000" stroke-width="1.45" />
<circle cx="460.37" cy="469.97" r="3.45" fill="#000" stroke="#000" stroke-width="1.45" />
<circle cx="403.79" cy="469.97" r="3.45" fill="#f5f5f5" stroke="#000" stroke-width="1.45" />
<circle cx="468.34" cy="469.97" r="3.45" fill="#f5f5f5" stroke="#000" stroke-width="1.45" />
<circle cx="411.76" cy="469.97" r="3.45" fill="#f5f5f5" stroke="#000" stroke-width="1.45" />
<circle cx="476.31" cy="469.97" r="3.45" fill="#f5f5f5" stroke="#000" stroke-width="1.45" />
<circle cx="419.73" cy="469.97" r="3.45" fill="#f5f5f5" stroke="#000" stroke-width="1.45" />
<circle cx="484.28" cy="469.97" r="3.45" fill="#f5f5f5" stroke="#000" stroke-width="1.45" />
<circle cx="427.70" cy="469.97" r="3.45" fill="#f5f5f5" stroke="#000" stroke-width="1.45" />
<circle cx="492.25" cy="469.97" r="3.45" fill="#f5f5f5" stroke="#000" stroke-width="1.45" />
<line x1="378.80" y1="478.40" x2="437.60" y2="478.40" stroke="#000" stroke-width="1.4" />
<line x1="443.30" y1="478.40" x2="501.80" y2="478.40" stroke="#000" stroke-width="1.4" />
<circle cx="387.85" cy="478.40" r="3.45" fill="#f5f5f5" stroke="#000" stroke-width="1.45" />
<circle cx="452.40" cy="478.40" r="3.45" fill="#f5f5f5" stroke="#000" stroke-width="1.45" />
<circle cx="395.82" cy="478.40" r="3.45" fill="#f5f5f5" stroke="#000" stroke-width="1.45" />
<circle cx="460.37" cy="478.40" r="3.45" fill="#000" stroke="#000" stroke-width="1.45" />
<circle cx="403.79" cy="478.40" r="3.45" fill="#f5f5f5" stroke="#000" stroke-width="1.45" />
<circle cx="468.34" cy="478.40" r="3.45" fill="#f5f5f5" stroke="#000" stroke-width="1.45" />
<circle cx="411.76" cy="478.40" r="3.45" fill="#f5f5f5" stroke="#000" stroke-width="1.45" />
<circle cx="476.31" cy="478.40" r="3.45" fill="#f5f5f5" stroke="#000" stroke-width="1.45" />
<circle cx="419.73" cy="478.40" r="3.45" fill="#f5f5f5" stroke="#000" stroke-width="1.45" />
<circle cx="484.28" cy="478.40" r="3.45" fill="#f5f5f5" stroke="#000" stroke-width="1.45" />
<circle cx="427.70" cy="478.40" r="3.45" fill="#f5f5f5" stroke="#000" stroke-width="1.45" />
<circle cx="492.25" cy="478.40" r="3.45" fill="#f5f5f5" stroke="#000" stroke-width="1.45" />
<line x1="378.80" y1="486.83" x2="437.60" y2="486.83" stroke="#000" stroke-width="1.4" />
<line x1="443.30" y1="486.83" x2="501.80" y2="486.83" stroke="#000" stroke-width="1.4" />
<circle cx="387.85" cy="486.83" r="3.45" fill="#f5f5f5" stroke="#000" stroke-width="1.45" />
<circle cx="452.40" cy="486.83" r="3.45" fill="#000" stroke="#000" stroke-width="1.45" />
<circle cx="395.82" cy="486.83" r="3.45" fill="#f5f5f5" stroke="#000" stroke-width="1.45" />
<circle cx="460.37" cy="486.83" r="3.45" fill="#f5f5f5" stroke="#000" stroke-width="1.45" />
<circle cx="403.79" cy="486.83" r="3.45" fill="#f5f5f5" stroke="#000" stroke-width="1.45" />
<circle cx="468.34" cy="486.83" r="3.45" fill="#f5f5f5" stroke="#000" stroke-width="1.45" />
<circle cx="411.76" cy="486.83" r="3.45" fill="#f5f5f5" stroke="#000" stroke-width="1.45" />
<circle cx="476.31" cy="486.83" r="3.45" fill="#f5f5f5" stroke="#000" stroke-width="1.45" />
<circle cx="419.73" cy="486.83" r="3.45" fill="#f5f5f5" stroke="#000" stroke-width="1.45" />
<circle cx="484.28" cy="486.83" r="3.45" fill="#f5f5f5" stroke="#000" stroke-width="1.45" />
<circle cx="427.70" cy="486.83" r="3.45" fill="#f5f5f5" stroke="#000" stroke-width="1.45" />
<circle cx="492.25" cy="486.83" r="3.45" fill="#f5f5f5" stroke="#000" stroke-width="1.45" />
<line x1="378.80" y1="495.26" x2="437.60" y2="495.26" stroke="#000" stroke-width="1.4" />
<line x1="443.30" y1="495.26" x2="501.80" y2="495.26" stroke="#000" stroke-width="1.4" />
<circle cx="387.85" cy="495.26" r="3.45" fill="#f5f5f5" stroke="#000" stroke-width="1.45" />
<circle cx="452.40" cy="495.26" r="3.45" fill="#f5f5f5" stroke="#000" stroke-width="1.45" />
<circle cx="395.82" cy="495.26" r="3.45" fill="#f5f5f5" stroke="#000" stroke-width="1.45" />
<circle cx="460.37" cy="495.26" r="3.45" fill="#000" stroke="#000" stroke-width="1.45" />
<circle cx="403.79" cy="495.26" r="3.45" fill="#f5f5f5" stroke="#000" stroke-width="1.45" />
<circle cx="468.34" cy="495.26" r="3.45" fill="#f5f5f5" stroke="#000" stroke-width="1.45" />
<circle cx="411.76" cy="495.26" r="3.45" fill="#f5f5f5" stroke="#000" stroke-width="1.45" />
<circle cx="476.31" cy="495.26" r="3.45" fill="#f5f5f5" stroke="#000" stroke-width="1.45" />
<circle cx="419.73" cy="495.26" r="3.45" fill="#f5f5f5" stroke="#000" stroke-width="1.45" />
<circle cx="484.28" cy="495.26" r="3.45" fill="#f5f5f5" stroke="#000" stroke-width="1.45" />
<circle cx="427.70" cy="495.26" r="3.45" fill="#f5f5f5" stroke="#000" stroke-width="1.45" />
<circle cx="492.25" cy="495.26" r="3.45" fill="#f5f5f5" stroke="#000" stroke-width="1.45" />
<line x1="378.80" y1="503.69" x2="437.60" y2="503.69" stroke="#000" stroke-width="1.4" />
<line x1="443.30" y1="503.69" x2="501.80" y2="503.69" stroke="#000" stroke-width="1.4" />
<circle cx="387.85" cy="503.69" r="3.45" fill="#f5f5f5" stroke="#000" stroke-width="1.45" />
<circle cx="452.40" cy="503.69" r="3.45" fill="#f5f5f5" stroke="#000" stroke-width="1.45" />
<circle cx="395.82" cy="503.69" r="3.45" fill="#f5f5f5" stroke="#000" stroke-width="1.45" />
<circle cx="460.37" cy="503.69" r="3.45" fill="#000" stroke="#000" stroke-width="1.45" />
<circle cx="403.79" cy="503.69" r="3.45" fill="#f5f5f5" stroke="#000" stroke-width="1.45" />
<circle cx="468.34" cy="503.69" r="3.45" fill="#f5f5f5" stroke="#000" stroke-width="1.45" />
<circle cx="411.76" cy="503.69" r="3.45" fill="#f5f5f5" stroke="#000" stroke-width="1.45" />
<circle cx="476.31" cy="503.69" r="3.45" fill="#f5f5f5" stroke="#000" stroke-width="1.45" />
<circle cx="419.73" cy="503.69" r="3.45" fill="#f5f5f5" stroke="#000" stroke-width="1.45" />
<circle cx="484.28" cy="503.69" r="3.45" fill="#f5f5f5" stroke="#000" stroke-width="1.45" />
<circle cx="427.70" cy="503.69" r="3.45" fill="#f5f5f5" stroke="#000" stroke-width="1.45" />
<circle cx="492.25" cy="503.69" r="3.45" fill="#f5f5f5" stroke="#000" stroke-width="1.45" />
<line x1="378.80" y1="512.12" x2="437.60" y2="512.12" stroke="#000" stroke-width="1.4" />
<line x1="443.30" y1="512.12" x2="501.80" y2="512.12" stroke="#000" stroke-width="1.4" />
<circle cx="387.85" cy="512.12" r="3.45" fill="#f5f5f5" stroke="#000" stroke-width="1.45" />
<circle cx="452.40" cy="512.12" r="3.45" fill="#f5f5f5" stroke="#000" stroke-width="1.45" />
<circle cx="395.82" cy="512.12" r="3.45" fill="#f5f5f5" stroke="#000" stroke-width="1.45" />
<circle cx="460.37" cy="512.12" r="3.45" fill="#f5f5f5" stroke="#000" stroke-width="1.45" />
<circle cx="403.79" cy="512.12" r="3.45" fill="#f5f5f5" stroke="#000" stroke-width="1.45" />
<circle cx="468.34" cy="512.12" r="3.45" fill="#f5f5f5" stroke="#000" stroke-width="1.45" />
<circle cx="411.76" cy="512.12" r="3.45" fill="#f5f5f5" stroke="#000" stroke-width="1.45" />
<circle cx="476.31" cy="512.12" r="3.45" fill="#f5f5f5" stroke="#000" stroke-width="1.45" />
<circle cx="419.73" cy="512.12" r="3.45" fill="#f5f5f5" stroke="#000" stroke-width="1.45" />
<circle cx="484.28" cy="512.12" r="3.45" fill="#f5f5f5" stroke="#000" stroke-width="1.45" />
<circle cx="427.70" cy="512.12" r="3.45" fill="#f5f5f5" stroke="#000" stroke-width="1.45" />
<circle cx="492.25" cy="512.12" r="3.45" fill="#f5f5f5" stroke="#000" stroke-width="1.45" />
<line x1="378.80" y1="520.55" x2="437.60" y2="520.55" stroke="#000" stroke-width="1.4" />
<line x1="443.30" y1="520.55" x2="501.80" y2="520.55" stroke="#000" stroke-width="1.4" />
<circle cx="387.85" cy="520.55" r="3.45" fill="#f5f5f5" stroke="#000" stroke-width="1.45" />
<circle cx="452.40" cy="520.55" r="3.45" fill="#f5f5f5" stroke="#000" stroke-width="1.45" />
<circle cx="395.82" cy="520.55" r="3.45" fill="#f5f5f5" stroke="#000" stroke-width="1.45" />
<circle cx="460.37" cy="520.55" r="3.45" fill="#f5f5f5" stroke="#000" stroke-width="1.45" />
<circle cx="403.79" cy="520.55" r="3.45" fill="#f5f5f5" stroke="#000" stroke-width="1.45" />
<circle cx="468.34" cy="520.55" r="3.45" fill="#f5f5f5" stroke="#000" stroke-width="1.45" />
<circle cx="411.76" cy="520.55" r="3.45" fill="#f5f5f5" stroke="#000" stroke-width="1.45" />
<circle cx="476.31" cy="520.55" r="3.45" fill="#f5f5f5" stroke="#000" stroke-width="1.45" />
<circle cx="419.73" cy="520.55" r="3.45" fill="#f5f5f5" stroke="#000" stroke-width="1.45" />
<circle cx="484.28" cy="520.55" r="3.45" fill="#f5f5f5" stroke="#000" stroke-width="1.45" />
<circle cx="427.70" cy="520.55" r="3.45" fill="#f5f5f5" stroke="#000" stroke-width="1.45" />
<circle cx="492.25" cy="520.55" r="3.45" fill="#f5f5f5" stroke="#000" stroke-width="1.45" />
<line x1="378.80" y1="528.98" x2="437.60" y2="528.98" stroke="#000" stroke-width="1.4" />
<line x1="443.30" y1="528.98" x2="501.80" y2="528.98" stroke="#000" stroke-width="1.4" />
<circle cx="387.85" cy="528.98" r="3.45" fill="#f5f5f5" stroke="#000" stroke-width="1.45" />
<circle cx="452.40" cy="528.98" r="3.45" fill="#f5f5f5" stroke="#000" stroke-width="1.45" />
<circle cx="395.82" cy="528.98" r="3.45" fill="#f5f5f5" stroke="#000" stroke-width="1.45" />
<circle cx="460.37" cy="528.98" r="3.45" fill="#f5f5f5" stroke="#000" stroke-width="1.45" />
<circle cx="403.79" cy="528.98" r="3.45" fill="#f5f5f5" stroke="#000" stroke-width="1.45" />
<circle cx="468.34" cy="528.98" r="3.45" fill="#f5f5f5" stroke="#000" stroke-width="1.45" />
<circle cx="411.76" cy="528.98" r="3.45" fill="#f5f5f5" stroke="#000" stroke-width="1.45" />
<circle cx="476.31" cy="528.98" r="3.45" fill="#f5f5f5" stroke="#000" stroke-width="1.45" />
<circle cx="419.73" cy="528.98" r="3.45" fill="#f5f5f5" stroke="#000" stroke-width="1.45" />
<circle cx="484.28" cy="528.98" r="3.45" fill="#f5f5f5" stroke="#000" stroke-width="1.45" />
<circle cx="427.70" cy="528.98" r="3.45" fill="#f5f5f5" stroke="#000" stroke-width="1.45" />
<circle cx="492.25" cy="528.98" r="3.45" fill="#f5f5f5" stroke="#000" stroke-width="1.45" />
<line x1="378.80" y1="537.41" x2="437.60" y2="537.41" stroke="#000" stroke-width="1.4" />
<line x1="443.30" y1="537.41" x2="501.80" y2="537.41" stroke="#000" stroke-width="1.4" />
<circle cx="387.85" cy="537.41" r="3.45" fill="#f5f5f5" stroke="#000" stroke-width="1.45" />
<circle cx="452.40" cy="537.41" r="3.45" fill="#f5f5f5" stroke="#000" stroke-width="1.45" />
<circle cx="395.82" cy="537.41" r="3.45" fill="#f5f5f5" stroke="#000" stroke-width="1.45" />
<circle cx="460.37" cy="537.41" r="3.45" fill="#f5f5f5" stroke="#000" stroke-width="1.45" />
<circle cx="403.79" cy="537.41" r="3.45" fill="#f5f5f5" stroke="#000" stroke-width="1.45" />
<circle cx="468.34" cy="537.41" r="3.45" fill="#f5f5f5" stroke="#000" stroke-width="1.45" />
<circle cx="411.76" cy="537.41" r="3.45" fill="#f5f5f5" stroke="#000" stroke-width="1.45" />
<circle cx="476.31" cy="537.41" r="3.45" fill="#f5f5f5" stroke="#000" stroke-width="1.45" />
<circle cx="419.73" cy="537.41" r="3.45" fill="#f5f5f5" stroke="#000" stroke-width="1.45" />
<circle cx="484.28" cy="537.41" r="3.45" fill="#f5f5f5" stroke="#000" stroke-width="1.45" />
<circle cx="427.70" cy="537.41" r="3.45" fill="#f5f5f5" stroke="#000" stroke-width="1.45" />
<circle cx="492.25" cy="537.41" r="3.45" fill="#f5f5f5" stroke="#000" stroke-width="1.45" />
<line x1="378.80" y1="545.84" x2="437.60" y2="545.84" stroke="#000" stroke-width="1.4" />
<line x1="443.30" y1="545.84" x2="501.80" y2="545.84" stroke="#000" stroke-width="1.4" />
<circle cx="387.85" cy="545.84" r="3.45" fill="#f5f5f5" stroke="#000" stroke-width="1.45" />
<circle cx="452.40" cy="545.84" r="3.45" fill="#f5f5f5" stroke="#000" stroke-width="1.45" />
<circle cx="395.82" cy="545.84" r="3.45" fill="#f5f5f5" stroke="#000" stroke-width="1.45" />
<circle cx="460.37" cy="545.84" r="3.45" fill="#f5f5f5" stroke="#000" stroke-width="1.45" />
<circle cx="403.79" cy="545.84" r="3.45" fill="#f5f5f5" stroke="#000" stroke-width="1.45" />
<circle cx="468.34" cy="545.84" r="3.45" fill="#f5f5f5" stroke="#000" stroke-width="1.45" />
<circle cx="411.76" cy="545.84" r="3.45" fill="#f5f5f5" stroke="#000" stroke-width="1.45" />
<circle cx="476.31" cy="545.84" r="3.45" fill="#f5f5f5" stroke="#000" stroke-width="1.45" />
<circle cx="419.73" cy="545.84" r="3.45" fill="#f5f5f5" stroke="#000" stroke-width="1.45" />
<circle cx="484.28" cy="545.84" r="3.45" fill="#f5f5f5" stroke="#000" stroke-width="1.45" />
<circle cx="427.70" cy="545.84" r="3.45" fill="#f5f5f5" stroke="#000" stroke-width="1.45" />
<circle cx="492.25" cy="545.84" r="3.45" fill="#f5f5f5" stroke="#000" stroke-width="1.45" />
<line x1="378.80" y1="554.27" x2="437.60" y2="554.27" stroke="#000" stroke-width="1.4" />
<line x1="443.30" y1="554.27" x2="501.80" y2="554.27" stroke="#000" stroke-width="1.4" />
<circle cx="387.85" cy="554.27" r="3.45" fill="#f5f5f5" stroke="#000" stroke-width="1.45" />
<circle cx="452.40" cy="554.27" r="3.45" fill="#f5f5f5" stroke="#000" stroke-width="1.45" />
<circle cx="395.82" cy="554.27" r="3.45" fill="#f5f5f5" stroke="#000" stroke-width="1.45" />
<circle cx="460.37" cy="554.27" r="3.45" fill="#f5f5f5" stroke="#000" stroke-width="1.45" />
<circle cx="403.79" cy="554.27" r="3.45" fill="#f5f5f5" stroke="#000" stroke-width="1.45" />
<circle cx="468.34" cy="554.27" r="3.45" fill="#f5f5f5" stroke="#000" stroke-width="1.45" />
<circle cx="411.76" cy="554.27" r="3.45" fill="#f5f5f5" stroke="#000" stroke-width="1.45" />
<circle cx="476.31" cy="554.27" r="3.45" fill="#f5f5f5" stroke="#000" stroke-width="1.45" />
<circle cx="419.73" cy="554.27" r="3.45" fill="#f5f5f5" stroke="#000" stroke-width="1.45" />
<circle cx="484.28" cy="554.27" r="3.45" fill="#f5f5f5" stroke="#000" stroke-width="1.45" />
<circle cx="427.70" cy="554.27" r="3.45" fill="#f5f5f5" stroke="#000" stroke-width="1.45" />
<circle cx="492.25" cy="554.27" r="3.45" fill="#f5f5f5" stroke="#000" stroke-width="1.45" />
<line x1="378.80" y1="562.70" x2="437.60" y2="562.70" stroke="#000" stroke-width="1.4" />
<line x1="443.30" y1="562.70" x2="501.80" y2="562.70" stroke="#000" stroke-width="1.4" />
<circle cx="387.85" cy="562.70" r="3.45" fill="#f5f5f5" stroke="#000" stroke-width="1.45" />
<circle cx="452.40" cy="562.70" r="3.45" fill="#f5f5f5" stroke="#000" stroke-width="1.45" />
<circle cx="395.82" cy="562.70" r="3.45" fill="#f5f5f5" stroke="#000" stroke-width="1.45" />
<circle cx="460.37" cy="562.70" r="3.45" fill="#f5f5f5" stroke="#000" stroke-width="1.45" />
<circle cx="403.79" cy="562.70" r="3.45" fill="#f5f5f5" stroke="#000" stroke-width="1.45" />
<circle cx="468.34" cy="562.70" r="3.45" fill="#f5f5f5" stroke="#000" stroke-width="1.45" />
<circle cx="411.76" cy="562.70" r="3.45" fill="#f5f5f5" stroke="#000" stroke-width="1.45" />
<circle cx="476.31" cy="562.70" r="3.45" fill="#f5f5f5" stroke="#000" stroke-width="1.45" />
<circle cx="419.73" cy="562.70" r="3.45" fill="#f5f5f5" stroke="#000" stroke-width="1.45" />
<circle cx="484.28" cy="562.70" r="3.45" fill="#f5f5f5" stroke="#000" stroke-width="1.45" />
<circle cx="427.70" cy="562.70" r="3.45" fill="#f5f5f5" stroke="#000" stroke-width="1.45" />
<circle cx="492.25" cy="562.70" r="3.45" fill="#f5f5f5" stroke="#000" stroke-width="1.45" />
<line x1="378.80" y1="571.13" x2="437.60" y2="571.13" stroke="#000" stroke-width="1.4" />
<line x1="443.30" y1="571.13" x2="501.80" y2="571.13" stroke="#000" stroke-width="1.4" />
<circle cx="387.85" cy="571.13" r="3.45" fill="#f5f5f5" stroke="#000" stroke-width="1.45" />
<circle cx="452.40" cy="571.13" r="3.45" fill="#f5f5f5" stroke="#000" stroke-width="1.45" />
<circle cx="395.82" cy="571.13" r="3.45" fill="#f5f5f5" stroke="#000" stroke-width="1.45" />
<circle cx="460.37" cy="571.13" r="3.45" fill="#f5f5f5" stroke="#000" stroke-width="1.45" />
<circle cx="403.79" cy="571.13" r="3.45" fill="#f5f5f5" stroke="#000" stroke-width="1.45" />
<circle cx="468.34" cy="571.13" r="3.45" fill="#f5f5f5" stroke="#000" stroke-width="1.45" />
<circle cx="411.76" cy="571.13" r="3.45" fill="#f5f5f5" stroke="#000" stroke-width="1.45" />
<circle cx="476.31" cy="571.13" r="3.45" fill="#f5f5f5" stroke="#000" stroke-width="1.45" />
<circle cx="419.73" cy="571.13" r="3.45" fill="#f5f5f5" stroke="#000" stroke-width="1.45" />
<circle cx="484.28" cy="571.13" r="3.45" fill="#f5f5f5" stroke="#000" stroke-width="1.45" />
<circle cx="427.70" cy="571.13" r="3.45" fill="#f5f5f5" stroke="#000" stroke-width="1.45" />
<circle cx="492.25" cy="571.13" r="3.45" fill="#f5f5f5" stroke="#000" stroke-width="1.45" />
<line x1="378.80" y1="579.56" x2="437.60" y2="579.56" stroke="#000" stroke-width="1.4" />
<line x1="443.30" y1="579.56" x2="501.80" y2="579.56" stroke="#000" stroke-width="1.4" />
<circle cx="387.85" cy="579.56" r="3.45" fill="#f5f5f5" stroke="#000" stroke-width="1.45" />
<circle cx="452.40" cy="579.56" r="3.45" fill="#f5f5f5" stroke="#000" stroke-width="1.45" />
<circle cx="395.82" cy="579.56" r="3.45" fill="#f5f5f5" stroke="#000" stroke-width="1.45" />
<circle cx="460.37" cy="579.56" r="3.45" fill="#f5f5f5" stroke="#000" stroke-width="1.45" />
<circle cx="403.79" cy="579.56" r="3.45" fill="#f5f5f5" stroke="#000" stroke-width="1.45" />
<circle cx="468.34" cy="579.56" r="3.45" fill="#f5f5f5" stroke="#000" stroke-width="1.45" />
<circle cx="411.76" cy="579.56" r="3.45" fill="#f5f5f5" stroke="#000" stroke-width="1.45" />
<circle cx="476.31" cy="579.56" r="3.45" fill="#f5f5f5" stroke="#000" stroke-width="1.45" />
<circle cx="419.73" cy="579.56" r="3.45" fill="#f5f5f5" stroke="#000" stroke-width="1.45" />
<circle cx="484.28" cy="579.56" r="3.45" fill="#f5f5f5" stroke="#000" stroke-width="1.45" />
<circle cx="427.70" cy="579.56" r="3.45" fill="#f5f5f5" stroke="#000" stroke-width="1.45" />
<circle cx="492.25" cy="579.56" r="3.45" fill="#f5f5f5" stroke="#000" stroke-width="1.45" />
<line x1="378.80" y1="587.99" x2="437.60" y2="587.99" stroke="#000" stroke-width="1.4" />
<line x1="443.30" y1="587.99" x2="501.80" y2="587.99" stroke="#000" stroke-width="1.4" />
<circle cx="387.85" cy="587.99" r="3.45" fill="#f5f5f5" stroke="#000" stroke-width="1.45" />
<circle cx="452.40" cy="587.99" r="3.45" fill="#f5f5f5" stroke="#000" stroke-width="1.45" />
<circle cx="395.82" cy="587.99" r="3.45" fill="#f5f5f5" stroke="#000" stroke-width="1.45" />
<circle cx="460.37" cy="587.99" r="3.45" fill="#f5f5f5" stroke="#000" stroke-width="1.45" />
<circle cx="403.79" cy="587.99" r="3.45" fill="#f5f5f5" stroke="#000" stroke-width="1.45" />
<circle cx="468.34" cy="587.99" r="3.45" fill="#f5f5f5" stroke="#000" stroke-width="1.45" />
<circle cx="411.76" cy="587.99" r="3.45" fill="#f5f5f5" stroke="#000" stroke-width="1.45" />
<circle cx="476.31" cy="587.99" r="3.45" fill="#f5f5f5" stroke="#000" stroke-width="1.45" />
<circle cx="419.73" cy="587.99" r="3.45" fill="#f5f5f5" stroke="#000" stroke-width="1.45" />
<circle cx="484.28" cy="587.99" r="3.45" fill="#f5f5f5" stroke="#000" stroke-width="1.45" />
<circle cx="427.70" cy="587.99" r="3.45" fill="#f5f5f5" stroke="#000" stroke-width="1.45" />
<circle cx="492.25" cy="587.99" r="3.45" fill="#f5f5f5" stroke="#000" stroke-width="1.45" />
<line x1="378.80" y1="596.42" x2="437.60" y2="596.42" stroke="#000" stroke-width="1.4" />
<line x1="443.30" y1="596.42" x2="501.80" y2="596.42" stroke="#000" stroke-width="1.4" />
<circle cx="387.85" cy="596.42" r="3.45" fill="#f5f5f5" stroke="#000" stroke-width="1.45" />
<circle cx="452.40" cy="596.42" r="3.45" fill="#f5f5f5" stroke="#000" stroke-width="1.45" />
<circle cx="395.82" cy="596.42" r="3.45" fill="#f5f5f5" stroke="#000" stroke-width="1.45" />
<circle cx="460.37" cy="596.42" r="3.45" fill="#f5f5f5" stroke="#000" stroke-width="1.45" />
<circle cx="403.79" cy="596.42" r="3.45" fill="#f5f5f5" stroke="#000" stroke-width="1.45" />
<circle cx="468.34" cy="596.42" r="3.45" fill="#f5f5f5" stroke="#000" stroke-width="1.45" />
<circle cx="411.76" cy="596.42" r="3.45" fill="#f5f5f5" stroke="#000" stroke-width="1.45" />
<circle cx="476.31" cy="596.42" r="3.45" fill="#f5f5f5" stroke="#000" stroke-width="1.45" />
<circle cx="419.73" cy="596.42" r="3.45" fill="#f5f5f5" stroke="#000" stroke-width="1.45" />
<circle cx="484.28" cy="596.42" r="3.45" fill="#f5f5f5" stroke="#000" stroke-width="1.45" />
<circle cx="427.70" cy="596.42" r="3.45" fill="#f5f5f5" stroke="#000" stroke-width="1.45" />
<circle cx="492.25" cy="596.42" r="3.45" fill="#f5f5f5" stroke="#000" stroke-width="1.45" />
<text x="410.20" y="611.40" font-size="7.8" text-anchor="middle" textLength="18.00" lengthAdjust="spacingAndGlyphs">2.5%</text>
<text x="475.00" y="611.40" font-size="7.8" text-anchor="middle" textLength="22.00" lengthAdjust="spacingAndGlyphs">14.2%</text>
<rect x="0.6" y="0.6" width="518.6" height="626.6" fill="none" stroke="#000" stroke-width="1.3"/>
</svg>
</body></html>
